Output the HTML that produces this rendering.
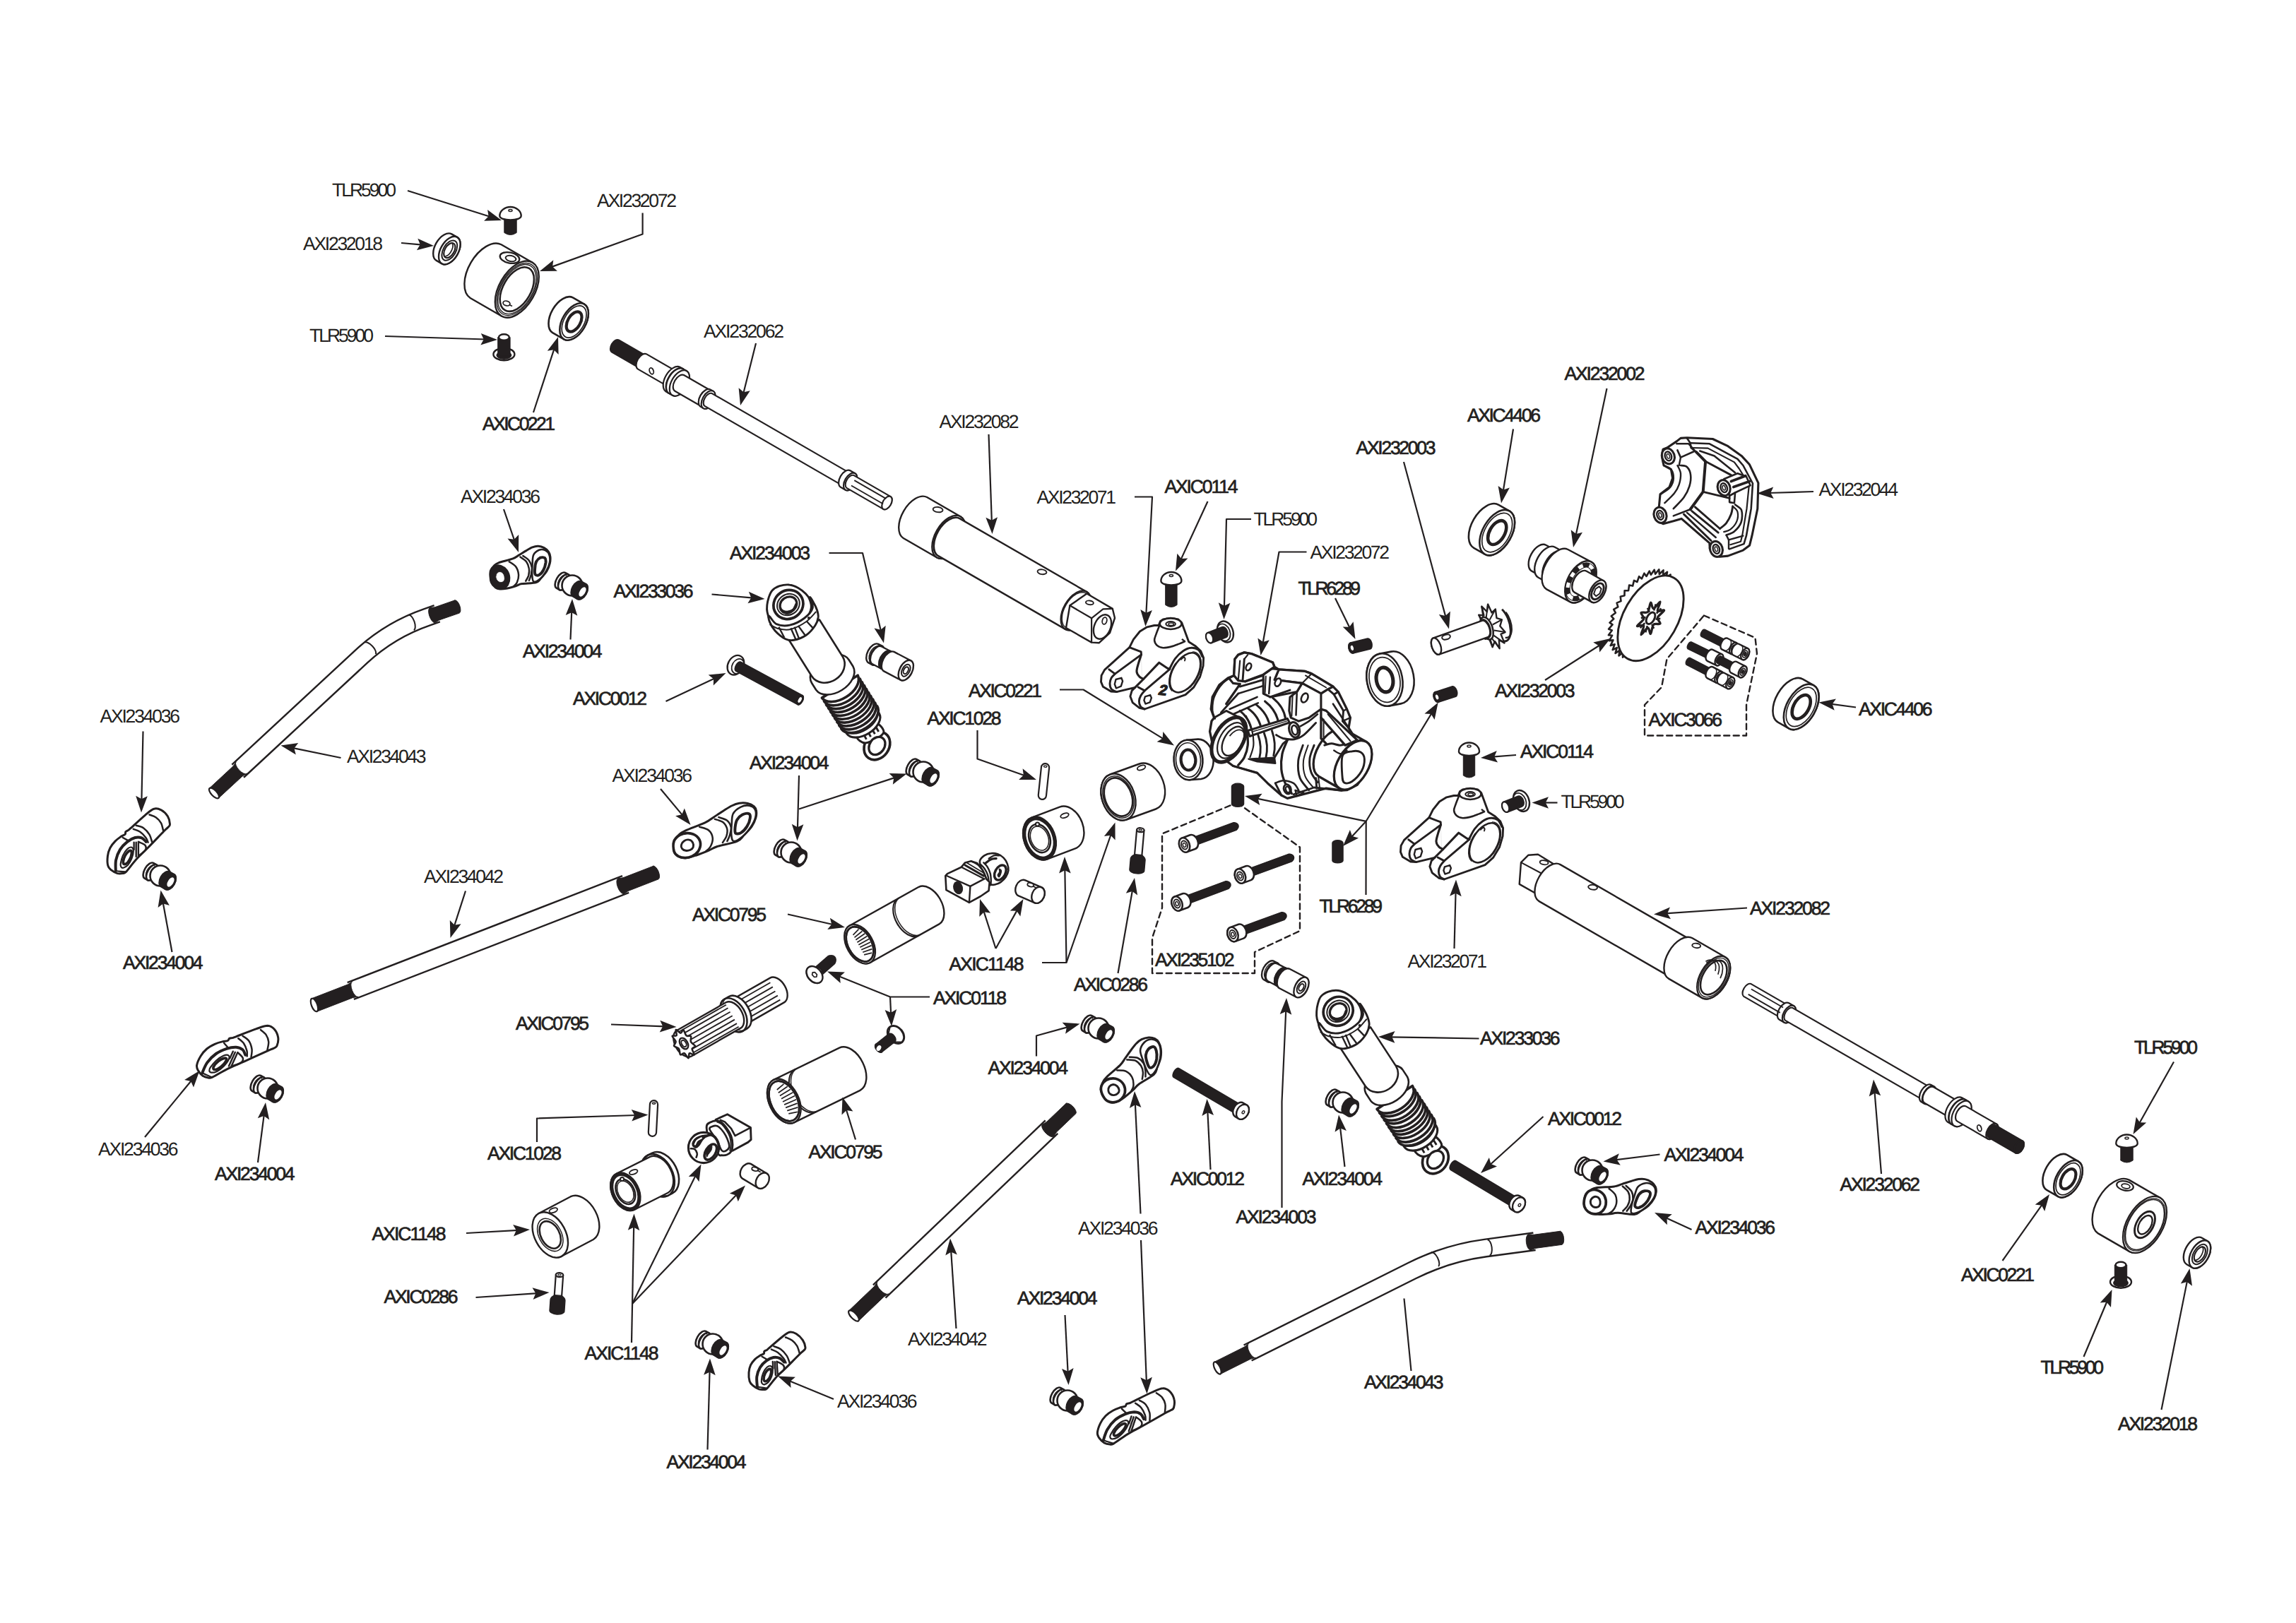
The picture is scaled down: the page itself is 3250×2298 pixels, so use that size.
<!DOCTYPE html><html><head><meta charset="utf-8"><title>Exploded view</title>
<style>html,body{margin:0;padding:0;background:#fff}svg{display:block}text{font-family:"Liberation Sans",sans-serif}</style></head><body>
<svg width="3250" height="2298" viewBox="0 0 3250 2298">
<rect width="3250" height="2298" fill="#fff"/>
<path d="M617.7 368.9L625.5 373.4A21.6 12.5 120 0 0 647.1 335.9L639.3 331.4A21.6 12.5 120 0 0 617.7 368.9Z" fill="#fff" stroke="#231f20" stroke-width="2.4" stroke-linejoin="round"/>
<ellipse cx="636.3" cy="354.6" rx="21.6" ry="12.5" transform="rotate(120 636.3 354.6)" fill="#fff" stroke="#231f20" stroke-width="2.4" />
<ellipse cx="636.3" cy="354.6" rx="15.5" ry="8.9" transform="rotate(120 636.3 354.6)" fill="none" stroke="#231f20" stroke-width="2" />
<ellipse cx="636.3" cy="354.6" rx="11.5" ry="6.6" transform="rotate(120 636.3 354.6)" fill="none" stroke="#231f20" stroke-width="2.2" />
<path d="M630.3 363A11.5 6.6 120 0 0 639.4 343.3" fill="none" stroke="#231f20" stroke-width="1.7"/>
<path d="M665.7 422L709.9 447.5A43.8 25.3 120 0 0 753.7 371.7L709.5 346.2A43.8 25.3 120 0 0 665.7 422Z" fill="#fff" stroke="#231f20" stroke-width="2.4" stroke-linejoin="round"/>
<ellipse cx="731.8" cy="409.6" rx="43.8" ry="25.3" transform="rotate(120 731.8 409.6)" fill="#fff" stroke="#231f20" stroke-width="2.4" />
<ellipse cx="731.8" cy="409.6" rx="40.6" ry="23.4" transform="rotate(120 731.8 409.6)" fill="none" stroke="#231f20" stroke-width="1.4" />
<ellipse cx="731.8" cy="409.6" rx="38.3" ry="22.1" transform="rotate(120 731.8 409.6)" fill="none" stroke="#231f20" stroke-width="1.4" />
<ellipse cx="731.8" cy="409.6" rx="34.2" ry="19.7" transform="rotate(120 731.8 409.6)" fill="none" stroke="#231f20" stroke-width="2.6" />
<ellipse cx="721.5" cy="365" rx="14" ry="7.5" transform="rotate(12 721.5 365)" fill="#fff" stroke="#231f20" stroke-width="2.4"/>
<ellipse cx="723" cy="366" rx="7.5" ry="4" transform="rotate(12 723 366)" fill="#fff" stroke="#231f20" stroke-width="2"/>
<ellipse cx="717" cy="429.5" rx="5" ry="3.3" transform="rotate(15 717 429.5)" fill="#fff" stroke="#231f20" stroke-width="1.8"/>
<path d="M721 431.5L725 433.5" stroke="#231f20" stroke-width="1.7" fill="none"/>
<path d="M782.2 471.1L798.3 480.4A28.7 16.6 120 0 0 827 430.7L810.9 421.4A28.7 16.6 120 0 0 782.2 471.1Z" fill="#fff" stroke="#231f20" stroke-width="2.6" stroke-linejoin="round"/>
<ellipse cx="812.6" cy="455.5" rx="28.7" ry="16.6" transform="rotate(120 812.6 455.5)" fill="#fff" stroke="#231f20" stroke-width="2.6" />
<ellipse cx="812.6" cy="455.5" rx="24.7" ry="14.2" transform="rotate(120 812.6 455.5)" fill="none" stroke="#231f20" stroke-width="1.7" />
<ellipse cx="812.6" cy="455.5" rx="15.5" ry="8.9" transform="rotate(120 812.6 455.5)" fill="#fff" stroke="#231f20" stroke-width="4.2" />
<path d="M713.8 307.5L713.8 329.5Q722.5 335.5 731.2 329.5L731.2 307.5Z" fill="#231f20" stroke="#231f20" stroke-width="1" stroke-linejoin="round" stroke-linecap="round" />
<path d="M707.3 305.5C707.3 298.5 714.5 293 722.5 293C730.5 293 737.7 298.5 737.7 305.5C737.7 313.5 707.3 313.5 707.3 305.5Z" fill="#fff" stroke="#231f20" stroke-width="2.4" stroke-linejoin="round" stroke-linecap="round" />
<ellipse cx="722.5" cy="298" rx="2.6" ry="1.5" fill="none" stroke="#231f20" stroke-width="1.4"/>
<ellipse cx="713.4" cy="501.5" rx="15" ry="8.7" fill="#fff" stroke="#231f20" stroke-width="2.4"/>
<ellipse cx="713.4" cy="503" rx="11" ry="6" fill="#231f20"/>
<path d="M704.7 503.5L704.7 477.5L722.1 477.5L722.1 503.5Z" fill="#231f20" stroke="#231f20" stroke-width="1" stroke-linejoin="round" stroke-linecap="round" />
<ellipse cx="713.4" cy="477.5" rx="7.4" ry="4.2" fill="#fff" stroke="#231f20" stroke-width="2.4"/>
<path d="M866.1 498.5L904.2 520.5A9.8 5.7 120 0 0 914 503.5L875.9 481.5A9.8 5.7 120 0 0 866.1 498.5Z" fill="#231f20" stroke="#231f20" stroke-width="2.2" stroke-linejoin="round"/>
<ellipse cx="909.1" cy="512" rx="9.8" ry="5.7" transform="rotate(120 909.1 512)" fill="#231f20" stroke="#231f20" stroke-width="2.2" />
<path d="M903 522.6L946.3 547.6A12.2 7 120 0 0 958.5 526.4L915.2 501.4A12.2 7 120 0 0 903 522.6Z" fill="#fff" stroke="#231f20" stroke-width="2.2" stroke-linejoin="round"/>
<ellipse cx="952.4" cy="537" rx="12.2" ry="7" transform="rotate(120 952.4 537)" fill="#fff" stroke="#231f20" stroke-width="2.2" />
<path d="M942.4 554.3L946.7 556.8A20 11.5 120 0 0 966.7 522.2L962.4 519.7A20 11.5 120 0 0 942.4 554.3Z" fill="#fff" stroke="#231f20" stroke-width="2.2" stroke-linejoin="round"/>
<ellipse cx="956.7" cy="539.5" rx="20" ry="11.5" transform="rotate(120 956.7 539.5)" fill="#fff" stroke="#231f20" stroke-width="2.2" />
<path d="M946.7 556.8L951.9 559.8A20 11.5 120 0 0 971.9 525.2L966.7 522.2A20 11.5 120 0 0 946.7 556.8Z" fill="#fff" stroke="#231f20" stroke-width="2.2" stroke-linejoin="round"/>
<ellipse cx="961.9" cy="542.5" rx="20" ry="11.5" transform="rotate(120 961.9 542.5)" fill="#fff" stroke="#231f20" stroke-width="2.2" />
<path d="M955.4 553.8L991.8 574.8A13 7.5 120 0 0 1004.8 552.2L968.4 531.2A13 7.5 120 0 0 955.4 553.8Z" fill="#fff" stroke="#231f20" stroke-width="2.2" stroke-linejoin="round"/>
<ellipse cx="998.3" cy="563.5" rx="13" ry="7.5" transform="rotate(120 998.3 563.5)" fill="#fff" stroke="#231f20" stroke-width="2.2" />
<path d="M991.3 575.6L995.6 578.1A14 8.1 120 0 0 1009.6 553.9L1005.3 551.4A14 8.1 120 0 0 991.3 575.6Z" fill="#fff" stroke="#231f20" stroke-width="2.2" stroke-linejoin="round"/>
<ellipse cx="1002.6" cy="566" rx="14" ry="8.1" transform="rotate(120 1002.6 566)" fill="#fff" stroke="#231f20" stroke-width="2.2" />
<path d="M997.5 574.9L1191.5 686.9A10.3 5.9 120 0 0 1201.8 669.1L1007.8 557.1A10.3 5.9 120 0 0 997.5 574.9Z" fill="#fff" stroke="#231f20" stroke-width="2.2" stroke-linejoin="round"/>
<ellipse cx="1196.6" cy="678" rx="10.3" ry="5.9" transform="rotate(120 1196.6 678)" fill="#fff" stroke="#231f20" stroke-width="2.2" />
<path d="M1189.9 689.7L1196.8 693.7A13.5 7.8 120 0 0 1210.3 670.3L1203.4 666.3A13.5 7.8 120 0 0 1189.9 689.7Z" fill="#fff" stroke="#231f20" stroke-width="2.2" stroke-linejoin="round"/>
<ellipse cx="1203.6" cy="682" rx="13.5" ry="7.8" transform="rotate(120 1203.6 682)" fill="#fff" stroke="#231f20" stroke-width="2.2" />
<path d="M1198.4 690.9L1250.4 720.9A10.3 5.9 120 0 0 1260.7 703.1L1208.7 673.1A10.3 5.9 120 0 0 1198.4 690.9Z" fill="#fff" stroke="#231f20" stroke-width="2.2" stroke-linejoin="round"/>
<ellipse cx="1255.5" cy="712" rx="10.3" ry="5.9" transform="rotate(120 1255.5 712)" fill="#fff" stroke="#231f20" stroke-width="2.2" />
<path d="M1209.3 680.1L1254.3 706.1" stroke="#231f20" stroke-width="1.9" fill="none"/>
<path d="M1205 687.5L1250.1 713.5" stroke="#231f20" stroke-width="1.9" fill="none"/>
<ellipse cx="922.2" cy="525.3" rx="2.8" ry="4.6" fill="#fff" stroke="#231f20" stroke-width="1.8" transform="rotate(-20 922.2 525.3)"/>
<path d="M1278.7 762L1326.3 789.5A33.5 19.3 120 0 0 1359.8 731.5L1312.2 704A33.5 19.3 120 0 0 1278.7 762Z" fill="#fff" stroke="#231f20" stroke-width="2.4" stroke-linejoin="round"/>
<ellipse cx="1343" cy="760.5" rx="33.5" ry="19.3" transform="rotate(120 1343 760.5)" fill="#fff" stroke="#231f20" stroke-width="2.4" />
<ellipse cx="1343" cy="760.5" rx="30.9" ry="17.8" transform="rotate(120 1343 760.5)" fill="none" stroke="#231f20" stroke-width="1.4" />
<path d="M1327.8 786.9L1507.9 890.9A30.5 17.6 120 0 0 1538.4 838.1L1358.3 734.1A30.5 17.6 120 0 0 1327.8 786.9Z" fill="#fff" stroke="#231f20" stroke-width="2.4" stroke-linejoin="round"/>
<ellipse cx="1523.2" cy="864.5" rx="30.5" ry="17.6" transform="rotate(120 1523.2 864.5)" fill="#fff" stroke="#231f20" stroke-width="2.4" />
<ellipse cx="1523.2" cy="864.5" rx="28.2" ry="16.3" transform="rotate(120 1523.2 864.5)" fill="none" stroke="#231f20" stroke-width="1.4" />
<path d="M1538.4 840.5L1574.8 861.9L1578 875L1571 896L1555.6 910.3L1545.1 909.6L1509 889L1514.4 857.3Z" fill="#fff" stroke="#231f20" stroke-width="2.4" stroke-linejoin="round" stroke-linecap="round" />
<path d="M1514.4 857.3L1545.1 875.3L1545.1 909.4" fill="none" stroke="#231f20" stroke-width="2.2" stroke-linejoin="round" stroke-linecap="round" />
<path d="M1545.1 875.3L1561.4 862.4L1574.8 861.9" fill="none" stroke="#231f20" stroke-width="2.2" stroke-linejoin="round" stroke-linecap="round" />
<ellipse cx="1560.5" cy="887.5" rx="11.5" ry="18" transform="rotate(22 1560.5 887.5)" fill="#fff" stroke="#231f20" stroke-width="2.4"/>
<ellipse cx="1563.5" cy="879" rx="3.2" ry="5" transform="rotate(15 1563.5 879)" fill="#fff" stroke="#231f20" stroke-width="1.8"/>
<ellipse cx="1327.6" cy="721.6" rx="7" ry="3.6" transform="rotate(8 1327.6 721.6)" fill="#fff" stroke="#231f20" stroke-width="1.9"/>
<ellipse cx="1475" cy="809.7" rx="6.5" ry="3.4" transform="rotate(8 1475 809.7)" fill="#fff" stroke="#231f20" stroke-width="1.9"/>
<ellipse cx="1542.4" cy="853.3" rx="5.5" ry="2.8" transform="rotate(8 1542.4 853.3)" fill="#fff" stroke="#231f20" stroke-width="1.9"/>
<path d="M2468.3 1410.9L2520.3 1440.9A10.3 5.9 120 0 0 2530.6 1423.1L2478.6 1393.1A10.3 5.9 120 0 0 2468.3 1410.9Z" fill="#fff" stroke="#231f20" stroke-width="2.2" stroke-linejoin="round"/>
<ellipse cx="2525.4" cy="1432" rx="10.3" ry="5.9" transform="rotate(120 2525.4 1432)" fill="#fff" stroke="#231f20" stroke-width="2.2" />
<path d="M2518.7 1443.7L2525.6 1447.7A13.5 7.8 120 0 0 2539.1 1424.3L2532.2 1420.3A13.5 7.8 120 0 0 2518.7 1443.7Z" fill="#fff" stroke="#231f20" stroke-width="2.2" stroke-linejoin="round"/>
<ellipse cx="2532.4" cy="1436" rx="13.5" ry="7.8" transform="rotate(120 2532.4 1436)" fill="#fff" stroke="#231f20" stroke-width="2.2" />
<path d="M2527.2 1444.9L2721.2 1556.9A10.3 5.9 120 0 0 2731.5 1539.1L2537.5 1427.1A10.3 5.9 120 0 0 2527.2 1444.9Z" fill="#fff" stroke="#231f20" stroke-width="2.2" stroke-linejoin="round"/>
<ellipse cx="2726.4" cy="1548" rx="10.3" ry="5.9" transform="rotate(120 2726.4 1548)" fill="#fff" stroke="#231f20" stroke-width="2.2" />
<path d="M2719.4 1560.1L2723.7 1562.6A14 8.1 120 0 0 2737.7 1538.4L2733.4 1535.9A14 8.1 120 0 0 2719.4 1560.1Z" fill="#fff" stroke="#231f20" stroke-width="2.2" stroke-linejoin="round"/>
<ellipse cx="2730.7" cy="1550.5" rx="14" ry="8.1" transform="rotate(120 2730.7 1550.5)" fill="#fff" stroke="#231f20" stroke-width="2.2" />
<path d="M2724.2 1561.8L2760.6 1582.8A13 7.5 120 0 0 2773.6 1560.2L2737.2 1539.2A13 7.5 120 0 0 2724.2 1561.8Z" fill="#fff" stroke="#231f20" stroke-width="2.2" stroke-linejoin="round"/>
<ellipse cx="2767.1" cy="1571.5" rx="13" ry="7.5" transform="rotate(120 2767.1 1571.5)" fill="#fff" stroke="#231f20" stroke-width="2.2" />
<path d="M2757.1 1588.8L2762.3 1591.8A20 11.5 120 0 0 2782.3 1557.2L2777.1 1554.2A20 11.5 120 0 0 2757.1 1588.8Z" fill="#fff" stroke="#231f20" stroke-width="2.2" stroke-linejoin="round"/>
<ellipse cx="2772.3" cy="1574.5" rx="20" ry="11.5" transform="rotate(120 2772.3 1574.5)" fill="#fff" stroke="#231f20" stroke-width="2.2" />
<path d="M2762.3 1591.8L2766.6 1594.3A20 11.5 120 0 0 2786.6 1559.7L2782.3 1557.2A20 11.5 120 0 0 2762.3 1591.8Z" fill="#fff" stroke="#231f20" stroke-width="2.2" stroke-linejoin="round"/>
<ellipse cx="2776.6" cy="1577" rx="20" ry="11.5" transform="rotate(120 2776.6 1577)" fill="#fff" stroke="#231f20" stroke-width="2.2" />
<path d="M2770.5 1587.6L2813.8 1612.6A12.2 7 120 0 0 2826 1591.4L2782.7 1566.4A12.2 7 120 0 0 2770.5 1587.6Z" fill="#fff" stroke="#231f20" stroke-width="2.2" stroke-linejoin="round"/>
<ellipse cx="2819.9" cy="1602" rx="12.2" ry="7" transform="rotate(120 2819.9 1602)" fill="#fff" stroke="#231f20" stroke-width="2.2" />
<path d="M2815 1610.5L2853.1 1632.5A9.8 5.7 120 0 0 2862.9 1615.5L2824.8 1593.5A9.8 5.7 120 0 0 2815 1610.5Z" fill="#231f20" stroke="#231f20" stroke-width="2.2" stroke-linejoin="round"/>
<ellipse cx="2858" cy="1624" rx="9.8" ry="5.7" transform="rotate(120 2858 1624)" fill="#231f20" stroke="#231f20" stroke-width="2.2" />
<path d="M2519.7 1433.9L2474.7 1407.9" stroke="#231f20" stroke-width="1.9" fill="none"/>
<path d="M2524 1426.5L2478.9 1400.5" stroke="#231f20" stroke-width="1.9" fill="none"/>
<ellipse cx="2801.8" cy="1597.3" rx="2.8" ry="4.6" fill="#fff" stroke="#231f20" stroke-width="1.8" transform="rotate(-20 2801.8 1597.3)"/>
<path d="M2153 1221.2L2163.5 1210.7L2177 1209.7L2201.9 1225L2185.6 1262.1L2177.9 1267.2L2150.7 1251.9Z" fill="#fff" stroke="#231f20" stroke-width="2.4" stroke-linejoin="round" stroke-linecap="round" />
<path d="M2153 1221.2L2185.6 1238.5" stroke="#231f20" stroke-width="2" fill="none"/>
<ellipse cx="2185.6" cy="1221.2" rx="6" ry="3" transform="rotate(8 2185.6 1221.2)" fill="#fff" stroke="#231f20" stroke-width="1.9"/>
<path d="M2178.6 1276.1L2363.9 1383.1A30 17.3 120 0 0 2393.9 1331.1L2208.6 1224.1A30 17.3 120 0 0 2178.6 1276.1Z" fill="#fff" stroke="#231f20" stroke-width="2.4" stroke-linejoin="round"/>
<path d="M2362.3 1385.9L2409.1 1412.9A33.2 19.2 120 0 0 2442.3 1355.3L2395.5 1328.3A33.2 19.2 120 0 0 2362.3 1385.9Z" fill="#fff" stroke="#231f20" stroke-width="2.4" stroke-linejoin="round"/>
<ellipse cx="2425.7" cy="1384.1" rx="33.2" ry="19.2" transform="rotate(120 2425.7 1384.1)" fill="#fff" stroke="#231f20" stroke-width="2.4" />
<ellipse cx="2425.7" cy="1384.1" rx="30.3" ry="17.5" transform="rotate(120 2425.7 1384.1)" fill="none" stroke="#231f20" stroke-width="1.4" />
<ellipse cx="2425.7" cy="1384.1" rx="26.5" ry="15.3" transform="rotate(120 2425.7 1384.1)" fill="none" stroke="#231f20" stroke-width="2.6" />
<path d="M2435.1 1385.2A24 13.8 120 0 0 2416.1 1366" fill="none" stroke="#231f20" stroke-width="1.7"/>
<path d="M2431.8 1379.7A22 12.7 120 0 0 2415.5 1363.3" fill="none" stroke="#231f20" stroke-width="1.7"/>
<path d="M2427.9 1374.9A20 11.5 120 0 0 2414.4 1361.3" fill="none" stroke="#231f20" stroke-width="1.7"/>
<ellipse cx="2254.6" cy="1256.3" rx="6.5" ry="3.4" transform="rotate(8 2254.6 1256.3)" fill="#fff" stroke="#231f20" stroke-width="1.9"/>
<ellipse cx="2401.2" cy="1338.9" rx="6" ry="3.2" transform="rotate(8 2401.2 1338.9)" fill="#fff" stroke="#231f20" stroke-width="1.9"/>
<path d="M2086.2 775.8L2101.6 784.6A35.2 20.3 120 0 0 2136.8 723.6L2121.4 714.8A35.2 20.3 120 0 0 2086.2 775.8Z" fill="#fff" stroke="#231f20" stroke-width="2.6" stroke-linejoin="round"/>
<ellipse cx="2119.2" cy="754.1" rx="35.2" ry="20.3" transform="rotate(120 2119.2 754.1)" fill="#fff" stroke="#231f20" stroke-width="2.6" />
<ellipse cx="2119.2" cy="754.1" rx="30.3" ry="17.5" transform="rotate(120 2119.2 754.1)" fill="none" stroke="#231f20" stroke-width="1.7" />
<ellipse cx="2119.2" cy="754.1" rx="18.5" ry="10.7" transform="rotate(120 2119.2 754.1)" fill="#fff" stroke="#231f20" stroke-width="4.6" />
<path d="M2516.7 1022.6L2532.1 1031.4A35.2 20.3 120 0 0 2567.3 970.4L2551.9 961.6A35.2 20.3 120 0 0 2516.7 1022.6Z" fill="#fff" stroke="#231f20" stroke-width="2.6" stroke-linejoin="round"/>
<ellipse cx="2549.7" cy="1000.9" rx="35.2" ry="20.3" transform="rotate(120 2549.7 1000.9)" fill="#fff" stroke="#231f20" stroke-width="2.6" />
<ellipse cx="2549.7" cy="1000.9" rx="30.3" ry="17.5" transform="rotate(120 2549.7 1000.9)" fill="none" stroke="#231f20" stroke-width="1.7" />
<ellipse cx="2549.7" cy="1000.9" rx="18.5" ry="10.7" transform="rotate(120 2549.7 1000.9)" fill="#fff" stroke="#231f20" stroke-width="4.6" />
<path d="M1695.8 1046.6L1679.9 1047.8A28.3 20.4 -94.3 0 0 1684.2 1104.2L1700.1 1103A28.3 20.4 -94.3 0 0 1695.8 1046.6Z" fill="#fff" stroke="#231f20" stroke-width="2.6" stroke-linejoin="round"/>
<ellipse cx="1682" cy="1076" rx="28.3" ry="20.4" transform="rotate(-94.3 1682 1076)" fill="#fff" stroke="#231f20" stroke-width="2.6" />
<ellipse cx="1682" cy="1076" rx="24.3" ry="17.5" transform="rotate(-94.3 1682 1076)" fill="none" stroke="#231f20" stroke-width="1.7" />
<ellipse cx="1682" cy="1076" rx="14.5" ry="10.4" transform="rotate(-94.3 1682 1076)" fill="#fff" stroke="#231f20" stroke-width="4.2" />
<path d="M1969.1 922.6L1953.1 925.6A37.5 25.1 -100.6 0 0 1966.9 999.4L1982.9 996.4A37.5 25.1 -100.6 0 0 1969.1 922.6Z" fill="#fff" stroke="#231f20" stroke-width="2.6" stroke-linejoin="round"/>
<ellipse cx="1960" cy="962.5" rx="37.5" ry="25.1" transform="rotate(-100.6 1960 962.5)" fill="#fff" stroke="#231f20" stroke-width="2.6" />
<ellipse cx="1960" cy="962.5" rx="32.2" ry="21.6" transform="rotate(-100.6 1960 962.5)" fill="none" stroke="#231f20" stroke-width="1.7" />
<ellipse cx="1960" cy="962.5" rx="17.5" ry="11.7" transform="rotate(-100.6 1960 962.5)" fill="#fff" stroke="#231f20" stroke-width="5.1" />
<path d="M2373.3 624.9L2379 620.4L2388 619.8L2424.3 621.5L2445.9 631.7L2465.1 645.4L2476.5 657.8L2488.9 683.9L2487.8 720.2L2479.9 758.7L2476.5 772.3L2467.4 779.1L2445.9 787.1L2434.5 788.2L2425.4 785.9L2420.3 776.9L2419.8 768.9L2380.1 734.4L2368.8 737.8L2354 741.7L2344.9 737.2L2342.1 727L2344.9 720.2L2348.3 717.9L2350 699.8L2363.1 689.6L2367.6 677.1L2365.4 664.6L2355.1 659L2354 654.4L2352.3 645.4L2354 636.3L2359.7 634Z" fill="#fff" stroke="#231f20" stroke-width="3.1" stroke-linejoin="round" stroke-linecap="round" />
<path d="M2392.6 627.2L2419.8 628.3L2459.5 649.9L2467.4 659L2481 684.5L2478.7 720.2L2471.9 758.7L2468.5 770.1L2448.1 777.4" fill="none" stroke="#231f20" stroke-width="2.6" stroke-linejoin="round" stroke-linecap="round" />
<path d="M2393.7 634L2417.5 634.6L2454.9 654.4L2461.7 663.5L2475.9 686.2L2472.5 720.2L2466.3 757.6L2464 766.7L2449.3 771.2" fill="none" stroke="#231f20" stroke-width="2.2" stroke-linejoin="round" stroke-linecap="round" />
<path d="M2388 620.4L2392.6 627.2L2393.7 634L2401.1 640.2" fill="none" stroke="#231f20" stroke-width="2.6" stroke-linejoin="round" stroke-linecap="round" />
<path d="M2401.1 640.2L2414.1 653.3L2410.7 696.4L2392.6 721.3" fill="none" stroke="#231f20" stroke-width="4" stroke-linejoin="round" stroke-linecap="round" />
<path d="M2414.1 653.3L2450.4 672.6" fill="none" stroke="#231f20" stroke-width="2.9" stroke-linejoin="round" stroke-linecap="round" />
<path d="M2406.2 638.5L2426.6 645.4L2456.1 669.2" fill="none" stroke="#231f20" stroke-width="2.6" stroke-linejoin="round" stroke-linecap="round" />
<path d="M2410.7 696.4L2448.1 705.4" fill="none" stroke="#231f20" stroke-width="2.9" stroke-linejoin="round" stroke-linecap="round" />
<path d="M2399.4 717.9L2434.5 748.5" fill="none" stroke="#231f20" stroke-width="2.9" stroke-linejoin="round" stroke-linecap="round" />
<path d="M2392.6 721.3L2368.8 730.4" fill="none" stroke="#231f20" stroke-width="2.6" stroke-linejoin="round" stroke-linecap="round" />
<path d="M2373.3 628.3L2390.3 628.3L2399.4 638.5L2379 647.6L2374.4 637.4" fill="none" stroke="#231f20" stroke-width="2.6" stroke-linejoin="round" stroke-linecap="round" />
<path d="M2379 647.6L2376.7 659" fill="none" stroke="#231f20" stroke-width="2.4" stroke-linejoin="round" stroke-linecap="round" />
<path d="M2355.1 659C2356.8 659.9 2363.1 661.6 2365.4 664.6C2367.6 667.6 2368.9 672.9 2368.8 677.1C2368.6 681.3 2367.2 685.8 2364.2 689.6C2361.2 693.3 2352.9 698.1 2350.6 699.8" fill="none" stroke="#231f20" stroke-width="2.6" stroke-linejoin="round" stroke-linecap="round" />
<path d="M2374.4 659C2375.2 660.8 2378.6 665.8 2379 670.3C2379.3 674.8 2378.2 681.4 2376.7 686.2C2375.2 690.9 2373.3 694.3 2369.9 698.6C2366.5 703 2358.5 710 2356.3 712.2" fill="none" stroke="#231f20" stroke-width="2.4" stroke-linejoin="round" stroke-linecap="round" />
<path d="M2379 659C2380.5 659.3 2385.7 659 2388 661.2C2390.4 663.5 2392.6 668 2393.1 672.6C2393.7 677.1 2393 683.1 2391.4 688.4C2389.8 693.7 2387.3 699 2383.5 704.3C2379.7 709.6 2371.2 717.5 2368.8 720.2" fill="none" stroke="#231f20" stroke-width="2.6" stroke-linejoin="round" stroke-linecap="round" />
<path d="M2440.2 678.2L2459.5 670.3L2471.9 674.8L2477.6 687.3L2456.1 697.5L2448.1 702Z" fill="#fff" stroke="#231f20" stroke-width="2.6" stroke-linejoin="round" stroke-linecap="round" />
<path d="M2450.4 681.6L2470.8 673.7" fill="none" stroke="#231f20" stroke-width="3.7" stroke-linejoin="round" stroke-linecap="round" />
<path d="M2453.8 689.6L2476.5 681.6" fill="none" stroke="#231f20" stroke-width="3.7" stroke-linejoin="round" stroke-linecap="round" />
<path d="M2456.1 697.5L2454.9 712.2L2448.1 711.1L2448.1 702" fill="none" stroke="#231f20" stroke-width="2.6" stroke-linejoin="round" stroke-linecap="round" />
<path d="M2456.1 714.5C2457.6 715.8 2463.7 718.3 2465.1 722.4C2466.5 726.6 2466.3 734.4 2464.6 739.5C2462.9 744.5 2458.4 749.5 2454.9 752.5C2451.4 755.5 2445.5 756.7 2443.6 757.6" fill="none" stroke="#231f20" stroke-width="2.6" stroke-linejoin="round" stroke-linecap="round" />
<path d="M2452.7 716.8C2453.8 718.1 2458.5 721.1 2459.5 724.7C2460.4 728.3 2460 734.2 2458.3 738.3C2456.6 742.5 2452.3 747.2 2449.3 749.7C2446.2 752.1 2441.7 752.5 2440.2 753.1" fill="none" stroke="#231f20" stroke-width="2.2" stroke-linejoin="round" stroke-linecap="round" />
<path d="M2434.5 748.5C2436 747.2 2440.9 744 2443.6 740.6C2446.2 737.2 2448.9 732.1 2450.4 728.1C2451.9 724.1 2452.3 718.7 2452.7 716.8" fill="none" stroke="#231f20" stroke-width="2.9" stroke-linejoin="round" stroke-linecap="round" />
<path d="M2443.6 757.6L2447 764.4L2467.4 758.7" fill="none" stroke="#231f20" stroke-width="2.4" stroke-linejoin="round" stroke-linecap="round" />
<path d="M2447 764.4L2447 776.9" fill="none" stroke="#231f20" stroke-width="2.4" stroke-linejoin="round" stroke-linecap="round" />
<path d="M2383.5 728.1L2422 765.5" fill="none" stroke="#231f20" stroke-width="2.9" stroke-linejoin="round" stroke-linecap="round" />
<path d="M2388 725.9L2428.8 761" fill="none" stroke="#231f20" stroke-width="2.4" stroke-linejoin="round" stroke-linecap="round" />
<path d="M2394.8 723.6L2432.2 754.2" fill="none" stroke="#231f20" stroke-width="2.9" stroke-linejoin="round" stroke-linecap="round" />
<ellipse cx="2361.4" cy="645.9" rx="8.8" ry="11.2" transform="rotate(-18 2361.4 645.9)" fill="#fff" stroke="#231f20" stroke-width="3.1"/>
<ellipse cx="2361.4" cy="645.9" rx="4.6" ry="6.6" transform="rotate(-18 2361.4 645.9)" fill="#fff" stroke="#231f20" stroke-width="2.4"/>
<ellipse cx="2361.4" cy="645.9" rx="2" ry="3.4" transform="rotate(-18 2361.4 645.9)" fill="#fff" stroke="#231f20" stroke-width="1.5"/>
<ellipse cx="2350" cy="729.3" rx="8.8" ry="11.2" transform="rotate(-18 2350 729.3)" fill="#fff" stroke="#231f20" stroke-width="3.1"/>
<ellipse cx="2350" cy="729.3" rx="4.6" ry="6.6" transform="rotate(-18 2350 729.3)" fill="#fff" stroke="#231f20" stroke-width="2.4"/>
<ellipse cx="2350" cy="729.3" rx="2" ry="3.4" transform="rotate(-18 2350 729.3)" fill="#fff" stroke="#231f20" stroke-width="1.5"/>
<ellipse cx="2440.2" cy="690.7" rx="8.8" ry="11.2" transform="rotate(-18 2440.2 690.7)" fill="#fff" stroke="#231f20" stroke-width="3.1"/>
<ellipse cx="2440.2" cy="690.7" rx="4.6" ry="6.6" transform="rotate(-18 2440.2 690.7)" fill="#fff" stroke="#231f20" stroke-width="2.4"/>
<ellipse cx="2440.2" cy="690.7" rx="2" ry="3.4" transform="rotate(-18 2440.2 690.7)" fill="#fff" stroke="#231f20" stroke-width="1.5"/>
<ellipse cx="2429.4" cy="777.4" rx="8.8" ry="11.2" transform="rotate(-18 2429.4 777.4)" fill="#fff" stroke="#231f20" stroke-width="3.1"/>
<ellipse cx="2429.4" cy="777.4" rx="4.6" ry="6.6" transform="rotate(-18 2429.4 777.4)" fill="#fff" stroke="#231f20" stroke-width="2.4"/>
<ellipse cx="2429.4" cy="777.4" rx="2" ry="3.4" transform="rotate(-18 2429.4 777.4)" fill="#fff" stroke="#231f20" stroke-width="1.5"/>
<path d="M2168.2 808.6L2179.2 814.6A21 12.1 118.6 0 0 2199.3 777.8L2188.3 771.7A21 12.1 118.6 0 0 2168.2 808.6Z" fill="#fff" stroke="#231f20" stroke-width="2.4" stroke-linejoin="round"/>
<ellipse cx="2189.3" cy="796.2" rx="21" ry="12.1" transform="rotate(118.6 2189.3 796.2)" fill="#fff" stroke="#231f20" stroke-width="2.4" />
<path d="M2177.5 817.7L2188.6 823.7A24.5 14.1 118.6 0 0 2212 780.7L2201 774.7A24.5 14.1 118.6 0 0 2177.5 817.7Z" fill="#fff" stroke="#231f20" stroke-width="2.4" stroke-linejoin="round"/>
<ellipse cx="2200.3" cy="802.2" rx="24.5" ry="14.1" transform="rotate(118.6 2200.3 802.2)" fill="#fff" stroke="#231f20" stroke-width="2.4" />
<path d="M2189.2 834.4L2222.3 852.1A32 18.5 118.1 0 0 2252.4 795.6L2219.4 778A32 18.5 118.1 0 0 2189.2 834.4Z" fill="#fff" stroke="#231f20" stroke-width="2.4" stroke-linejoin="round"/>
<ellipse cx="2237.4" cy="823.8" rx="32" ry="18.5" transform="rotate(118.1 2237.4 823.8)" fill="#fff" stroke="#231f20" stroke-width="2.4" />
<ellipse cx="2237.4" cy="823.8" rx="26" ry="15" transform="rotate(120 2237.4 823.8)" fill="#fff" stroke="#231f20" stroke-width="7.2" />
<g>
<ellipse cx="2237.4" cy="823.8" rx="26" ry="15" transform="rotate(120 2237.4 823.8)" fill="none" stroke="#fff" stroke-width="5.1" stroke-dasharray="7 9"/>
</g>
<path d="M2228.9 838.9L2253 852.4A17.3 10 119.2 0 0 2269.8 822.2L2245.8 808.7A17.3 10 119.2 0 0 2228.9 838.9Z" fill="#fff" stroke="#231f20" stroke-width="2.4" stroke-linejoin="round"/>
<ellipse cx="2261.4" cy="837.3" rx="17.3" ry="10" transform="rotate(119.2 2261.4 837.3)" fill="#fff" stroke="#231f20" stroke-width="2.4" />
<ellipse cx="2261.4" cy="837.3" rx="12.5" ry="7.2" transform="rotate(120 2261.4 837.3)" fill="none" stroke="#231f20" stroke-width="2.9" />
<path d="M2259.2 844.1L2264.4 840.5L2266.7 833.7L2263.6 830.4L2258.4 834L2256.1 840.8Z" fill="#fff" stroke="#231f20" stroke-width="2" stroke-linejoin="round" stroke-linecap="round" />
<path d="M2295 921.2L2306.3 927.7A60.5 34.9 120 0 0 2366.8 822.9L2355.5 816.4A60.5 34.9 120 0 0 2295 921.2Z" fill="#fff" stroke="#231f20" stroke-width="0.1" stroke-linejoin="round"/>
<path d="M2368.4 818.5L2362.4 821.3L2364.6 813.5L2358.6 817.3L2360 809.8L2354 814.6L2354.5 807.4L2348.8 813L2348.3 806.3L2343.1 812.7L2341.7 806.7L2336.9 813.7L2334.7 808.6L2330.5 816L2327.4 811.7L2323.9 819.4L2320.1 816.2L2317.4 824L2313 821.9L2311.1 829.6L2306.1 828.6L2305.1 836.1L2299.6 836.3L2299.5 843.3L2293.7 844.7L2294.5 851.1L2288.6 853.6L2290.3 859.3L2284.2 862.9L2286.8 867.7L2280.8 872.3L2284.2 876.2L2278.5 881.6L2282.5 884.4L2277.1 890.7L2281.8 892.4L2276.9 899.2L2282.1 899.7L2277.8 907.1L2283.4 906.4L2279.7 914.1L2285.6 912.3L2282.7 920.1L2288.7 917.1L2286.6 924.9L2292.7 920.9L2291.5 928.4L2297.3 923.4L2297 930.6L2302.7 924.8L2303.3 931.4" fill="#fff" stroke="#231f20" stroke-width="2.6" stroke-linejoin="round" stroke-linecap="round" />
<ellipse cx="2336.5" cy="875.3" rx="66" ry="38.1" transform="rotate(120 2336.5 875.3)" fill="#fff" stroke="#231f20" stroke-width="2.9" />
<path d="M2323 898.7C2324 899.3 2330.2 889.2 2332.5 889C2334.7 888.8 2335.2 898.2 2336.5 897.4C2337.9 896.6 2338.3 886.7 2340.6 884.3C2342.8 881.9 2349.1 884.8 2350 883.1C2351 881.5 2345.4 877.5 2346.3 874.4C2347.3 871.2 2355.6 865.9 2355.6 864.3C2355.6 862.7 2347.3 867 2346.3 865C2345.4 862.9 2351 852.5 2350 852C2349.1 851.4 2342.8 861.5 2340.6 861.7C2338.3 861.9 2337.9 852.5 2336.5 853.3C2335.2 854.1 2334.7 864 2332.5 866.4C2330.2 868.7 2324 865.9 2323 867.5C2322.1 869.2 2327.7 873.2 2326.7 876.3C2325.8 879.4 2317.4 884.8 2317.4 886.4C2317.4 887.9 2325.8 883.6 2326.7 885.7C2327.7 887.7 2322.1 898.2 2323 898.7Z" fill="#fff" stroke="#231f20" stroke-width="3.3" stroke-linejoin="round" stroke-linecap="round" />
<ellipse cx="2336.5" cy="875.3" rx="9" ry="5.2" transform="rotate(120 2336.5 875.3)" fill="#fff" stroke="#231f20" stroke-width="2.9" />
<path d="M2331.8 886.2L2329.3 895.4" stroke="#231f20" stroke-width="2.6" fill="none"/>
<path d="M2338.2 884L2341.1 889.8" stroke="#231f20" stroke-width="2.6" fill="none"/>
<path d="M2343.6 876.7L2350.3 875.8" stroke="#231f20" stroke-width="2.6" fill="none"/>
<path d="M2344.8 868.6L2351.4 861.4" stroke="#231f20" stroke-width="2.6" fill="none"/>
<path d="M2341.2 864.5L2343.8 855.3" stroke="#231f20" stroke-width="2.6" fill="none"/>
<path d="M2334.9 866.7L2331.9 860.8" stroke="#231f20" stroke-width="2.6" fill="none"/>
<path d="M2329.5 874L2322.8 874.9" stroke="#231f20" stroke-width="2.6" fill="none"/>
<path d="M2328.2 882.1L2321.7 889.2" stroke="#231f20" stroke-width="2.6" fill="none"/>
<path d="M2122.7 918.2L2121.8 906L2129.5 910.4L2124.5 897.9L2130.6 895.1L2123.3 886.4L2125.9 877.3L2118.5 875.1L2116.8 862.5L2111.6 867.6L2106.1 855.5L2104.9 866.2L2097.3 858.6L2100.4 871.4L2093.2 870.6L2099.6 881.6L2095 887.9L2102.7 893.5L2102.3 904.8L2108.8 903.3L2112.6 916.2L2115.9 908Z" fill="#fff" stroke="#231f20" stroke-width="2.4" stroke-linejoin="round" stroke-linecap="round" />
<path d="M2122.7 918.2L2111.2 903.1" stroke="#231f20" stroke-width="2" fill="none"/>
<path d="M2129.5 910.4L2114.3 899.6" stroke="#231f20" stroke-width="2" fill="none"/>
<path d="M2130.6 895.1L2114.8 892.6" stroke="#231f20" stroke-width="2" fill="none"/>
<path d="M2125.9 877.3L2112.7 884.5" stroke="#231f20" stroke-width="2" fill="none"/>
<path d="M2116.8 862.5L2108.5 877.8" stroke="#231f20" stroke-width="2" fill="none"/>
<path d="M2106.1 855.5L2103.7 874.6" stroke="#231f20" stroke-width="2" fill="none"/>
<path d="M2097.3 858.6L2099.7 876" stroke="#231f20" stroke-width="2" fill="none"/>
<path d="M2093.2 870.6L2097.8 881.5" stroke="#231f20" stroke-width="2" fill="none"/>
<path d="M2095 887.9L2098.6 889.3" stroke="#231f20" stroke-width="2" fill="none"/>
<path d="M2102.3 904.8L2101.9 897.1" stroke="#231f20" stroke-width="2" fill="none"/>
<path d="M2112.6 916.2L2106.6 902.2" stroke="#231f20" stroke-width="2" fill="none"/>
<path d="M2127.6 907.8A26 13 71.1 0 0 2126.1 862.7" fill="none" stroke="#231f20" stroke-width="2.9"/>
<path d="M2130.7 902.7A22 11 71.1 0 0 2131.4 866.7" fill="none" stroke="#231f20" stroke-width="2.4"/>
<ellipse cx="2104.4" cy="889.6" rx="16.5" ry="8.2" transform="rotate(71.1 2104.4 889.6)" fill="#fff" stroke="#231f20" stroke-width="2.6" />
<ellipse cx="2102.5" cy="890.2" rx="13.5" ry="6.8" transform="rotate(71.1 2102.5 890.2)" fill="#fff" stroke="#231f20" stroke-width="2.2" />
<path d="M2098.4 878.7L2028.9 903.4A12.3 6.2 -109.6 0 0 2037.1 926.6L2106.7 901.8A12.3 6.2 -109.6 0 0 2098.4 878.7Z" fill="#fff" stroke="#231f20" stroke-width="2.4" stroke-linejoin="round"/>
<ellipse cx="2033" cy="915" rx="12.3" ry="6.2" transform="rotate(-109.6 2033 915)" fill="#fff" stroke="#231f20" stroke-width="2.4" />
<ellipse cx="2047" cy="902" rx="6" ry="3.4" transform="rotate(-15 2047 902)" fill="#fff" stroke="#231f20" stroke-width="2"/>
<path d="M1747.9 933.2L1752.8 927.1L1761.3 923.9L1772.3 925.9L1801.6 938.1L1804 944.2L1810.1 947.8L1846.7 950.3L1856.5 953.9L1887 972.2L1894.3 979.6L1906.5 1004L1911.4 1016.2L1909 1030.8L1919.9 1047.9L1930.9 1052.8L1938.2 1062.5L1938.7 1074.7L1933.4 1094.3L1921.2 1111.3L1906.5 1118.7L1899.2 1119.2L1877.2 1116.2L1822.3 1130.4L1813.8 1126L1794.3 1108.9L1779.6 1094.3L1745.5 1084.5L1725.9 1069.9L1716.2 1052.8L1712.5 1035.7L1715 1021.1L1718.6 1016.2L1714.2 1004L1716.2 986.9L1725.9 969.8L1738.1 960L1746.7 956.4Z" fill="#fff" stroke="#231f20" stroke-width="3.3" stroke-linejoin="round" stroke-linecap="round" />
<path d="M1746.7 956.4C1744 958.2 1735.5 962.3 1730.8 967.4C1726.1 972.5 1721.1 980.4 1718.6 986.9C1716.2 993.4 1716 1001.3 1716.2 1006.4C1716.4 1011.5 1719.2 1015.6 1719.8 1017.4" fill="none" stroke="#231f20" stroke-width="2.6" stroke-linejoin="round" stroke-linecap="round" />
<path d="M1822.3 1047.9C1821.1 1051.2 1816.4 1060.5 1815 1067.4C1813.6 1074.3 1813.1 1082.5 1813.8 1089.4C1814.5 1096.3 1816.7 1103.2 1819.2 1108.9C1821.6 1114.6 1826.9 1121.1 1828.4 1123.5" fill="none" stroke="#231f20" stroke-width="3.3" stroke-linejoin="round" stroke-linecap="round" />
<path d="M1844.3 1055.2C1843.2 1058.9 1838.4 1069.5 1837.7 1077.2C1837 1084.9 1837.6 1094.7 1840.1 1101.6C1842.7 1108.5 1850.7 1115.8 1852.8 1118.7" fill="none" stroke="#231f20" stroke-width="2.9" stroke-linejoin="round" stroke-linecap="round" />
<path d="M1851.6 1055.2C1850.5 1058.9 1845.7 1069.9 1845 1077.2C1844.3 1084.5 1845.1 1092.8 1847.5 1099.1C1849.8 1105.4 1857 1112.4 1858.9 1115" fill="none" stroke="#231f20" stroke-width="2" stroke-linejoin="round" stroke-linecap="round" />
<path d="M1860.1 1055.2C1859.1 1058.3 1854.8 1067.2 1854 1073.5C1853.3 1079.8 1853.9 1087.3 1855.8 1093C1857.6 1098.7 1863.5 1105.2 1865 1107.7" fill="none" stroke="#231f20" stroke-width="2.9" stroke-linejoin="round" stroke-linecap="round" />
<path d="M1868 1054C1867.1 1056.6 1863.1 1064.4 1862.6 1069.9C1862.1 1075.3 1863 1081.9 1865 1086.9C1867.1 1092 1873.2 1098.1 1874.8 1100.4" fill="none" stroke="#231f20" stroke-width="2.4" stroke-linejoin="round" stroke-linecap="round" />
<path d="M1862.6 1101.6L1863.8 1116.2" fill="none" stroke="#231f20" stroke-width="2.9" stroke-linejoin="round" stroke-linecap="round" />
<path d="M1866.2 1100.4L1868 1115.7" fill="none" stroke="#231f20" stroke-width="2" stroke-linejoin="round" stroke-linecap="round" />
<path d="M1805.2 1108.9L1813.8 1126" fill="none" stroke="#231f20" stroke-width="2.9" stroke-linejoin="round" stroke-linecap="round" />
<path d="M1830.9 1124.8L1860.1 1115L1899.2 1119.2" fill="none" stroke="#231f20" stroke-width="2.9" stroke-linejoin="round" stroke-linecap="round" />
<path d="M1805.2 1108.9C1807.1 1108.3 1812 1105.2 1816.2 1105.2C1820.5 1105.2 1827.2 1106.7 1830.9 1108.9C1834.5 1111.1 1837 1117 1838.2 1118.7" fill="none" stroke="#231f20" stroke-width="2.6" stroke-linejoin="round" stroke-linecap="round" />
<ellipse cx="1822.3" cy="1117.4" rx="4.9" ry="6.8" transform="rotate(-20 1822.3 1117.4)" fill="#fff" stroke="#231f20" stroke-width="2.9"/>
<ellipse cx="1822.8" cy="1117.9" rx="2.7" ry="4.4" transform="rotate(-20 1822.8 1117.9)" fill="#fff" stroke="#231f20" stroke-width="2.4"/>
<path d="M1833.3 1118.7L1845.5 1122.3L1835.7 1127.2Z" fill="none" stroke="#231f20" stroke-width="2.2" stroke-linejoin="round" stroke-linecap="round" />
<path d="M1866.6 1099.2L1896.1 1116.2A38 21.9 120 0 0 1934.1 1050.4L1904.6 1033.4A38 21.9 120 0 0 1866.6 1099.2Z" fill="#fff" stroke="#231f20" stroke-width="3.3" stroke-linejoin="round"/>
<ellipse cx="1915.1" cy="1083.3" rx="38" ry="21.9" transform="rotate(120 1915.1 1083.3)" fill="#fff" stroke="#231f20" stroke-width="3.3" />
<path d="M1900.4 1069.9C1902.7 1064.2 1909.6 1064.6 1913.8 1063.8C1918.1 1062.9 1923.1 1063.1 1926 1065C1929 1066.8 1931.2 1070.3 1931.4 1074.7C1931.6 1079.2 1930.2 1086.5 1927.3 1091.8C1924.3 1097.1 1917.9 1103.7 1913.8 1106.5C1909.8 1109.2 1905.2 1109.6 1902.9 1108.2C1900.5 1106.7 1900.3 1104.3 1899.9 1097.9C1899.5 1091.5 1898.1 1075.6 1900.4 1069.9Z" fill="#fff" stroke="#231f20" stroke-width="2.9" stroke-linejoin="round" stroke-linecap="round" />
<path d="M1874.8 1055.2C1876.4 1054.8 1880.9 1052.8 1884.5 1052.8C1888.2 1052.8 1893.1 1055.2 1896.7 1055.2C1900.4 1055.2 1902.9 1053.9 1906.5 1052.8C1910.2 1051.6 1916.7 1049.1 1918.7 1048.4" fill="none" stroke="#231f20" stroke-width="2.9" stroke-linejoin="round" stroke-linecap="round" />
<path d="M1888.2 1062.5C1889.8 1063.4 1894.9 1067.4 1898 1067.4C1901 1067.4 1905.1 1063.4 1906.5 1062.5" fill="none" stroke="#231f20" stroke-width="2.4" stroke-linejoin="round" stroke-linecap="round" />
<path d="M1869.9 1004L1877.2 1006.4L1921.2 1047.9L1904.1 1055.2L1869.9 1016.2Z" fill="#fff" stroke="#231f20" stroke-width="3.3" stroke-linejoin="round" stroke-linecap="round" />
<path d="M1879.7 1011.3L1911.4 1049.1" fill="none" stroke="#231f20" stroke-width="2.2" stroke-linejoin="round" stroke-linecap="round" />
<path d="M1888.2 983.2L1901.6 1006.4L1900.4 1021.1L1909 1030.8" fill="none" stroke="#231f20" stroke-width="2.9" stroke-linejoin="round" stroke-linecap="round" />
<path d="M1901.6 1006.4L1906.5 1004" fill="none" stroke="#231f20" stroke-width="2.4" stroke-linejoin="round" stroke-linecap="round" />
<path d="M1900.4 1021.1L1911.4 1016.2" fill="none" stroke="#231f20" stroke-width="2.4" stroke-linejoin="round" stroke-linecap="round" />
<path d="M1887 996.7L1918.7 1045.5" fill="none" stroke="#231f20" stroke-width="2.6" stroke-linejoin="round" stroke-linecap="round" />
<path d="M1869.9 1016.2L1869.9 1045.5L1877.2 1052.8" fill="none" stroke="#231f20" stroke-width="3.3" stroke-linejoin="round" stroke-linecap="round" />
<path d="M1873.6 1018.6L1873.6 1045.5" fill="none" stroke="#231f20" stroke-width="2" stroke-linejoin="round" stroke-linecap="round" />
<path d="M1810.1 947.8L1846.7 950.3L1856.5 953.9L1887 972.2L1879.7 975.9L1869.9 982L1843.1 967.4L1804 962.5Z" fill="#fff" stroke="#231f20" stroke-width="3.3" stroke-linejoin="round" stroke-linecap="round" />
<path d="M1843.1 967.4L1856.5 953.9" fill="none" stroke="#231f20" stroke-width="2.2" stroke-linejoin="round" stroke-linecap="round" />
<path d="M1879.7 975.9L1888.2 983.2L1894.3 979.6" fill="none" stroke="#231f20" stroke-width="2.9" stroke-linejoin="round" stroke-linecap="round" />
<path d="M1847.9 956.4L1877.2 973.5" fill="none" stroke="#231f20" stroke-width="1.8" stroke-linejoin="round" stroke-linecap="round" />
<path d="M1826 986.9L1835.7 979.6L1843.1 967.4L1869.9 982L1869.9 1004L1852.8 1016.2L1838.2 1021.1L1827.2 1016.2L1824.8 1006.4Z" fill="#fff" stroke="#231f20" stroke-width="3.1" stroke-linejoin="round" stroke-linecap="round" />
<ellipse cx="1846.7" cy="988.1" rx="4.4" ry="6.8" transform="rotate(25 1846.7 988.1)" fill="#fff" stroke="#231f20" stroke-width="2.6"/>
<path d="M1835.7 982L1834.5 1012.5" fill="none" stroke="#231f20" stroke-width="2.6" stroke-linejoin="round" stroke-linecap="round" />
<path d="M1829.6 985.7L1828.4 1013.7" fill="none" stroke="#231f20" stroke-width="2" stroke-linejoin="round" stroke-linecap="round" />
<path d="M1788.2 955.2L1800.4 946.6L1810.1 947.8L1804 962.5L1843.1 967.4L1835.7 979.6L1797.9 986.9L1788.2 982Z" fill="#fff" stroke="#231f20" stroke-width="3.1" stroke-linejoin="round" stroke-linecap="round" />
<ellipse cx="1808.9" cy="966.1" rx="3.9" ry="5.9" transform="rotate(25 1808.9 966.1)" fill="#fff" stroke="#231f20" stroke-width="2.6"/>
<path d="M1797.9 958.8L1796.2 982" fill="none" stroke="#231f20" stroke-width="2.6" stroke-linejoin="round" stroke-linecap="round" />
<path d="M1791.8 957.6L1790.6 980.8" fill="none" stroke="#231f20" stroke-width="2" stroke-linejoin="round" stroke-linecap="round" />
<path d="M1797.9 986.9L1826 977.1" fill="none" stroke="#231f20" stroke-width="2.9" stroke-linejoin="round" stroke-linecap="round" />
<path d="M1747.9 933.2L1752.8 927.1L1761.3 923.9L1772.3 925.9L1801.6 938.1L1804 944.2L1800.4 946.6L1788.2 955.2L1762.5 964.9L1752.8 963.7L1746.7 956.4Z" fill="#fff" stroke="#231f20" stroke-width="3.3" stroke-linejoin="round" stroke-linecap="round" />
<ellipse cx="1767.4" cy="944.2" rx="3.4" ry="5.4" transform="rotate(25 1767.4 944.2)" fill="#fff" stroke="#231f20" stroke-width="2.6"/>
<path d="M1761.3 933.2L1758.9 964.9" fill="none" stroke="#231f20" stroke-width="2.9" stroke-linejoin="round" stroke-linecap="round" />
<path d="M1755.2 935.6L1752.8 962.5" fill="none" stroke="#231f20" stroke-width="2.2" stroke-linejoin="round" stroke-linecap="round" />
<path d="M1761.3 933.2L1766.2 927.1" fill="none" stroke="#231f20" stroke-width="2.2" stroke-linejoin="round" stroke-linecap="round" />
<path d="M1739.4 960L1745.5 967.4L1755.2 968.6" fill="none" stroke="#231f20" stroke-width="3.1" stroke-linejoin="round" stroke-linecap="round" />
<path d="M1762.5 964.9L1788.2 956.4" fill="none" stroke="#231f20" stroke-width="2.9" stroke-linejoin="round" stroke-linecap="round" />
<path d="M1755.2 972.2L1788.2 962.5" fill="none" stroke="#231f20" stroke-width="2.9" stroke-linejoin="round" stroke-linecap="round" />
<path d="M1752.8 982L1788.2 971" fill="none" stroke="#231f20" stroke-width="2.4" stroke-linejoin="round" stroke-linecap="round" />
<path d="M1735.7 996.7L1755.2 968.6" fill="none" stroke="#231f20" stroke-width="3.3" stroke-linejoin="round" stroke-linecap="round" />
<path d="M1728.4 1008.9L1752.8 982" fill="none" stroke="#231f20" stroke-width="2.9" stroke-linejoin="round" stroke-linecap="round" />
<path d="M1740.6 1004L1779.6 986.9" fill="none" stroke="#231f20" stroke-width="2.6" stroke-linejoin="round" stroke-linecap="round" />
<path d="M1745.5 1011.3L1780.8 995.4" fill="none" stroke="#231f20" stroke-width="2.6" stroke-linejoin="round" stroke-linecap="round" />
<path d="M1755.2 1006.4Q1770.3 1018.6 1772.3 1038.1" fill="none" stroke="#231f20" stroke-width="3.1" stroke-linejoin="round" stroke-linecap="round" />
<path d="M1766.2 1002.8Q1783.3 1015 1785.7 1034.5" fill="none" stroke="#231f20" stroke-width="3.1" stroke-linejoin="round" stroke-linecap="round" />
<path d="M1778.4 997.9Q1795.5 1011.3 1797.9 1030.8" fill="none" stroke="#231f20" stroke-width="3.1" stroke-linejoin="round" stroke-linecap="round" />
<path d="M1790.6 993Q1807.7 1006.4 1810.1 1025.9" fill="none" stroke="#231f20" stroke-width="3.1" stroke-linejoin="round" stroke-linecap="round" />
<path d="M1801.6 988.1Q1818.2 1001.5 1819.9 1019.8" fill="none" stroke="#231f20" stroke-width="3.1" stroke-linejoin="round" stroke-linecap="round" />
<path d="M1766.2 1034.5L1822.3 1017.4L1825.3 1023L1769.1 1042.5Z" fill="#fff" stroke="#231f20" stroke-width="3.1" stroke-linejoin="round" stroke-linecap="round" />
<path d="M1772.3 1036.2L1821.1 1021.1" fill="none" stroke="#231f20" stroke-width="1.5" stroke-linejoin="round" stroke-linecap="round" />
<path d="M1780.8 1040.6Q1786.9 1057.7 1782.5 1074.7" fill="none" stroke="#231f20" stroke-width="2.9" stroke-linejoin="round" stroke-linecap="round" />
<path d="M1789.4 1038.1Q1796.2 1055.2 1791.8 1073.5" fill="none" stroke="#231f20" stroke-width="2.9" stroke-linejoin="round" stroke-linecap="round" />
<path d="M1800.4 1034.5Q1806.9 1052.8 1802.8 1069.9" fill="none" stroke="#231f20" stroke-width="2.9" stroke-linejoin="round" stroke-linecap="round" />
<path d="M1767.4 1074.7L1804 1072.8L1805.2 1080.8L1779.6 1078.4Z" fill="#231f20" stroke="#231f20" stroke-width="2.4" stroke-linejoin="round" stroke-linecap="round" />
<path d="M1804 1072.8L1816.2 1052.8L1822.3 1047.9" fill="none" stroke="#231f20" stroke-width="2.9" stroke-linejoin="round" stroke-linecap="round" />
<path d="M1745.5 1084.5L1779.6 1094.3" fill="none" stroke="#231f20" stroke-width="2.6" stroke-linejoin="round" stroke-linecap="round" />
<ellipse cx="1832.1" cy="1033.3" rx="7.3" ry="11" transform="rotate(-15 1832.1 1033.3)" fill="#fff" stroke="#231f20" stroke-width="3.1"/>
<ellipse cx="1832.6" cy="1033.7" rx="4.1" ry="6.8" transform="rotate(-15 1832.6 1033.7)" fill="#fff" stroke="#231f20" stroke-width="2.6"/>
<path d="M1806.5 1040.6C1808.1 1041.4 1812 1044.4 1816.2 1045.5C1820.5 1046.5 1827.2 1047.5 1832.1 1046.7C1837 1045.9 1840.4 1044.4 1845.5 1040.6C1850.6 1036.7 1859.7 1026.3 1862.6 1023.5" fill="none" stroke="#231f20" stroke-width="2.9" stroke-linejoin="round" stroke-linecap="round" />
<path d="M1840.6 1028.4C1842.7 1027.2 1848.8 1023.9 1852.8 1021.1C1856.9 1018.2 1863 1012.9 1865 1011.3" fill="none" stroke="#231f20" stroke-width="2.6" stroke-linejoin="round" stroke-linecap="round" />
<ellipse cx="1739.4" cy="1047.4" rx="34.7" ry="20" transform="rotate(120 1739.4 1047.4)" fill="#fff" stroke="#231f20" stroke-width="5.1" />
<ellipse cx="1742.5" cy="1048.4" rx="27.5" ry="15.9" transform="rotate(120 1742.5 1048.4)" fill="none" stroke="#231f20" stroke-width="2.2" />
<ellipse cx="1745.5" cy="1049.4" rx="22.5" ry="13" transform="rotate(120 1745.5 1049.4)" fill="none" stroke="#231f20" stroke-width="2.4" />
<path d="M1759.2 1053.2A19 11 120 0 0 1740.5 1042.3" fill="none" stroke="#231f20" stroke-width="1.8"/>
<path d="M1755.2 1016.2C1756.8 1019.4 1762.7 1029.2 1764.5 1035.7C1766.3 1042.2 1766.7 1049.1 1766.2 1055.2C1765.7 1061.3 1763.6 1067.6 1761.3 1072.3C1759.1 1077 1754.2 1081.4 1752.8 1083.3" fill="none" stroke="#231f20" stroke-width="3.3" stroke-linejoin="round" stroke-linecap="round" />
<path d="M1763.8 1013.7C1765.2 1017.2 1770.5 1027.6 1772.3 1034.5C1774 1041.4 1774.7 1048.9 1774.3 1055.2C1773.8 1061.5 1770.2 1069.5 1769.4 1072.3" fill="none" stroke="#231f20" stroke-width="2.2" stroke-linejoin="round" stroke-linecap="round" />
<path d="M1718.6 1016.2L1735.7 1006.4L1755.2 1016.2" fill="none" stroke="#231f20" stroke-width="2.9" stroke-linejoin="round" stroke-linecap="round" />
<path d="M1598.8 916.7L1604.4 905.4L1613.5 894L1623.7 887.8L1633.9 885.5L1640.1 885.5L1642.4 879.8L1646.4 877L1657.1 875.3L1667.9 877L1672.7 881.5L1682.7 908.8L1691.7 914.4L1699.7 921.8L1703.6 931.4L1703.1 942.8L1698.5 958.6L1689.5 973.4L1678.1 983.6L1620.3 1004L1612.9 1002.3L1603.3 994.9L1599.9 985.9L1602.2 977.9L1606.7 973.4L1580.6 979.6L1572.7 979L1561.3 972.2L1558.5 965.4L1559.1 956.4L1563.6 948.4Z" fill="#fff" stroke="#231f20" stroke-width="2.9" stroke-linejoin="round" stroke-linecap="round" />
<ellipse cx="1657.1" cy="883.2" rx="15.3" ry="7.8" fill="#fff" stroke="#231f20" stroke-width="2.6"/>
<ellipse cx="1657.1" cy="883.5" rx="6.8" ry="3.4" fill="#fff" stroke="#231f20" stroke-width="2.1"/>
<ellipse cx="1657.7" cy="883.8" rx="3.8" ry="1.8" fill="#fff" stroke="#231f20" stroke-width="1.5"/>
<path d="M1641.8 884.4C1641 886.5 1638 893.7 1636.7 897.4C1635.4 901.1 1633.9 903.7 1634.1 906.5C1634.3 909.2 1635.8 912.1 1637.9 913.9C1639.9 915.7 1643.1 917 1646.4 917.3C1649.7 917.5 1653.9 916.5 1657.7 915.6C1661.5 914.6 1665.8 912.8 1669 911.6C1672.3 910.4 1675.7 908.8 1677 908.2" fill="none" stroke="#231f20" stroke-width="2.6" stroke-linejoin="round" stroke-linecap="round" />
<path d="M1677 908.2L1673 904.8" stroke="#231f20" stroke-width="2.4" fill="none"/>
<path d="M1598.8 916.7L1615.2 922.9L1615.5 926.9L1578.3 954.1L1569.8 947.9" fill="none" stroke="#231f20" stroke-width="2.9" stroke-linejoin="round" stroke-linecap="round" />
<path d="M1578.3 954.1C1577.5 955 1574.5 957.5 1573.2 959.8C1572 962 1571 965.1 1571 967.7C1571 970.4 1571.6 973.7 1573.2 975.6C1574.8 977.6 1579.4 979 1580.6 979.6" fill="none" stroke="#231f20" stroke-width="2.9" stroke-linejoin="round" stroke-linecap="round" />
<path d="M1615.2 926.9L1616.9 967.7" fill="none" stroke="#231f20" stroke-width="0.1" stroke-linejoin="round" stroke-linecap="round" />
<path d="M1579.5 962L1587.4 959.8L1589.1 964.3L1586.8 971.7L1580 974.5L1577.8 968.8Z" fill="#fff" stroke="#231f20" stroke-width="2.4" stroke-linejoin="round" stroke-linecap="round" />
<path d="M1615.5 926.9C1614.9 928.8 1612.9 934.3 1611.8 938.2C1610.7 942.2 1608.8 947.4 1609 950.7C1609.1 954 1611.3 956.3 1612.9 958.1C1614.5 959.9 1617.6 960.9 1618.6 961.5" fill="none" stroke="#231f20" stroke-width="3.1" stroke-linejoin="round" stroke-linecap="round" />
<path d="M1606.7 973.4L1618.6 961.5L1639.6 939.4L1640.7 938.2L1652.6 946.2L1656 947.3" fill="none" stroke="#231f20" stroke-width="3.1" stroke-linejoin="round" stroke-linecap="round" />
<path d="M1655.4 947.9L1620.3 977.9L1611.2 973" fill="none" stroke="#231f20" stroke-width="2.9" stroke-linejoin="round" stroke-linecap="round" />
<path d="M1620.3 977.9C1619.4 979 1616.2 982.3 1614.9 984.7C1613.5 987.2 1612.4 990 1612.4 992.7C1612.3 995.3 1613.3 998.7 1614.6 1000.6C1615.9 1002.5 1619.3 1003.4 1620.3 1004" fill="none" stroke="#231f20" stroke-width="2.9" stroke-linejoin="round" stroke-linecap="round" />
<path d="M1620.9 986.4L1628.2 984.1L1629.9 988.1L1627.7 994.4L1621.4 996.6L1619.4 991.5Z" fill="#fff" stroke="#231f20" stroke-width="2.4" stroke-linejoin="round" stroke-linecap="round" />
<path d="M1655.4 947.3C1656.8 944.8 1660.2 936.8 1663.4 932.6C1666.6 928.3 1670.9 924.3 1674.7 921.8C1678.5 919.2 1682.5 917.5 1686.1 917.3C1689.6 917 1693.6 918 1696.3 920.1C1698.9 922.2 1701 928.1 1701.9 929.7" fill="none" stroke="#231f20" stroke-width="2.9" stroke-linejoin="round" stroke-linecap="round" />
<ellipse cx="1677.6" cy="952.4" rx="30.7" ry="17.7" transform="rotate(120 1677.6 952.4)" fill="#fff" stroke="#231f20" stroke-width="2.6" />
<path d="M1684.6 973.4A32.3 18.6 120 0 0 1687.9 922.9" fill="none" stroke="#231f20" stroke-width="1.4"/>
<path d="M1664.1 938.8A32.3 18.6 120 0 0 1659.1 978.6" fill="none" stroke="#231f20" stroke-width="1.4"/>
<path d="M1671.9 933.7C1672.4 933.2 1674.3 931.1 1675.3 930.9C1676.2 930.7 1677.3 931.8 1677.6 932.6C1677.8 933.3 1677.1 934.9 1677 935.4" fill="none" stroke="#231f20" stroke-width="2" stroke-linejoin="round" stroke-linecap="round" />
<text transform="translate(1646.4 977.3) rotate(6) skewX(-10)" x="0" y="7" font-family="Liberation Sans, sans-serif" font-weight="bold" font-size="21" fill="#231f20" stroke="#231f20" stroke-width="1.2" text-anchor="middle">2</text>
<path d="M2022.8 1157.7L2028.4 1146.4L2037.5 1135L2047.7 1128.8L2057.9 1126.5L2064.1 1126.5L2066.4 1120.8L2070.4 1118L2081.1 1116.3L2091.9 1118L2096.7 1122.5L2106.7 1149.8L2115.7 1155.4L2123.7 1162.8L2127.6 1172.4L2127.1 1183.8L2122.5 1199.6L2113.5 1214.4L2102.1 1224.6L2044.3 1245L2036.9 1243.3L2027.3 1235.9L2023.9 1226.9L2026.2 1218.9L2030.7 1214.4L2004.6 1220.6L1996.7 1220L1985.3 1213.2L1982.5 1206.4L1983.1 1197.4L1987.6 1189.4Z" fill="#fff" stroke="#231f20" stroke-width="2.9" stroke-linejoin="round" stroke-linecap="round" />
<ellipse cx="2081.1" cy="1124.2" rx="15.3" ry="7.8" fill="#fff" stroke="#231f20" stroke-width="2.6"/>
<ellipse cx="2081.1" cy="1124.5" rx="6.8" ry="3.4" fill="#fff" stroke="#231f20" stroke-width="2.1"/>
<ellipse cx="2081.7" cy="1124.8" rx="3.8" ry="1.8" fill="#fff" stroke="#231f20" stroke-width="1.5"/>
<path d="M2065.8 1125.4C2065 1127.5 2062 1134.7 2060.7 1138.4C2059.4 1142.1 2057.9 1144.7 2058.1 1147.5C2058.3 1150.2 2059.8 1153.1 2061.9 1154.9C2063.9 1156.7 2067.1 1158 2070.4 1158.3C2073.7 1158.5 2077.9 1157.5 2081.7 1156.6C2085.5 1155.6 2089.8 1153.8 2093 1152.6C2096.3 1151.4 2099.7 1149.8 2101 1149.2" fill="none" stroke="#231f20" stroke-width="2.6" stroke-linejoin="round" stroke-linecap="round" />
<path d="M2101 1149.2L2097 1145.8" stroke="#231f20" stroke-width="2.4" fill="none"/>
<path d="M2022.8 1157.7L2039.2 1163.9L2039.5 1167.9L2002.3 1195.1L1993.8 1188.9" fill="none" stroke="#231f20" stroke-width="2.9" stroke-linejoin="round" stroke-linecap="round" />
<path d="M2002.3 1195.1C2001.5 1196 1998.5 1198.5 1997.2 1200.8C1996 1203 1995 1206.1 1995 1208.7C1995 1211.4 1995.6 1214.7 1997.2 1216.6C1998.8 1218.6 2003.4 1220 2004.6 1220.6" fill="none" stroke="#231f20" stroke-width="2.9" stroke-linejoin="round" stroke-linecap="round" />
<path d="M2039.2 1167.9L2040.9 1208.7" fill="none" stroke="#231f20" stroke-width="0.1" stroke-linejoin="round" stroke-linecap="round" />
<path d="M2003.5 1203L2011.4 1200.8L2013.1 1205.3L2010.8 1212.7L2004 1215.5L2001.8 1209.8Z" fill="#fff" stroke="#231f20" stroke-width="2.4" stroke-linejoin="round" stroke-linecap="round" />
<path d="M2039.5 1167.9C2038.9 1169.8 2036.9 1175.3 2035.8 1179.2C2034.7 1183.2 2032.8 1188.4 2033 1191.7C2033.1 1195 2035.3 1197.3 2036.9 1199.1C2038.5 1200.9 2041.6 1201.9 2042.6 1202.5" fill="none" stroke="#231f20" stroke-width="3.1" stroke-linejoin="round" stroke-linecap="round" />
<path d="M2030.7 1214.4L2042.6 1202.5L2063.6 1180.4L2064.7 1179.2L2076.6 1187.2L2080 1188.3" fill="none" stroke="#231f20" stroke-width="3.1" stroke-linejoin="round" stroke-linecap="round" />
<path d="M2079.4 1188.9L2044.3 1218.9L2035.2 1214" fill="none" stroke="#231f20" stroke-width="2.9" stroke-linejoin="round" stroke-linecap="round" />
<path d="M2044.3 1218.9C2043.4 1220 2040.2 1223.3 2038.9 1225.7C2037.5 1228.2 2036.4 1231 2036.4 1233.7C2036.3 1236.3 2037.3 1239.7 2038.6 1241.6C2039.9 1243.5 2043.3 1244.4 2044.3 1245" fill="none" stroke="#231f20" stroke-width="2.9" stroke-linejoin="round" stroke-linecap="round" />
<path d="M2044.9 1227.4L2052.2 1225.1L2053.9 1229.1L2051.7 1235.4L2045.4 1237.6L2043.4 1232.5Z" fill="#fff" stroke="#231f20" stroke-width="2.4" stroke-linejoin="round" stroke-linecap="round" />
<path d="M2079.4 1188.3C2080.8 1185.8 2084.2 1177.8 2087.4 1173.6C2090.6 1169.3 2094.9 1165.3 2098.7 1162.8C2102.5 1160.2 2106.5 1158.5 2110.1 1158.3C2113.6 1158 2117.6 1159 2120.3 1161.1C2122.9 1163.2 2125 1169.1 2125.9 1170.7" fill="none" stroke="#231f20" stroke-width="2.9" stroke-linejoin="round" stroke-linecap="round" />
<ellipse cx="2101.6" cy="1193.4" rx="30.7" ry="17.7" transform="rotate(120 2101.6 1193.4)" fill="#fff" stroke="#231f20" stroke-width="2.6" />
<path d="M2108.6 1214.4A32.3 18.6 120 0 0 2111.9 1163.9" fill="none" stroke="#231f20" stroke-width="1.4"/>
<path d="M2088.1 1179.8A32.3 18.6 120 0 0 2083.1 1219.6" fill="none" stroke="#231f20" stroke-width="1.4"/>
<path d="M2095.9 1174.7C2096.4 1174.2 2098.3 1172.1 2099.3 1171.9C2100.2 1171.7 2101.3 1172.8 2101.6 1173.6C2101.8 1174.3 2101.1 1175.9 2101 1176.4" fill="none" stroke="#231f20" stroke-width="2" stroke-linejoin="round" stroke-linecap="round" />
<path d="M1649.7 824.5L1649.7 856.5Q1657.9 862.5 1666.1 856.5L1666.1 824.5Z" fill="#231f20" stroke="#231f20" stroke-width="1" stroke-linejoin="round" stroke-linecap="round" />
<path d="M1643.4 822.5C1643.4 815.5 1649.9 810 1657.9 810C1665.9 810 1672.4 815.5 1672.4 822.5C1672.4 830.5 1643.4 830.5 1643.4 822.5Z" fill="#fff" stroke="#231f20" stroke-width="2.4" stroke-linejoin="round" stroke-linecap="round" />
<ellipse cx="1657.9" cy="815" rx="2.6" ry="1.5" fill="none" stroke="#231f20" stroke-width="1.4"/>
<path d="M2071.3 1066L2071.3 1098Q2079.5 1104 2087.7 1098L2087.7 1066Z" fill="#231f20" stroke="#231f20" stroke-width="1" stroke-linejoin="round" stroke-linecap="round" />
<path d="M2065 1064C2065 1057 2071.5 1051.5 2079.5 1051.5C2087.5 1051.5 2094 1057 2094 1064C2094 1072 2065 1072 2065 1064Z" fill="#fff" stroke="#231f20" stroke-width="2.4" stroke-linejoin="round" stroke-linecap="round" />
<ellipse cx="2079.5" cy="1056.5" rx="2.6" ry="1.5" fill="none" stroke="#231f20" stroke-width="1.4"/>
<ellipse cx="1734.5" cy="894.5" rx="15.5" ry="10.8" transform="rotate(-111 1734.5 894.5)" fill="#fff" stroke="#231f20" stroke-width="2.4" />
<ellipse cx="1732.2" cy="895.4" rx="12.5" ry="8.8" transform="rotate(-111 1732.2 895.4)" fill="#fff" stroke="#231f20" stroke-width="1.8" />
<path d="M1729.9 888.1L1709.4 896A7.6 4.7 -111 0 0 1714.8 910.2L1735.4 902.3A7.6 4.7 -111 0 0 1729.9 888.1Z" fill="#231f20" stroke="#231f20" stroke-width="2.2" stroke-linejoin="round"/>
<ellipse cx="1712.1" cy="903.1" rx="7.6" ry="4.7" transform="rotate(-111 1712.1 903.1)" fill="#fff" stroke="#231f20" stroke-width="2.2" />
<ellipse cx="2153.5" cy="1134" rx="15.5" ry="10.8" transform="rotate(-111 2153.5 1134)" fill="#fff" stroke="#231f20" stroke-width="2.4" />
<ellipse cx="2151.2" cy="1134.9" rx="12.5" ry="8.8" transform="rotate(-111 2151.2 1134.9)" fill="#fff" stroke="#231f20" stroke-width="1.8" />
<path d="M2148.9 1127.6L2128.4 1135.5A7.6 4.7 -111 0 0 2133.8 1149.7L2154.4 1141.8A7.6 4.7 -111 0 0 2148.9 1127.6Z" fill="#231f20" stroke="#231f20" stroke-width="2.2" stroke-linejoin="round"/>
<ellipse cx="2131.1" cy="1142.6" rx="7.6" ry="4.7" transform="rotate(-111 2131.1 1142.6)" fill="#fff" stroke="#231f20" stroke-width="2.2" />
<path d="M1935.8 904.1L1911.5 910.1A7.6 4.2 -104 0 0 1915.2 924.9L1939.5 918.9A7.6 4.2 -104 0 0 1935.8 904.1Z" fill="#231f20" stroke="#231f20" stroke-width="1.7" stroke-linejoin="round"/>
<ellipse cx="1913.4" cy="917.5" rx="7.6" ry="4.2" transform="rotate(-104 1913.4 917.5)" fill="#231f20" stroke="#231f20" stroke-width="1.7" />
<ellipse cx="1913.9" cy="917.4" rx="3.6" ry="2" transform="rotate(76 1913.9 917.4)" fill="#fff" stroke="none" stroke-width="1" />
<path d="M2056 971.8L2031.3 979.8A7.6 4.2 -108 0 0 2036 994.2L2060.7 986.2A7.6 4.2 -108 0 0 2056 971.8Z" fill="#231f20" stroke="#231f20" stroke-width="1.7" stroke-linejoin="round"/>
<ellipse cx="2033.6" cy="987" rx="7.6" ry="4.2" transform="rotate(-108 2033.6 987)" fill="#231f20" stroke="#231f20" stroke-width="1.7" />
<ellipse cx="2034.1" cy="986.9" rx="3.6" ry="2" transform="rotate(72 2034.1 986.9)" fill="#fff" stroke="none" stroke-width="1" />
<path d="M1743.4 1113.5L1743.4 1138.5A8.6 3.9 0 0 0 1760.6 1138.5L1760.6 1113.5A8.6 4.3 0 0 0 1743.4 1113.5Z" fill="#231f20" stroke="#231f20" stroke-width="1.3" stroke-linejoin="round" stroke-linecap="round" />
<path d="M1885.9 1193.5L1885.9 1218.5A7.6 3.4 0 0 0 1901.1 1218.5L1901.1 1193.5A7.6 3.8 0 0 0 1885.9 1193.5Z" fill="#231f20" stroke="#231f20" stroke-width="1.3" stroke-linejoin="round" stroke-linecap="round" />
<path d="M2408.4 901.4L2438.6 916.6A5.6 3.2 116.6 0 0 2443.6 906.5L2413.4 891.4A5.6 3.2 116.6 0 0 2408.4 901.4Z" fill="#231f20" stroke="#231f20" stroke-width="1.3" stroke-linejoin="round"/>
<ellipse cx="2441.1" cy="911.5" rx="5.6" ry="3.2" transform="rotate(116.6 2441.1 911.5)" fill="#231f20" stroke="#231f20" stroke-width="1.3" />
<path d="M2437.2 919.4L2450.2 925.9A8.8 5.1 116.6 0 0 2458 910.2L2445.1 903.7A8.8 5.1 116.6 0 0 2437.2 919.4Z" fill="#fff" stroke="#231f20" stroke-width="2.4" stroke-linejoin="round"/>
<ellipse cx="2454.1" cy="918" rx="8.8" ry="5.1" transform="rotate(116.6 2454.1 918)" fill="#fff" stroke="#231f20" stroke-width="2.4" />
<ellipse cx="2454.1" cy="918" rx="5.2" ry="3" transform="rotate(116.6 2454.1 918)" fill="none" stroke="#231f20" stroke-width="1.8" />
<ellipse cx="2454.1" cy="918" rx="2.6" ry="1.5" transform="rotate(116.6 2454.1 918)" fill="#231f20" stroke="#231f20" stroke-width="1.5" />
<path d="M2440.8 921.2A8.8 5.1 116.6 0 0 2448.7 905.5" fill="none" stroke="#231f20" stroke-width="1.5"/>
<path d="M2453.3 927.5L2466.3 934A8.8 5.1 116.6 0 0 2474.1 918.2L2461.2 911.7A8.8 5.1 116.6 0 0 2453.3 927.5Z" fill="#fff" stroke="#231f20" stroke-width="2.4" stroke-linejoin="round"/>
<ellipse cx="2470.2" cy="926.1" rx="8.8" ry="5.1" transform="rotate(116.6 2470.2 926.1)" fill="#fff" stroke="#231f20" stroke-width="2.4" />
<ellipse cx="2470.2" cy="926.1" rx="5.2" ry="3" transform="rotate(116.6 2470.2 926.1)" fill="none" stroke="#231f20" stroke-width="1.8" />
<ellipse cx="2470.2" cy="926.1" rx="2.6" ry="1.5" transform="rotate(116.6 2470.2 926.1)" fill="#231f20" stroke="#231f20" stroke-width="1.5" />
<path d="M2456.9 929.3A8.8 5.1 116.6 0 0 2464.8 913.5" fill="none" stroke="#231f20" stroke-width="1.5"/>
<path d="M2389.3 918.9L2418 932.9A5.6 3.2 115.9 0 0 2422.9 922.8L2394.1 908.9A5.6 3.2 115.9 0 0 2389.3 918.9Z" fill="#231f20" stroke="#231f20" stroke-width="1.3" stroke-linejoin="round"/>
<ellipse cx="2420.5" cy="927.9" rx="5.6" ry="3.2" transform="rotate(115.9 2420.5 927.9)" fill="#231f20" stroke="#231f20" stroke-width="1.3" />
<path d="M2416.6 935.8L2429.7 942.1A8.8 5.1 115.9 0 0 2437.3 926.3L2424.3 919.9A8.8 5.1 115.9 0 0 2416.6 935.8Z" fill="#fff" stroke="#231f20" stroke-width="2.4" stroke-linejoin="round"/>
<ellipse cx="2433.5" cy="934.2" rx="8.8" ry="5.1" transform="rotate(115.9 2433.5 934.2)" fill="#fff" stroke="#231f20" stroke-width="2.4" />
<ellipse cx="2433.5" cy="934.2" rx="5.2" ry="3" transform="rotate(115.9 2433.5 934.2)" fill="none" stroke="#231f20" stroke-width="1.8" />
<ellipse cx="2433.5" cy="934.2" rx="2.6" ry="1.5" transform="rotate(115.9 2433.5 934.2)" fill="#231f20" stroke="#231f20" stroke-width="1.5" />
<path d="M2430.9 939.2L2451.2 949.6A5.6 3.2 117.1 0 0 2456.3 939.6L2436.1 929.2A5.6 3.2 117.1 0 0 2430.9 939.2Z" fill="#231f20" stroke="#231f20" stroke-width="1.3" stroke-linejoin="round"/>
<ellipse cx="2453.8" cy="944.6" rx="5.6" ry="3.2" transform="rotate(117.1 2453.8 944.6)" fill="#231f20" stroke="#231f20" stroke-width="1.3" />
<path d="M2449.8 952.4L2462.7 959A8.8 5.1 117.1 0 0 2470.7 943.4L2457.8 936.8A8.8 5.1 117.1 0 0 2449.8 952.4Z" fill="#fff" stroke="#231f20" stroke-width="2.4" stroke-linejoin="round"/>
<ellipse cx="2466.7" cy="951.2" rx="8.8" ry="5.1" transform="rotate(117.1 2466.7 951.2)" fill="#fff" stroke="#231f20" stroke-width="2.4" />
<ellipse cx="2466.7" cy="951.2" rx="5.2" ry="3" transform="rotate(117.1 2466.7 951.2)" fill="none" stroke="#231f20" stroke-width="1.8" />
<ellipse cx="2466.7" cy="951.2" rx="2.6" ry="1.5" transform="rotate(117.1 2466.7 951.2)" fill="#231f20" stroke="#231f20" stroke-width="1.5" />
<path d="M2387.4 941.5L2417.9 957.2A5.6 3.2 117.4 0 0 2423 947.3L2392.6 931.5A5.6 3.2 117.4 0 0 2387.4 941.5Z" fill="#231f20" stroke="#231f20" stroke-width="1.3" stroke-linejoin="round"/>
<ellipse cx="2420.4" cy="952.3" rx="5.6" ry="3.2" transform="rotate(117.4 2420.4 952.3)" fill="#231f20" stroke="#231f20" stroke-width="1.3" />
<path d="M2416.4 960.1L2429.3 966.7A8.8 5.1 117.4 0 0 2437.4 951.1L2424.5 944.4A8.8 5.1 117.4 0 0 2416.4 960.1Z" fill="#fff" stroke="#231f20" stroke-width="2.4" stroke-linejoin="round"/>
<ellipse cx="2433.3" cy="958.9" rx="8.8" ry="5.1" transform="rotate(117.4 2433.3 958.9)" fill="#fff" stroke="#231f20" stroke-width="2.4" />
<ellipse cx="2433.3" cy="958.9" rx="5.2" ry="3" transform="rotate(117.4 2433.3 958.9)" fill="none" stroke="#231f20" stroke-width="1.8" />
<ellipse cx="2433.3" cy="958.9" rx="2.6" ry="1.5" transform="rotate(117.4 2433.3 958.9)" fill="#231f20" stroke="#231f20" stroke-width="1.5" />
<path d="M2419.9 961.9A8.8 5.1 117.4 0 0 2428 946.3" fill="none" stroke="#231f20" stroke-width="1.5"/>
<path d="M2432.4 968.3L2445.3 975A8.8 5.1 117.4 0 0 2453.3 959.4L2440.5 952.7A8.8 5.1 117.4 0 0 2432.4 968.3Z" fill="#fff" stroke="#231f20" stroke-width="2.4" stroke-linejoin="round"/>
<ellipse cx="2449.3" cy="967.2" rx="8.8" ry="5.1" transform="rotate(117.4 2449.3 967.2)" fill="#fff" stroke="#231f20" stroke-width="2.4" />
<ellipse cx="2449.3" cy="967.2" rx="5.2" ry="3" transform="rotate(117.4 2449.3 967.2)" fill="none" stroke="#231f20" stroke-width="1.8" />
<ellipse cx="2449.3" cy="967.2" rx="2.6" ry="1.5" transform="rotate(117.4 2449.3 967.2)" fill="#231f20" stroke="#231f20" stroke-width="1.5" />
<path d="M2435.9 970.2A8.8 5.1 117.4 0 0 2444 954.6" fill="none" stroke="#231f20" stroke-width="1.5"/>
<path d="M1746 1164.6L1686.2 1186.7A5.8 3.6 -110.3 0 0 1690.2 1197.6L1750 1175.4A5.8 3.6 -110.3 0 0 1746 1164.6Z" fill="#231f20" stroke="#231f20" stroke-width="1.3" stroke-linejoin="round"/>
<ellipse cx="1688.2" cy="1192.2" rx="5.8" ry="3.6" transform="rotate(-110.3 1688.2 1192.2)" fill="#231f20" stroke="#231f20" stroke-width="1.3" />
<circle cx="1748" cy="1170" r="5.8" fill="#231f20"/>
<path d="M1684.6 1182.3L1672.9 1186.7A10.5 7.3 -110.3 0 0 1680.1 1206.3L1691.9 1202A10.5 7.3 -110.3 0 0 1684.6 1182.3Z" fill="#fff" stroke="#231f20" stroke-width="2.6" stroke-linejoin="round"/>
<ellipse cx="1676.5" cy="1196.5" rx="10.5" ry="7.3" transform="rotate(-110.3 1676.5 1196.5)" fill="#fff" stroke="#231f20" stroke-width="2.6" />
<ellipse cx="1676.5" cy="1196.5" rx="6.2" ry="4.3" transform="rotate(-110.3 1676.5 1196.5)" fill="none" stroke="#231f20" stroke-width="1.8" />
<ellipse cx="1676.5" cy="1196.5" rx="3" ry="2.1" transform="rotate(-110.3 1676.5 1196.5)" fill="none" stroke="#231f20" stroke-width="1.5" />
<path d="M1824.5 1209.1L1765.2 1230.8A5.8 3.6 -110.1 0 0 1769.2 1241.6L1828.5 1219.9A5.8 3.6 -110.1 0 0 1824.5 1209.1Z" fill="#231f20" stroke="#231f20" stroke-width="1.3" stroke-linejoin="round"/>
<ellipse cx="1767.2" cy="1236.2" rx="5.8" ry="3.6" transform="rotate(-110.1 1767.2 1236.2)" fill="#231f20" stroke="#231f20" stroke-width="1.3" />
<circle cx="1826.5" cy="1214.5" r="5.8" fill="#231f20"/>
<path d="M1763.6 1226.3L1751.9 1230.6A10.5 7.3 -110.1 0 0 1759.1 1250.4L1770.8 1246.1A10.5 7.3 -110.1 0 0 1763.6 1226.3Z" fill="#fff" stroke="#231f20" stroke-width="2.6" stroke-linejoin="round"/>
<ellipse cx="1755.5" cy="1240.5" rx="10.5" ry="7.3" transform="rotate(-110.1 1755.5 1240.5)" fill="#fff" stroke="#231f20" stroke-width="2.6" />
<ellipse cx="1755.5" cy="1240.5" rx="6.2" ry="4.3" transform="rotate(-110.1 1755.5 1240.5)" fill="none" stroke="#231f20" stroke-width="1.8" />
<ellipse cx="1755.5" cy="1240.5" rx="3" ry="2.1" transform="rotate(-110.1 1755.5 1240.5)" fill="none" stroke="#231f20" stroke-width="1.5" />
<path d="M1735 1247.6L1675.7 1269.7A5.8 3.6 -110.5 0 0 1679.7 1280.6L1739 1258.4A5.8 3.6 -110.5 0 0 1735 1247.6Z" fill="#231f20" stroke="#231f20" stroke-width="1.3" stroke-linejoin="round"/>
<ellipse cx="1677.7" cy="1275.1" rx="5.8" ry="3.6" transform="rotate(-110.5 1677.7 1275.1)" fill="#231f20" stroke="#231f20" stroke-width="1.3" />
<circle cx="1737" cy="1253" r="5.8" fill="#231f20"/>
<path d="M1674 1265.3L1662.3 1269.7A10.5 7.3 -110.5 0 0 1669.7 1289.3L1681.4 1285A10.5 7.3 -110.5 0 0 1674 1265.3Z" fill="#fff" stroke="#231f20" stroke-width="2.6" stroke-linejoin="round"/>
<ellipse cx="1666" cy="1279.5" rx="10.5" ry="7.3" transform="rotate(-110.5 1666 1279.5)" fill="#fff" stroke="#231f20" stroke-width="2.6" />
<ellipse cx="1666" cy="1279.5" rx="6.2" ry="4.3" transform="rotate(-110.5 1666 1279.5)" fill="none" stroke="#231f20" stroke-width="1.8" />
<ellipse cx="1666" cy="1279.5" rx="3" ry="2.1" transform="rotate(-110.5 1666 1279.5)" fill="none" stroke="#231f20" stroke-width="1.5" />
<path d="M1814 1291.6L1754.7 1313.3A5.8 3.6 -110.1 0 0 1758.7 1324.1L1818 1302.4A5.8 3.6 -110.1 0 0 1814 1291.6Z" fill="#231f20" stroke="#231f20" stroke-width="1.3" stroke-linejoin="round"/>
<ellipse cx="1756.7" cy="1318.7" rx="5.8" ry="3.6" transform="rotate(-110.1 1756.7 1318.7)" fill="#231f20" stroke="#231f20" stroke-width="1.3" />
<circle cx="1816" cy="1297" r="5.8" fill="#231f20"/>
<path d="M1753.1 1308.8L1741.4 1313.1A10.5 7.3 -110.1 0 0 1748.6 1332.9L1760.3 1328.6A10.5 7.3 -110.1 0 0 1753.1 1308.8Z" fill="#fff" stroke="#231f20" stroke-width="2.6" stroke-linejoin="round"/>
<ellipse cx="1745" cy="1323" rx="10.5" ry="7.3" transform="rotate(-110.1 1745 1323)" fill="#fff" stroke="#231f20" stroke-width="2.6" />
<ellipse cx="1745" cy="1323" rx="6.2" ry="4.3" transform="rotate(-110.1 1745 1323)" fill="none" stroke="#231f20" stroke-width="1.8" />
<ellipse cx="1745" cy="1323" rx="3" ry="2.1" transform="rotate(-110.1 1745 1323)" fill="none" stroke="#231f20" stroke-width="1.5" />
<path d="M2897.1 1684.9L2913.2 1694.2A28.7 16.6 120 0 0 2941.9 1644.5L2925.8 1635.2A28.7 16.6 120 0 0 2897.1 1684.9Z" fill="#fff" stroke="#231f20" stroke-width="2.6" stroke-linejoin="round"/>
<ellipse cx="2927.5" cy="1669.3" rx="28.7" ry="16.6" transform="rotate(120 2927.5 1669.3)" fill="#fff" stroke="#231f20" stroke-width="2.6" />
<ellipse cx="2927.5" cy="1669.3" rx="24.7" ry="14.2" transform="rotate(120 2927.5 1669.3)" fill="none" stroke="#231f20" stroke-width="1.7" />
<ellipse cx="2927.5" cy="1669.3" rx="15.5" ry="8.9" transform="rotate(120 2927.5 1669.3)" fill="#fff" stroke="#231f20" stroke-width="4.2" />
<path d="M2969.9 1746.4L3014.1 1771.9A43.8 25.3 120 0 0 3057.9 1696.1L3013.7 1670.6A43.8 25.3 120 0 0 2969.9 1746.4Z" fill="#fff" stroke="#231f20" stroke-width="2.4" stroke-linejoin="round"/>
<ellipse cx="3036" cy="1734" rx="43.8" ry="25.3" transform="rotate(120 3036 1734)" fill="#fff" stroke="#231f20" stroke-width="2.4" />
<ellipse cx="3036" cy="1734" rx="40.6" ry="23.4" transform="rotate(120 3036 1734)" fill="none" stroke="#231f20" stroke-width="1.4" />
<ellipse cx="3036" cy="1734" rx="38.8" ry="22.4" transform="rotate(120 3036 1734)" fill="none" stroke="#231f20" stroke-width="1.4" />
<ellipse cx="3036" cy="1734" rx="20.5" ry="11.8" transform="rotate(120 3036 1734)" fill="none" stroke="#231f20" stroke-width="2.9" />
<ellipse cx="3036.4" cy="1734.2" rx="14.5" ry="8.4" transform="rotate(120 3036.4 1734.2)" fill="none" stroke="#231f20" stroke-width="2.4" />
<ellipse cx="3008" cy="1679" rx="12" ry="6.5" transform="rotate(12 3008 1679)" fill="#fff" stroke="#231f20" stroke-width="2.2"/>
<ellipse cx="3009" cy="1679.5" rx="6" ry="3.2" transform="rotate(12 3009 1679.5)" fill="#fff" stroke="#231f20" stroke-width="1.8"/>
<path d="M3095.3 1790.2L3103.1 1794.7A21.6 12.5 120 0 0 3124.7 1757.2L3116.9 1752.7A21.6 12.5 120 0 0 3095.3 1790.2Z" fill="#fff" stroke="#231f20" stroke-width="2.4" stroke-linejoin="round"/>
<ellipse cx="3113.9" cy="1776" rx="21.6" ry="12.5" transform="rotate(120 3113.9 1776)" fill="#fff" stroke="#231f20" stroke-width="2.4" />
<ellipse cx="3113.9" cy="1776" rx="15.5" ry="8.9" transform="rotate(120 3113.9 1776)" fill="none" stroke="#231f20" stroke-width="2" />
<ellipse cx="3113.9" cy="1776" rx="11.5" ry="6.6" transform="rotate(120 3113.9 1776)" fill="none" stroke="#231f20" stroke-width="2.2" />
<path d="M3107.9 1784.3A11.5 6.6 120 0 0 3117 1764.6" fill="none" stroke="#231f20" stroke-width="1.7"/>
<path d="M3001.8 1621L3001.8 1643Q3010.5 1649 3019.2 1643L3019.2 1621Z" fill="#231f20" stroke="#231f20" stroke-width="1" stroke-linejoin="round" stroke-linecap="round" />
<path d="M2995.3 1619C2995.3 1612 3002.5 1606.5 3010.5 1606.5C3018.5 1606.5 3025.7 1612 3025.7 1619C3025.7 1627 2995.3 1627 2995.3 1619Z" fill="#fff" stroke="#231f20" stroke-width="2.4" stroke-linejoin="round" stroke-linecap="round" />
<ellipse cx="3010.5" cy="1611.5" rx="2.6" ry="1.5" fill="none" stroke="#231f20" stroke-width="1.4"/>
<ellipse cx="3002" cy="1815" rx="15" ry="8.7" fill="#fff" stroke="#231f20" stroke-width="2.4"/>
<ellipse cx="3002" cy="1816.5" rx="11" ry="6" fill="#231f20"/>
<path d="M2993.3 1817L2993.3 1791L3010.7 1791L3010.7 1817Z" fill="#231f20" stroke="#231f20" stroke-width="1" stroke-linejoin="round" stroke-linecap="round" />
<ellipse cx="3002" cy="1791" rx="7.4" ry="4.2" fill="#fff" stroke="#231f20" stroke-width="2.4"/>
<path d="M618.7 868.8L604 874Q552 892 511.7 929.4L336.7 1091.7" fill="none" stroke="#231f20" stroke-width="27.1" stroke-linecap="butt" stroke-linejoin="round"/>
<path d="M618.7 868.8L604 874Q552 892 511.7 929.4L336.7 1091.7" fill="none" stroke="#fff" stroke-width="22.2" stroke-linecap="butt" stroke-linejoin="round"/>
<path d="M643.8 849.9L615.5 859.8L608.4 860.6A11.2 4.7 -109.2 0 0 615.7 881.7L621.8 877.9L650.2 868.1A9.6 4 -109.2 0 0 643.8 849.9Z" fill="#231f20" stroke="#231f20" stroke-width="1" stroke-linejoin="round" stroke-linecap="round" />
<path d="M309.5 1130L343.3 1098.8L349.5 1095.2A11.2 4.7 47.1 0 1 334.2 1078.7L330.2 1084.7L296.5 1116Z" fill="#231f20" stroke="#231f20" stroke-width="1" stroke-linejoin="round" stroke-linecap="round" />
<ellipse cx="303" cy="1123" rx="9.4" ry="3.9" transform="rotate(47.1 303 1123)" fill="#fff" stroke="#231f20" stroke-width="2.2" />
<path d="M578.3 870.9A11.2 4.7 -109.2 0 1 585.7 892.1" fill="none" stroke="#231f20" stroke-width="2"/>
<path d="M516.4 909.8A11.2 4.7 -132.9 0 1 531.6 926.2" fill="none" stroke="#231f20" stroke-width="2"/>
<path d="M2172 1757.8L2102.7 1767.1Q2048.2 1774.4 1999 1799L1766.1 1915.5" fill="none" stroke="#231f20" stroke-width="27.1" stroke-linecap="butt" stroke-linejoin="round"/>
<path d="M2172 1757.8L2102.7 1767.1Q2048.2 1774.4 1999 1799L1766.1 1915.5" fill="none" stroke="#fff" stroke-width="22.2" stroke-linecap="butt" stroke-linejoin="round"/>
<path d="M2208.4 1743.3L2170.8 1748.3L2163.6 1747.7A11.2 4.7 -97.6 0 0 2166.6 1769.9L2173.3 1767.4L2211 1762.3A9.6 4 -97.6 0 0 2208.4 1743.3Z" fill="#231f20" stroke="#231f20" stroke-width="1" stroke-linejoin="round" stroke-linecap="round" />
<path d="M1727.5 1945.6L1770.4 1924.1L1777.4 1922.4A11.2 4.7 63.4 0 1 1767.4 1902.4L1761.8 1906.9L1718.9 1928.4Z" fill="#231f20" stroke="#231f20" stroke-width="1" stroke-linejoin="round" stroke-linecap="round" />
<ellipse cx="1723.2" cy="1937" rx="9.4" ry="3.9" transform="rotate(63.4 1723.2 1937)" fill="#fff" stroke="#231f20" stroke-width="2.2" />
<path d="M2105.5 1755.4A11.2 4.7 -97.6 0 1 2108.5 1777.6" fill="none" stroke="#231f20" stroke-width="2"/>
<path d="M2026 1773A11.2 4.7 -116.6 0 1 2036 1793" fill="none" stroke="#231f20" stroke-width="2"/>
<path d="M885.6 1252.1L496.3 1403.1" fill="none" stroke="#231f20" stroke-width="27.9" stroke-linecap="butt" stroke-linejoin="round"/>
<path d="M885.6 1252.1L496.3 1403.1" fill="none" stroke="#fff" stroke-width="23.1" stroke-linecap="butt" stroke-linejoin="round"/>
<path d="M924.9 1226.2L882 1242.8L874.9 1243.8A11.6 4.9 -111.2 0 0 883.3 1265.5L889.2 1261.5L932.1 1244.8A10 4.2 -111.2 0 0 924.9 1226.2Z" fill="#231f20" stroke="#231f20" stroke-width="1" stroke-linejoin="round" stroke-linecap="round" />
<path d="M448.6 1432.3L499.9 1412.4L507 1411.4A11.6 4.9 68.8 0 1 498.6 1389.8L492.7 1393.8L441.4 1413.7Z" fill="#231f20" stroke="#231f20" stroke-width="1" stroke-linejoin="round" stroke-linecap="round" />
<ellipse cx="445" cy="1423" rx="9.8" ry="4.1" transform="rotate(68.8 445 1423)" fill="#fff" stroke="#231f20" stroke-width="2.2" />
<path d="M1488.5 1595.7L1244.7 1828.5" fill="none" stroke="#231f20" stroke-width="27.9" stroke-linecap="butt" stroke-linejoin="round"/>
<path d="M1488.5 1595.7L1244.7 1828.5" fill="none" stroke="#fff" stroke-width="23.1" stroke-linecap="butt" stroke-linejoin="round"/>
<path d="M1509.1 1562.3L1481.6 1588.5L1475.4 1592.2A11.6 4.9 -133.7 0 0 1491.5 1609L1495.4 1603L1522.9 1576.7A10 4.2 -133.7 0 0 1509.1 1562.3Z" fill="#231f20" stroke="#231f20" stroke-width="1" stroke-linejoin="round" stroke-linecap="round" />
<path d="M1215.4 1870.2L1251.6 1835.7L1257.7 1832A11.6 4.9 46.3 0 1 1241.7 1815.3L1237.8 1821.2L1201.6 1855.8Z" fill="#231f20" stroke="#231f20" stroke-width="1" stroke-linejoin="round" stroke-linecap="round" />
<ellipse cx="1208.5" cy="1863" rx="9.8" ry="4.1" transform="rotate(46.3 1208.5 1863)" fill="#fff" stroke="#231f20" stroke-width="2.2" />
<path d="M787.6 832.6L791.9 835.1A12.5 6.2 120 0 0 804.4 813.4L800.1 810.9A12.5 6.2 120 0 0 787.6 832.6Z" fill="#fff" stroke="#231f20" stroke-width="2.6" stroke-linejoin="round"/>
<ellipse cx="798.2" cy="824.2" rx="12.5" ry="6.2" transform="rotate(120 798.2 824.2)" fill="#fff" stroke="#231f20" stroke-width="2.6" />
<path d="M802.1 815.5A10 5 120 0 0 789.9 830.5" fill="none" stroke="#231f20" stroke-width="1.4"/>
<circle cx="810" cy="829" r="14.5" fill="#fff" stroke="#231f20" stroke-width="2.6"/>
<path d="M811.1 844.6L817.1 848.1A12.2 7.3 120 0 0 829.3 826.9L823.3 823.4A12.2 7.3 120 0 0 811.1 844.6Z" fill="#231f20" stroke="#231f20" stroke-width="2.2" stroke-linejoin="round"/>
<ellipse cx="823.2" cy="837.5" rx="12.2" ry="7.3" transform="rotate(120 823.2 837.5)" fill="#231f20" stroke="#231f20" stroke-width="2.2" />
<ellipse cx="824.5" cy="838" rx="3.9" ry="7.4" transform="rotate(32 824.5 838)" fill="#fff"/>
<path d="M204.6 1243.6L208.9 1246.1A12.5 6.2 120 0 0 221.4 1224.4L217.1 1221.9A12.5 6.2 120 0 0 204.6 1243.6Z" fill="#fff" stroke="#231f20" stroke-width="2.6" stroke-linejoin="round"/>
<ellipse cx="215.2" cy="1235.2" rx="12.5" ry="6.2" transform="rotate(120 215.2 1235.2)" fill="#fff" stroke="#231f20" stroke-width="2.6" />
<path d="M219.1 1226.5A10 5 120 0 0 206.9 1241.5" fill="none" stroke="#231f20" stroke-width="1.4"/>
<circle cx="227" cy="1240" r="14.5" fill="#fff" stroke="#231f20" stroke-width="2.6"/>
<path d="M228.1 1255.6L234.1 1259.1A12.2 7.3 120 0 0 246.3 1237.9L240.3 1234.4A12.2 7.3 120 0 0 228.1 1255.6Z" fill="#231f20" stroke="#231f20" stroke-width="2.2" stroke-linejoin="round"/>
<ellipse cx="240.2" cy="1248.5" rx="12.2" ry="7.3" transform="rotate(120 240.2 1248.5)" fill="#231f20" stroke="#231f20" stroke-width="2.2" />
<ellipse cx="241.5" cy="1249" rx="3.9" ry="7.4" transform="rotate(32 241.5 1249)" fill="#fff"/>
<path d="M1284.6 1096.6L1288.9 1099.1A12.5 6.2 120 0 0 1301.4 1077.4L1297.1 1074.9A12.5 6.2 120 0 0 1284.6 1096.6Z" fill="#fff" stroke="#231f20" stroke-width="2.6" stroke-linejoin="round"/>
<ellipse cx="1295.2" cy="1088.2" rx="12.5" ry="6.2" transform="rotate(120 1295.2 1088.2)" fill="#fff" stroke="#231f20" stroke-width="2.6" />
<path d="M1299.1 1079.5A10 5 120 0 0 1286.9 1094.5" fill="none" stroke="#231f20" stroke-width="1.4"/>
<circle cx="1307" cy="1093" r="14.5" fill="#fff" stroke="#231f20" stroke-width="2.6"/>
<path d="M1308.1 1108.6L1314.1 1112.1A12.2 7.3 120 0 0 1326.3 1090.9L1320.3 1087.4A12.2 7.3 120 0 0 1308.1 1108.6Z" fill="#231f20" stroke="#231f20" stroke-width="2.2" stroke-linejoin="round"/>
<ellipse cx="1320.2" cy="1101.5" rx="12.2" ry="7.3" transform="rotate(120 1320.2 1101.5)" fill="#231f20" stroke="#231f20" stroke-width="2.2" />
<ellipse cx="1321.5" cy="1102" rx="3.9" ry="7.4" transform="rotate(32 1321.5 1102)" fill="#fff"/>
<path d="M1097.6 1210.6L1101.9 1213.1A12.5 6.2 120 0 0 1114.4 1191.4L1110.1 1188.9A12.5 6.2 120 0 0 1097.6 1210.6Z" fill="#fff" stroke="#231f20" stroke-width="2.6" stroke-linejoin="round"/>
<ellipse cx="1108.2" cy="1202.2" rx="12.5" ry="6.2" transform="rotate(120 1108.2 1202.2)" fill="#fff" stroke="#231f20" stroke-width="2.6" />
<path d="M1112.1 1193.5A10 5 120 0 0 1099.9 1208.5" fill="none" stroke="#231f20" stroke-width="1.4"/>
<circle cx="1120" cy="1207" r="14.5" fill="#fff" stroke="#231f20" stroke-width="2.6"/>
<path d="M1121.1 1222.6L1127.1 1226.1A12.2 7.3 120 0 0 1139.3 1204.9L1133.3 1201.4A12.2 7.3 120 0 0 1121.1 1222.6Z" fill="#231f20" stroke="#231f20" stroke-width="2.2" stroke-linejoin="round"/>
<ellipse cx="1133.2" cy="1215.5" rx="12.2" ry="7.3" transform="rotate(120 1133.2 1215.5)" fill="#231f20" stroke="#231f20" stroke-width="2.2" />
<ellipse cx="1134.5" cy="1216" rx="3.9" ry="7.4" transform="rotate(32 1134.5 1216)" fill="#fff"/>
<path d="M356.6 1544.6L360.9 1547.1A12.5 6.2 120 0 0 373.4 1525.4L369.1 1522.9A12.5 6.2 120 0 0 356.6 1544.6Z" fill="#fff" stroke="#231f20" stroke-width="2.6" stroke-linejoin="round"/>
<ellipse cx="367.2" cy="1536.2" rx="12.5" ry="6.2" transform="rotate(120 367.2 1536.2)" fill="#fff" stroke="#231f20" stroke-width="2.6" />
<path d="M371.1 1527.5A10 5 120 0 0 358.9 1542.5" fill="none" stroke="#231f20" stroke-width="1.4"/>
<circle cx="379" cy="1541" r="14.5" fill="#fff" stroke="#231f20" stroke-width="2.6"/>
<path d="M380.1 1556.6L386.1 1560.1A12.2 7.3 120 0 0 398.3 1538.9L392.3 1535.4A12.2 7.3 120 0 0 380.1 1556.6Z" fill="#231f20" stroke="#231f20" stroke-width="2.2" stroke-linejoin="round"/>
<ellipse cx="392.2" cy="1549.5" rx="12.2" ry="7.3" transform="rotate(120 392.2 1549.5)" fill="#231f20" stroke="#231f20" stroke-width="2.2" />
<ellipse cx="393.5" cy="1550" rx="3.9" ry="7.4" transform="rotate(32 393.5 1550)" fill="#fff"/>
<path d="M1532.6 1459.6L1536.9 1462.1A12.5 6.2 120 0 0 1549.4 1440.4L1545.1 1437.9A12.5 6.2 120 0 0 1532.6 1459.6Z" fill="#fff" stroke="#231f20" stroke-width="2.6" stroke-linejoin="round"/>
<ellipse cx="1543.2" cy="1451.2" rx="12.5" ry="6.2" transform="rotate(120 1543.2 1451.2)" fill="#fff" stroke="#231f20" stroke-width="2.6" />
<path d="M1547.1 1442.5A10 5 120 0 0 1534.9 1457.5" fill="none" stroke="#231f20" stroke-width="1.4"/>
<circle cx="1555" cy="1456" r="14.5" fill="#fff" stroke="#231f20" stroke-width="2.6"/>
<path d="M1556.1 1471.6L1562.1 1475.1A12.2 7.3 120 0 0 1574.3 1453.9L1568.3 1450.4A12.2 7.3 120 0 0 1556.1 1471.6Z" fill="#231f20" stroke="#231f20" stroke-width="2.2" stroke-linejoin="round"/>
<ellipse cx="1568.2" cy="1464.5" rx="12.2" ry="7.3" transform="rotate(120 1568.2 1464.5)" fill="#231f20" stroke="#231f20" stroke-width="2.2" />
<ellipse cx="1569.5" cy="1465" rx="3.9" ry="7.4" transform="rotate(32 1569.5 1465)" fill="#fff"/>
<path d="M986.6 1906.6L990.9 1909.1A12.5 6.2 120 0 0 1003.4 1887.4L999.1 1884.9A12.5 6.2 120 0 0 986.6 1906.6Z" fill="#fff" stroke="#231f20" stroke-width="2.6" stroke-linejoin="round"/>
<ellipse cx="997.2" cy="1898.2" rx="12.5" ry="6.2" transform="rotate(120 997.2 1898.2)" fill="#fff" stroke="#231f20" stroke-width="2.6" />
<path d="M1001.1 1889.5A10 5 120 0 0 988.9 1904.5" fill="none" stroke="#231f20" stroke-width="1.4"/>
<circle cx="1009" cy="1903" r="14.5" fill="#fff" stroke="#231f20" stroke-width="2.6"/>
<path d="M1010.1 1918.6L1016.1 1922.1A12.2 7.3 120 0 0 1028.3 1900.9L1022.3 1897.4A12.2 7.3 120 0 0 1010.1 1918.6Z" fill="#231f20" stroke="#231f20" stroke-width="2.2" stroke-linejoin="round"/>
<ellipse cx="1022.2" cy="1911.5" rx="12.2" ry="7.3" transform="rotate(120 1022.2 1911.5)" fill="#231f20" stroke="#231f20" stroke-width="2.2" />
<ellipse cx="1023.5" cy="1912" rx="3.9" ry="7.4" transform="rotate(32 1023.5 1912)" fill="#fff"/>
<path d="M1878.6 1564.6L1882.9 1567.1A12.5 6.2 120 0 0 1895.4 1545.4L1891.1 1542.9A12.5 6.2 120 0 0 1878.6 1564.6Z" fill="#fff" stroke="#231f20" stroke-width="2.6" stroke-linejoin="round"/>
<ellipse cx="1889.2" cy="1556.2" rx="12.5" ry="6.2" transform="rotate(120 1889.2 1556.2)" fill="#fff" stroke="#231f20" stroke-width="2.6" />
<path d="M1893.1 1547.5A10 5 120 0 0 1880.9 1562.5" fill="none" stroke="#231f20" stroke-width="1.4"/>
<circle cx="1901" cy="1561" r="14.5" fill="#fff" stroke="#231f20" stroke-width="2.6"/>
<path d="M1902.1 1576.6L1908.1 1580.1A12.2 7.3 120 0 0 1920.3 1558.9L1914.3 1555.4A12.2 7.3 120 0 0 1902.1 1576.6Z" fill="#231f20" stroke="#231f20" stroke-width="2.2" stroke-linejoin="round"/>
<ellipse cx="1914.2" cy="1569.5" rx="12.2" ry="7.3" transform="rotate(120 1914.2 1569.5)" fill="#231f20" stroke="#231f20" stroke-width="2.2" />
<ellipse cx="1915.5" cy="1570" rx="3.9" ry="7.4" transform="rotate(32 1915.5 1570)" fill="#fff"/>
<path d="M1488.6 1986.6L1492.9 1989.1A12.5 6.2 120 0 0 1505.4 1967.4L1501.1 1964.9A12.5 6.2 120 0 0 1488.6 1986.6Z" fill="#fff" stroke="#231f20" stroke-width="2.6" stroke-linejoin="round"/>
<ellipse cx="1499.2" cy="1978.2" rx="12.5" ry="6.2" transform="rotate(120 1499.2 1978.2)" fill="#fff" stroke="#231f20" stroke-width="2.6" />
<path d="M1503.1 1969.5A10 5 120 0 0 1490.9 1984.5" fill="none" stroke="#231f20" stroke-width="1.4"/>
<circle cx="1511" cy="1983" r="14.5" fill="#fff" stroke="#231f20" stroke-width="2.6"/>
<path d="M1512.1 1998.6L1518.1 2002.1A12.2 7.3 120 0 0 1530.3 1980.9L1524.3 1977.4A12.2 7.3 120 0 0 1512.1 1998.6Z" fill="#231f20" stroke="#231f20" stroke-width="2.2" stroke-linejoin="round"/>
<ellipse cx="1524.2" cy="1991.5" rx="12.2" ry="7.3" transform="rotate(120 1524.2 1991.5)" fill="#231f20" stroke="#231f20" stroke-width="2.2" />
<ellipse cx="1525.5" cy="1992" rx="3.9" ry="7.4" transform="rotate(32 1525.5 1992)" fill="#fff"/>
<path d="M2231.6 1660.6L2235.9 1663.1A12.5 6.2 120 0 0 2248.4 1641.4L2244.1 1638.9A12.5 6.2 120 0 0 2231.6 1660.6Z" fill="#fff" stroke="#231f20" stroke-width="2.6" stroke-linejoin="round"/>
<ellipse cx="2242.2" cy="1652.2" rx="12.5" ry="6.2" transform="rotate(120 2242.2 1652.2)" fill="#fff" stroke="#231f20" stroke-width="2.6" />
<path d="M2246.1 1643.5A10 5 120 0 0 2233.9 1658.5" fill="none" stroke="#231f20" stroke-width="1.4"/>
<circle cx="2254" cy="1657" r="14.5" fill="#fff" stroke="#231f20" stroke-width="2.6"/>
<path d="M2255.1 1672.6L2261.1 1676.1A12.2 7.3 120 0 0 2273.3 1654.9L2267.3 1651.4A12.2 7.3 120 0 0 2255.1 1672.6Z" fill="#231f20" stroke="#231f20" stroke-width="2.2" stroke-linejoin="round"/>
<ellipse cx="2267.2" cy="1665.5" rx="12.2" ry="7.3" transform="rotate(120 2267.2 1665.5)" fill="#231f20" stroke="#231f20" stroke-width="2.2" />
<ellipse cx="2268.5" cy="1666" rx="3.9" ry="7.4" transform="rotate(32 2268.5 1666)" fill="#fff"/>
<path d="M694.5 807.8C695.4 805.5 697.7 802.6 699.6 800.7C701.5 798.9 701.4 798.5 705.8 796.8C710.3 795.2 721.4 792.8 726.2 790.9C731 789.1 731.7 787.7 734.8 785.8C738 783.9 741.9 781.4 745 779.6C748.1 777.7 750.9 775.9 753.6 774.9C756.4 773.8 758.7 773.2 761.5 773.3C764.2 773.4 767.6 774.3 770.1 775.6C772.6 776.9 774.9 779 776.4 781.1C777.8 783.2 778.5 785.4 778.9 788.2C779.2 790.9 779.1 794.2 778.3 797.6C777.5 801 776 805.2 774 808.5C772 811.9 768.7 815.3 766.2 818C763.7 820.6 763.7 823.2 759.1 824.6C754.6 826.1 743.6 825.7 738.8 826.6C733.9 827.4 733.8 828.6 730.1 829.7C726.5 830.8 720.6 832.5 716.8 833.3C713 834 710 834.3 707.4 834C704.8 833.8 703.2 833.3 701.1 831.7C699.1 830.1 696.5 827.1 695.3 824.3C694.1 821.5 694.1 817.6 693.9 814.9C693.8 812.1 693.5 810.2 694.5 807.8Z" fill="#fff" stroke="#231f20" stroke-width="3" stroke-linejoin="round" stroke-linecap="round" />
<path d="M720.7 795.3C722.3 796.4 727.9 799.2 730.1 802.3C732.4 805.4 733.8 810.3 734.1 814.1C734.3 817.8 732.9 822.3 731.7 825C730.5 827.7 727.8 829.3 727 830.1" fill="none" stroke="#231f20" stroke-width="2.5" stroke-linejoin="round" stroke-linecap="round" />
<path d="M736.4 788.6C737.8 789.7 742.9 792.4 745 795.2C747.1 798 748.4 802.2 748.9 805.4C749.5 808.7 748.9 812 748.2 814.8C747.4 817.7 744.9 821.4 744.2 822.7" fill="none" stroke="#231f20" stroke-width="2.5" stroke-linejoin="round" stroke-linecap="round" />
<path d="M740.3 787C741.8 788.1 746.8 790.9 748.9 793.7C751 796.5 752.4 800.5 752.9 803.9C753.3 807.3 752.3 811 751.7 814C751 817 749.4 820.6 748.9 821.9" fill="none" stroke="#231f20" stroke-width="2.5" stroke-linejoin="round" stroke-linecap="round" />
<path d="M755.2 785.8C756.8 782.4 760.3 779.9 763 778.8C765.8 777.7 769.2 778 771.7 779.2C774.1 780.3 776.5 782.9 777.5 785.8C778.6 788.8 778.7 793 777.9 796.8C777.2 800.6 775.5 804.8 773.2 808.5C771 812.3 767.6 817 764.6 819.5C761.7 822 757.5 824.4 755.6 823.6C753.7 822.8 753.6 818.9 753.3 814.8C752.9 810.8 753.3 804 753.6 799.2C754 794.3 753.6 789.2 755.2 785.8Z" fill="#fff" stroke="#231f20" stroke-width="2.6" stroke-linejoin="round" stroke-linecap="round" />
<path d="M759.1 795.2C760.4 792.8 762.6 790.6 764.6 789.7C766.6 788.9 770 789 771.3 790.1C772.6 791.3 772.8 794 772.5 796.8C772.1 799.6 770.9 804.1 769.3 807C767.8 809.9 765 813 763.1 814C761.1 815.1 758.5 814.8 757.6 813.3C756.6 811.7 756.9 807.6 757.2 804.6C757.4 801.6 757.9 797.7 759.1 795.2Z" fill="#fff" stroke="#231f20" stroke-width="4" stroke-linejoin="round" stroke-linecap="round" />
<path d="M694.5 808.2C695.5 804.7 697.9 802.4 700.3 801.1C702.8 799.9 706.1 799.8 709 800.7C711.8 801.7 715.5 804.1 717.6 807C719.7 809.9 721.3 814.5 721.5 818C721.8 821.5 720.6 825.6 719.2 828.2C717.7 830.7 715.1 832.3 712.9 833.3C710.7 834.2 708.2 834.2 705.8 833.7C703.5 833.1 700.7 831.7 698.8 829.7C696.9 827.8 695.2 825.5 694.5 821.9C693.8 818.3 693.5 811.7 694.5 808.2Z" fill="#231f20" stroke="#231f20" stroke-width="1.7" stroke-linejoin="round" stroke-linecap="round" />
<path d="M701.9 814.9C702.3 813.2 703.7 810.9 705.1 810.1C706.4 809.4 708.7 809.4 710.1 810.1C711.6 810.9 713 813 713.7 814.8C714.3 816.7 714.5 819.5 714.1 821.1C713.6 822.7 712.2 823.8 710.9 824.3C709.6 824.7 707.6 824.5 706.2 823.9C704.9 823.2 703.4 821.8 702.7 820.3C702 818.8 701.5 816.5 701.9 814.9Z" fill="#fff" stroke="#231f20" stroke-width="1" stroke-linejoin="round" stroke-linecap="round" />
<path d="M954 1190.8C955.3 1188.1 958.4 1184.5 961 1182.1C963.6 1179.7 963.5 1179.3 969.7 1176.4C975.8 1173.5 991.1 1168.1 997.8 1164.9C1004.5 1161.8 1005.4 1160.2 1009.7 1157.4C1014 1154.6 1019.4 1150.9 1023.7 1148.2C1028 1145.5 1031.8 1142.8 1035.6 1141C1039.4 1139.2 1042.6 1137.9 1046.4 1137.3C1050.2 1136.7 1054.9 1136.8 1058.3 1137.5C1061.8 1138.2 1065 1139.7 1067 1141.5C1069.1 1143.3 1070.1 1145.4 1070.5 1148.1C1071 1150.9 1070.9 1154.3 1069.8 1158C1068.7 1161.7 1066.7 1166.5 1064 1170.5C1061.2 1174.6 1056.6 1178.9 1053.2 1182.3C1049.8 1185.8 1049.8 1188.4 1043.5 1191.1C1037.2 1193.8 1022 1196.4 1015.3 1198.5C1008.7 1200.7 1008.5 1201.9 1003.4 1204.1C998.4 1206.2 990.3 1209.5 985 1211.2C979.8 1213 975.7 1214.1 972.1 1214.6C968.4 1215 966.2 1214.9 963.4 1213.8C960.6 1212.6 956.9 1210.2 955.2 1207.6C953.5 1205 953.5 1201 953.3 1198.2C953.1 1195.4 952.8 1193.5 954 1190.8Z" fill="#fff" stroke="#231f20" stroke-width="3" stroke-linejoin="round" stroke-linecap="round" />
<path d="M990.2 1170.8C992.4 1171.6 1000.2 1173 1003.3 1175.7C1006.4 1178.3 1008.4 1182.9 1008.8 1186.8C1009.1 1190.6 1007.2 1195.7 1005.6 1198.8C1004 1201.9 1000.2 1204.2 999.1 1205.3" fill="none" stroke="#231f20" stroke-width="2.5" stroke-linejoin="round" stroke-linecap="round" />
<path d="M1011.9 1159.8C1013.9 1160.6 1020.9 1162.1 1023.8 1164.4C1026.7 1166.8 1028.5 1170.7 1029.3 1173.9C1030 1177.2 1029.3 1180.7 1028.3 1183.9C1027.2 1187.1 1023.8 1191.5 1022.9 1193" fill="none" stroke="#231f20" stroke-width="2.5" stroke-linejoin="round" stroke-linecap="round" />
<path d="M1017.3 1157.1C1019.3 1157.9 1026.3 1159.4 1029.2 1161.7C1032.1 1164.1 1034 1167.9 1034.7 1171.3C1035.3 1174.7 1034 1178.8 1033.1 1182.1C1032.2 1185.4 1030 1189.5 1029.4 1191" fill="none" stroke="#231f20" stroke-width="2.5" stroke-linejoin="round" stroke-linecap="round" />
<path d="M1037.8 1152C1040 1148 1044.8 1144.5 1048.6 1142.6C1052.4 1140.7 1057.2 1140.1 1060.5 1140.7C1063.9 1141.3 1067.2 1143.3 1068.7 1146C1070.2 1148.8 1070.3 1153.2 1069.3 1157.3C1068.3 1161.4 1065.9 1166.2 1062.9 1170.7C1059.8 1175.2 1055.1 1181 1051 1184.4C1047 1187.8 1041.2 1191.3 1038.6 1191C1036 1190.7 1035.8 1186.7 1035.3 1182.5C1034.8 1178.4 1035.3 1171.3 1035.7 1166.2C1036.2 1161.1 1035.7 1155.9 1037.8 1152Z" fill="#fff" stroke="#231f20" stroke-width="2.6" stroke-linejoin="round" stroke-linecap="round" />
<path d="M1043.3 1160.7C1045 1157.8 1048.1 1154.9 1050.8 1153.5C1053.6 1152.1 1058.2 1151.3 1060.1 1152.2C1061.9 1153 1062.2 1155.8 1061.7 1158.8C1061.3 1161.8 1059.6 1166.8 1057.4 1170.1C1055.3 1173.5 1051.5 1177.5 1048.8 1179.1C1046.1 1180.7 1042.6 1181.1 1041.2 1179.8C1039.9 1178.4 1040.3 1174.1 1040.6 1170.9C1041 1167.7 1041.6 1163.6 1043.3 1160.7Z" fill="#fff" stroke="#231f20" stroke-width="4" stroke-linejoin="round" stroke-linecap="round" />
<path d="M954 1191.2C955.4 1187.4 958.8 1184.3 962.1 1182.3C965.5 1180.4 970.1 1179.4 974 1179.6C978 1179.9 983.1 1181.4 986 1183.9C988.9 1186.3 991.1 1190.6 991.5 1194.2C991.8 1197.8 990.2 1202.3 988.3 1205.4C986.3 1208.4 982.7 1210.8 979.6 1212.3C976.6 1213.8 973.1 1214.5 969.9 1214.6C966.6 1214.6 962.7 1213.9 960.1 1212.4C957.5 1210.8 955.1 1208.9 954.1 1205.4C953.1 1201.9 952.7 1195 954 1191.2Z" fill="#fff" stroke="#231f20" stroke-width="3.7" stroke-linejoin="round" stroke-linecap="round" />
<path d="M964.4 1196.1C964.9 1194.3 966.8 1191.6 968.7 1190.4C970.6 1189.2 973.7 1188.6 975.7 1189.1C977.7 1189.5 979.7 1191.3 980.6 1193C981.5 1194.7 981.8 1197.7 981.2 1199.4C980.6 1201.1 978.7 1202.7 976.9 1203.5C975.1 1204.3 972.3 1204.6 970.4 1204.3C968.5 1204 966.5 1203 965.5 1201.6C964.5 1200.2 963.8 1198 964.4 1196.1Z" fill="#fff" stroke="#231f20" stroke-width="2.9" stroke-linejoin="round" stroke-linecap="round" />
<path d="M1558.2 1542.2C1558.3 1539.5 1559.6 1535.5 1560.9 1532.7C1562.2 1529.9 1561.9 1529.5 1566 1525.5C1570.1 1521.4 1580.9 1512.8 1585.3 1508.4C1589.7 1503.9 1589.9 1502.2 1592.5 1498.7C1595.1 1495.1 1598.2 1490.5 1600.9 1487C1603.5 1483.5 1605.7 1480.2 1608.2 1477.7C1610.7 1475.1 1612.9 1473.2 1615.9 1471.7C1618.8 1470.3 1622.8 1469.2 1625.9 1469C1629.1 1468.8 1632.4 1469.5 1634.7 1470.6C1637.1 1471.7 1638.7 1473.4 1640.1 1475.8C1641.5 1478.2 1642.7 1481.3 1643.2 1485C1643.7 1488.6 1643.7 1493.4 1642.9 1497.7C1642.1 1502.1 1639.8 1507.1 1638.2 1511C1636.6 1514.9 1637.6 1517.3 1633.3 1521.3C1629 1525.2 1617.3 1531.2 1612.5 1534.7C1607.7 1538.3 1608 1539.4 1604.6 1542.6C1601.1 1545.7 1595.5 1550.6 1591.8 1553.5C1588.1 1556.3 1585 1558.3 1582.1 1559.5C1579.3 1560.8 1577.4 1561.3 1574.6 1560.9C1571.8 1560.5 1567.8 1559.2 1565.4 1557.3C1563.1 1555.3 1561.6 1551.7 1560.4 1549.2C1559.2 1546.7 1558.1 1545 1558.2 1542.2Z" fill="#fff" stroke="#231f20" stroke-width="3" stroke-linejoin="round" stroke-linecap="round" />
<path d="M1581.2 1515.5C1583.3 1515.7 1590.3 1515.1 1593.9 1516.8C1597.5 1518.5 1600.9 1522.2 1602.6 1525.6C1604.4 1529 1604.6 1534.1 1604.4 1537.3C1604.2 1540.4 1601.9 1543.5 1601.4 1544.7" fill="none" stroke="#231f20" stroke-width="2.5" stroke-linejoin="round" stroke-linecap="round" />
<path d="M1595.2 1500.4C1597.2 1500.6 1603.6 1500.3 1607 1501.7C1610.3 1503.2 1613.2 1506.3 1615.1 1509C1616.9 1511.8 1617.6 1515.2 1617.9 1518.3C1618.2 1521.5 1617 1526.3 1616.8 1527.9" fill="none" stroke="#231f20" stroke-width="2.5" stroke-linejoin="round" stroke-linecap="round" />
<path d="M1598.8 1496.7C1600.7 1496.9 1607.2 1496.6 1610.5 1498C1613.8 1499.5 1616.8 1502.4 1618.6 1505.3C1620.4 1508.3 1620.9 1512.4 1621.3 1515.6C1621.8 1518.8 1621.4 1523 1621.5 1524.5" fill="none" stroke="#231f20" stroke-width="2.5" stroke-linejoin="round" stroke-linecap="round" />
<path d="M1614.1 1487.1C1614.4 1483 1617.2 1478.6 1619.7 1476C1622.1 1473.4 1625.9 1471.7 1629 1471.5C1632 1471.2 1635.5 1472.2 1637.8 1474.4C1640 1476.5 1641.8 1480.5 1642.5 1484.4C1643.2 1488.4 1642.9 1493.3 1642.1 1498.2C1641.2 1503 1639.3 1509.3 1637.2 1513.4C1635 1517.4 1631.5 1522 1629.2 1522.3C1626.9 1522.7 1625.2 1519.1 1623.3 1515.4C1621.4 1511.8 1619.2 1505.2 1617.6 1500.5C1616.1 1495.8 1613.8 1491.2 1614.1 1487.1Z" fill="#fff" stroke="#231f20" stroke-width="2.6" stroke-linejoin="round" stroke-linecap="round" />
<path d="M1621.9 1493.7C1622.3 1490.6 1623.8 1487.4 1625.6 1485.4C1627.4 1483.5 1631 1481.6 1632.8 1482C1634.7 1482.3 1635.9 1484.7 1636.7 1487.6C1637.4 1490.4 1637.8 1495.3 1637.3 1498.9C1636.7 1502.5 1635.1 1507 1633.4 1509.1C1631.7 1511.2 1628.9 1512.4 1627.3 1511.5C1625.6 1510.6 1624.4 1506.6 1623.5 1503.6C1622.6 1500.7 1621.6 1496.7 1621.9 1493.7Z" fill="#fff" stroke="#231f20" stroke-width="4" stroke-linejoin="round" stroke-linecap="round" />
<path d="M1558.4 1542.6C1558.1 1538.8 1559.8 1535.2 1561.9 1532.6C1563.9 1530.1 1567.4 1528.1 1570.8 1527.4C1574.3 1526.7 1579.1 1526.8 1582.4 1528.4C1585.8 1529.9 1589.2 1533.3 1590.9 1536.4C1592.5 1539.6 1592.9 1544.1 1592.3 1547.3C1591.8 1550.5 1589.6 1553.6 1587.6 1555.7C1585.6 1557.8 1583 1559.3 1580.3 1560.1C1577.6 1560.9 1574.1 1561.2 1571.3 1560.4C1568.5 1559.6 1565.9 1558.5 1563.7 1555.5C1561.5 1552.5 1558.7 1546.4 1558.4 1542.6Z" fill="#fff" stroke="#231f20" stroke-width="3.7" stroke-linejoin="round" stroke-linecap="round" />
<path d="M1568.9 1544.6C1568.6 1542.8 1569.2 1540 1570.3 1538.4C1571.5 1536.9 1573.9 1535.6 1575.8 1535.5C1577.6 1535.5 1579.9 1536.6 1581.3 1537.9C1582.7 1539.3 1584 1541.9 1584.2 1543.6C1584.3 1545.3 1583.3 1547.2 1582.1 1548.3C1580.9 1549.5 1578.6 1550.5 1576.9 1550.6C1575.2 1550.8 1573.2 1550.3 1571.8 1549.3C1570.5 1548.3 1569.1 1546.5 1568.9 1544.6Z" fill="#fff" stroke="#231f20" stroke-width="2.9" stroke-linejoin="round" stroke-linecap="round" />
<path d="M2245.4 1690.1C2247 1688 2250.3 1685.7 2252.8 1684.2C2255.4 1682.8 2255.4 1682.4 2260.8 1681.6C2266.1 1680.9 2279.1 1680.7 2284.9 1679.9C2290.7 1679 2291.8 1677.8 2295.7 1676.6C2299.7 1675.4 2304.7 1673.6 2308.6 1672.5C2312.5 1671.3 2316 1670 2319.4 1669.5C2322.7 1669.1 2325.4 1668.9 2328.5 1669.6C2331.5 1670.2 2335.1 1671.8 2337.5 1673.6C2340 1675.3 2342 1677.8 2343.2 1680.2C2344.3 1682.5 2344.6 1684.8 2344.3 1687.6C2344 1690.3 2343.1 1693.5 2341.4 1696.7C2339.6 1699.9 2337 1703.7 2333.9 1706.6C2330.8 1709.6 2326.3 1712.2 2322.9 1714.3C2319.5 1716.4 2318.9 1718.9 2313.4 1719.4C2308 1719.9 2295.8 1717.5 2290.2 1717.3C2284.6 1717.2 2284.2 1718.3 2279.9 1718.7C2275.5 1719.1 2268.5 1719.6 2264.2 1719.5C2259.8 1719.5 2256.3 1719.2 2253.5 1718.4C2250.6 1717.7 2248.9 1716.9 2247.1 1714.9C2245.2 1712.9 2243 1709.4 2242.3 1706.4C2241.7 1703.5 2242.6 1699.7 2243.1 1697C2243.6 1694.2 2243.8 1692.3 2245.4 1690.1Z" fill="#fff" stroke="#231f20" stroke-width="3" stroke-linejoin="round" stroke-linecap="round" />
<path d="M2277.7 1683C2279.2 1684.5 2284.8 1688.3 2286.5 1691.8C2288.2 1695.3 2288.6 1700.3 2288 1704.1C2287.4 1707.9 2284.7 1712 2282.7 1714.4C2280.8 1716.8 2277.3 1717.8 2276.3 1718.5" fill="none" stroke="#231f20" stroke-width="2.5" stroke-linejoin="round" stroke-linecap="round" />
<path d="M2296.8 1679.6C2298.1 1681 2303.2 1684.7 2304.8 1687.8C2306.5 1691 2306.9 1695.3 2306.7 1698.6C2306.5 1701.9 2305.1 1705 2303.6 1707.7C2302 1710.3 2298.3 1713.4 2297.3 1714.6" fill="none" stroke="#231f20" stroke-width="2.5" stroke-linejoin="round" stroke-linecap="round" />
<path d="M2301.6 1678.8C2302.9 1680.2 2307.9 1683.9 2309.6 1687.1C2311.2 1690.2 2311.8 1694.4 2311.5 1697.8C2311.1 1701.3 2309.1 1704.8 2307.7 1707.6C2306.2 1710.4 2303.5 1713.5 2302.7 1714.7" fill="none" stroke="#231f20" stroke-width="2.5" stroke-linejoin="round" stroke-linecap="round" />
<path d="M2318.4 1680.6C2321 1677.6 2325.6 1675.8 2328.9 1675.2C2332.2 1674.7 2336 1675.7 2338.4 1677.3C2340.8 1679 2342.9 1681.9 2343.3 1685C2343.8 1688.1 2342.8 1692.3 2341.1 1695.9C2339.4 1699.4 2336.4 1703.2 2333 1706.5C2329.6 1709.7 2324.6 1713.6 2320.8 1715.5C2316.9 1717.4 2311.6 1718.9 2309.7 1717.7C2307.8 1716.6 2308.6 1712.7 2309.2 1708.7C2309.9 1704.6 2311.9 1698 2313.5 1693.4C2315 1688.7 2315.9 1683.6 2318.4 1680.6Z" fill="#fff" stroke="#231f20" stroke-width="2.6" stroke-linejoin="round" stroke-linecap="round" />
<path d="M2320.5 1690.6C2322.5 1688.4 2325.5 1686.7 2328 1686.3C2330.4 1685.9 2334.1 1686.6 2335.3 1688C2336.5 1689.4 2336 1692.1 2335 1694.8C2334 1697.5 2331.5 1701.6 2329 1704.2C2326.6 1706.7 2322.8 1709.2 2320.3 1709.8C2317.9 1710.5 2315.1 1709.7 2314.4 1708C2313.7 1706.3 2315 1702.3 2316.1 1699.4C2317.1 1696.6 2318.5 1692.8 2320.5 1690.6Z" fill="#fff" stroke="#231f20" stroke-width="4" stroke-linejoin="round" stroke-linecap="round" />
<path d="M2245.3 1690.5C2247.3 1687.3 2250.6 1685.5 2253.6 1684.8C2256.6 1684 2260.3 1684.6 2263.3 1686.1C2266.3 1687.6 2269.8 1690.7 2271.4 1693.9C2273 1697.2 2273.7 1702 2273.1 1705.5C2272.5 1709 2270.2 1712.8 2268 1715C2265.8 1717.2 2262.5 1718.3 2259.8 1718.8C2257.1 1719.2 2254.3 1718.8 2251.8 1717.8C2249.3 1716.7 2246.6 1714.8 2244.9 1712.5C2243.3 1710.2 2241.9 1707.6 2242 1704C2242.1 1700.3 2243.4 1693.7 2245.3 1690.5Z" fill="#fff" stroke="#231f20" stroke-width="3.7" stroke-linejoin="round" stroke-linecap="round" />
<path d="M2252 1698.5C2252.9 1696.9 2254.9 1695 2256.7 1694.5C2258.4 1694 2260.9 1694.5 2262.3 1695.5C2263.7 1696.6 2264.8 1698.9 2265.1 1700.9C2265.4 1702.8 2264.9 1705.6 2264 1707.1C2263.1 1708.5 2261.4 1709.3 2259.8 1709.5C2258.2 1709.7 2256 1709.1 2254.6 1708.2C2253.3 1707.3 2252 1705.7 2251.6 1704.1C2251.1 1702.5 2251.2 1700.1 2252 1698.5Z" fill="#fff" stroke="#231f20" stroke-width="2.9" stroke-linejoin="round" stroke-linecap="round" />
<path d="M217.8 1145.3C221.6 1144 224.7 1145.1 228 1146.8C231.2 1148.6 235.3 1152.5 237.4 1155.8C239.5 1159.2 240.4 1164.3 240.5 1166.8C240.7 1169.4 239.6 1169.4 238.2 1171.1C236.7 1172.8 236.7 1172.1 231.9 1177C227.1 1181.9 215.7 1193.9 209.2 1200.5C202.7 1207.2 197.8 1211.4 192.7 1217C187.6 1222.6 181.8 1230.9 178.6 1234.2C175.5 1237.5 176 1236.2 173.9 1236.6C171.8 1236.9 168.8 1237.3 166.1 1236.6C163.4 1235.8 159.7 1233.7 157.5 1231.9C155.3 1230 153.6 1228.9 152.8 1225.6C151.9 1222.3 151.9 1216.4 152.4 1212.3C152.9 1208.1 154.1 1204 155.9 1200.5C157.7 1197 160.5 1193.7 163 1191.1C165.4 1188.5 168.4 1186.5 170.8 1184.8C173.1 1183.2 175.9 1182.5 177.1 1181.3C178.2 1180.1 177.1 1178.8 177.8 1177.8C178.6 1176.8 180.6 1176.3 181.8 1175.4C182.9 1174.6 181 1176.2 184.9 1172.7C188.8 1169.2 199.8 1158.9 205.3 1154.3C210.7 1149.7 214 1146.5 217.8 1145.3Z" fill="#fff" stroke="#231f20" stroke-width="3" stroke-linejoin="round" stroke-linecap="round" />
<path d="M211.5 1153.5C213.1 1154.2 218.2 1155.5 220.9 1157.4C223.7 1159.4 226.3 1162.1 228 1165.3C229.7 1168.4 230.6 1174.4 231.1 1176.2" fill="none" stroke="#231f20" stroke-width="2.5" stroke-linejoin="round" stroke-linecap="round" />
<path d="M192.7 1168.8C194.4 1169.4 199.8 1170.1 202.9 1172.3C206 1174.5 209.5 1178.4 211.5 1181.7C213.6 1185 214.5 1190.2 215.1 1191.9" fill="none" stroke="#231f20" stroke-width="2.5" stroke-linejoin="round" stroke-linecap="round" />
<path d="M188.8 1173.9C190.4 1174.5 195.3 1175.8 198.2 1177.8C201.2 1179.8 204.5 1183.5 206.4 1186C208.3 1188.5 209.1 1191.6 209.6 1192.7" fill="none" stroke="#231f20" stroke-width="2.5" stroke-linejoin="round" stroke-linecap="round" />
<path d="M163.8 1233C163.8 1230.5 163.1 1222.8 164.1 1217.8C165.2 1212.7 167.3 1207.2 170 1202.9C172.7 1198.6 176.7 1194.7 180.2 1191.9C183.7 1189.1 187.8 1186.9 191.2 1186C194.6 1185.1 198 1185.4 200.6 1186.4C203.2 1187.4 205.8 1191 206.8 1191.9" fill="none" stroke="#231f20" stroke-width="4" stroke-linejoin="round" stroke-linecap="round" />
<path d="M173.9 1186L181.8 1190.3" fill="none" stroke="#231f20" stroke-width="2.5" stroke-linejoin="round" stroke-linecap="round" />
<path d="M163.8 1233C164.9 1233.2 168.3 1233.6 170.8 1233.8C173.3 1234 177.3 1234.3 178.6 1234.4" fill="none" stroke="#231f20" stroke-width="2.2" stroke-linejoin="round" stroke-linecap="round" />
<path d="M195.9 1191.9C197.4 1192.7 203.6 1194.6 205.3 1196.6C206.9 1198.6 207.1 1201.2 205.7 1203.6C204.2 1206.1 198.2 1210.2 196.7 1211.5" fill="none" stroke="#231f20" stroke-width="2.5" stroke-linejoin="round" stroke-linecap="round" />
<path d="M189.6 1192.7L189.6 1202.9" fill="none" stroke="#231f20" stroke-width="2.4" stroke-linejoin="round" stroke-linecap="round" />
<path d="M192.7 1192.7L192.7 1213.1" fill="none" stroke="#231f20" stroke-width="2.4" stroke-linejoin="round" stroke-linecap="round" />
<path d="M195.9 1192.7L195.9 1213.1" fill="none" stroke="#231f20" stroke-width="2.4" stroke-linejoin="round" stroke-linecap="round" />
<path d="M170.8 1222.5C171.3 1219.8 172.4 1214.9 173.9 1211.5C175.5 1208.1 178.1 1204 180.2 1202.1C182.3 1200.1 185 1199.2 186.5 1199.7C187.9 1200.3 188.8 1202.6 188.8 1205.2C188.8 1207.8 187.8 1212.1 186.5 1215.4C185.2 1218.7 182.9 1222.6 181 1224.8C179 1227 176.4 1228.3 174.7 1228.7C173.1 1229.1 171.8 1228.2 171.2 1227.2C170.5 1226.1 170.3 1225.1 170.8 1222.5Z" fill="#fff" stroke="#231f20" stroke-width="2.2" stroke-linejoin="round" stroke-linecap="round" />
<path d="M174.3 1220.1C174.5 1218.1 175.8 1214 177.1 1211.5C178.4 1209 180.7 1206.3 182.2 1205.2C183.7 1204.2 185.6 1203.9 186.1 1205.2C186.6 1206.5 186.1 1210.4 185.3 1213.1C184.4 1215.7 182.5 1219.1 181 1220.9C179.5 1222.6 177.4 1223.8 176.3 1223.6C175.2 1223.5 174.2 1222.1 174.3 1220.1Z" fill="#fff" stroke="#231f20" stroke-width="3.7" stroke-linejoin="round" stroke-linecap="round" />
<path d="M378.8 1452.3C383.2 1452.4 385.8 1454.5 388.3 1457.3C390.8 1460.1 393.1 1465.2 393.7 1469.1C394.3 1473.1 393 1478.3 392 1480.8C391 1483.3 389.9 1483 387.7 1484.2C385.5 1485.3 385.9 1484.6 378.9 1487.8C371.9 1490.9 355.3 1498.6 345.9 1502.9C336.4 1507.1 329.8 1509.5 322.2 1513.3C314.7 1517 305.1 1523.1 300.6 1525.2C296 1527.3 297.1 1526.2 294.8 1525.9C292.6 1525.6 289.4 1524.9 287 1523.3C284.7 1521.6 281.9 1518.4 280.5 1515.8C279.1 1513.3 278 1511.6 278.6 1508.2C279.2 1504.8 281.7 1499.1 284.1 1495.2C286.5 1491.3 289.5 1487.8 292.8 1485C296.1 1482.2 300.4 1480 304 1478.3C307.6 1476.6 311.5 1475.6 314.6 1474.9C317.6 1474.1 320.7 1474.3 322.4 1473.5C324 1472.8 323.5 1471.1 324.7 1470.4C325.9 1469.7 328.1 1469.9 329.6 1469.4C331.2 1469 328.5 1469.9 334 1467.8C339.4 1465.7 354.9 1459.4 362.4 1456.9C369.9 1454.3 374.5 1452.3 378.8 1452.3Z" fill="#fff" stroke="#231f20" stroke-width="3" stroke-linejoin="round" stroke-linecap="round" />
<path d="M369 1458.2C370.2 1459.4 374.7 1462.3 376.6 1465.1C378.5 1468 379.9 1471.5 380.2 1475.1C380.5 1478.7 378.7 1484.8 378.4 1486.7" fill="none" stroke="#231f20" stroke-width="2.5" stroke-linejoin="round" stroke-linecap="round" />
<path d="M343.5 1466.7C344.9 1467.8 349.9 1470.4 352.1 1473.5C354.3 1476.6 355.9 1481.6 356.5 1485.5C357.1 1489.3 355.7 1494.7 355.5 1496.5" fill="none" stroke="#231f20" stroke-width="2.5" stroke-linejoin="round" stroke-linecap="round" />
<path d="M337.3 1470.3C338.6 1471.4 342.9 1474.3 345 1477.2C347 1480.2 348.7 1484.9 349.5 1487.9C350.3 1491 349.7 1494.2 349.7 1495.4" fill="none" stroke="#231f20" stroke-width="2.5" stroke-linejoin="round" stroke-linecap="round" />
<path d="M286.3 1519.1C287.4 1516.6 290.1 1508.9 293.4 1504.4C296.7 1499.9 301.2 1495.3 305.8 1492C310.4 1488.7 316.1 1486.4 320.8 1484.8C325.6 1483.3 330.5 1482.6 334.3 1482.8C338.1 1483.1 341.3 1484.5 343.5 1486.3C345.7 1488.2 346.7 1492.5 347.3 1493.7" fill="none" stroke="#231f20" stroke-width="4" stroke-linejoin="round" stroke-linecap="round" />
<path d="M317.2 1477L323.1 1483.8" fill="none" stroke="#231f20" stroke-width="2.5" stroke-linejoin="round" stroke-linecap="round" />
<path d="M286.3 1519.1C287.4 1519.6 290.6 1521.2 292.9 1522.2C295.3 1523.2 299.2 1524.8 300.5 1525.4" fill="none" stroke="#231f20" stroke-width="2.2" stroke-linejoin="round" stroke-linecap="round" />
<path d="M336.4 1490.1C337.6 1491.4 342.9 1495.3 343.7 1497.8C344.5 1500.2 343.5 1502.8 341 1504.7C338.4 1506.6 330.6 1508.5 328.5 1509.3" fill="none" stroke="#231f20" stroke-width="2.5" stroke-linejoin="round" stroke-linecap="round" />
<path d="M329.8 1488.7L325.3 1498.6" fill="none" stroke="#231f20" stroke-width="2.4" stroke-linejoin="round" stroke-linecap="round" />
<path d="M332.9 1489.8L323.9 1509.5" fill="none" stroke="#231f20" stroke-width="2.4" stroke-linejoin="round" stroke-linecap="round" />
<path d="M336.1 1490.8L327.1 1510.5" fill="none" stroke="#231f20" stroke-width="2.4" stroke-linejoin="round" stroke-linecap="round" />
<path d="M297.9 1511.2C299.6 1508.8 302.9 1504.4 305.9 1501.7C309 1498.9 313.4 1495.9 316.3 1494.7C319.3 1493.5 322.4 1493.5 323.6 1494.5C324.8 1495.5 324.7 1498.1 323.5 1500.6C322.4 1503.1 319.4 1506.9 316.7 1509.6C313.9 1512.4 310 1515.4 307.1 1516.9C304.1 1518.4 300.9 1518.8 299.1 1518.6C297.3 1518.4 296.4 1517.1 296.3 1515.9C296.1 1514.7 296.3 1513.6 297.9 1511.2Z" fill="#fff" stroke="#231f20" stroke-width="2.2" stroke-linejoin="round" stroke-linecap="round" />
<path d="M302.5 1510.1C303.5 1508.2 306.6 1504.7 309 1502.7C311.4 1500.7 314.9 1498.9 316.9 1498.4C318.8 1497.8 320.8 1498.2 320.8 1499.7C320.7 1501.1 318.5 1504.7 316.5 1507C314.5 1509.2 311.1 1511.9 308.8 1513.1C306.5 1514.3 303.9 1514.7 302.9 1514.2C301.8 1513.7 301.5 1512 302.5 1510.1Z" fill="#fff" stroke="#231f20" stroke-width="3.7" stroke-linejoin="round" stroke-linecap="round" />
<path d="M1117.4 1886.3C1120.9 1885.5 1123.9 1886.7 1127.1 1888.5C1130.2 1890.4 1134.3 1894.4 1136.4 1897.6C1138.6 1900.8 1139.7 1905.6 1140 1908C1140.3 1910.3 1139.3 1910.3 1138.1 1911.8C1136.8 1913.3 1136.8 1912.6 1132.5 1916.8C1128.3 1920.9 1118.3 1931.1 1112.6 1936.8C1106.9 1942.4 1102.6 1945.9 1098.1 1950.7C1093.7 1955.6 1088.7 1962.8 1085.9 1965.6C1083.2 1968.4 1083.6 1967.2 1081.7 1967.4C1079.7 1967.6 1076.9 1967.8 1074.3 1966.9C1071.7 1965.9 1068.1 1963.7 1065.9 1961.8C1063.7 1960 1062.1 1958.8 1061.1 1955.7C1060.1 1952.6 1059.7 1947.2 1060 1943.3C1060.2 1939.5 1061.1 1935.9 1062.6 1932.7C1064 1929.6 1066.5 1926.8 1068.6 1924.6C1070.8 1922.3 1073.5 1920.7 1075.6 1919.4C1077.7 1918 1080.3 1917.6 1081.3 1916.6C1082.3 1915.6 1081.1 1914.2 1081.8 1913.4C1082.5 1912.5 1084.3 1912.2 1085.4 1911.5C1086.4 1910.8 1084.7 1912.2 1088.1 1909.2C1091.6 1906.2 1101.3 1897.5 1106.2 1893.7C1111 1889.9 1113.9 1887.2 1117.4 1886.3Z" fill="#fff" stroke="#231f20" stroke-width="3" stroke-linejoin="round" stroke-linecap="round" />
<path d="M1112 1893.5C1113.5 1894.2 1118.4 1895.8 1121.1 1897.8C1123.8 1899.8 1126.4 1902.6 1128.2 1905.6C1129.9 1908.6 1131.2 1914.2 1131.8 1916" fill="none" stroke="#231f20" stroke-width="2.5" stroke-linejoin="round" stroke-linecap="round" />
<path d="M1095.3 1906.2C1096.9 1906.8 1102 1908 1105 1910.2C1108.1 1912.4 1111.6 1916.4 1113.7 1919.6C1115.8 1922.7 1117 1927.6 1117.6 1929.2" fill="none" stroke="#231f20" stroke-width="2.5" stroke-linejoin="round" stroke-linecap="round" />
<path d="M1091.9 1910.6C1093.4 1911.3 1098.1 1912.8 1101 1914.9C1103.8 1917 1107.2 1920.7 1109.2 1923.2C1111.1 1925.6 1112 1928.5 1112.5 1929.6" fill="none" stroke="#231f20" stroke-width="2.5" stroke-linejoin="round" stroke-linecap="round" />
<path d="M1071.9 1963.4C1071.8 1961.1 1070.7 1953.9 1071.3 1949.3C1072 1944.7 1073.7 1939.8 1076 1936C1078.2 1932.2 1081.7 1928.9 1084.9 1926.6C1088 1924.3 1091.7 1922.6 1094.8 1922C1098 1921.4 1101.2 1922 1103.7 1923.1C1106.2 1924.2 1108.9 1927.7 1109.9 1928.6" fill="none" stroke="#231f20" stroke-width="4" stroke-linejoin="round" stroke-linecap="round" />
<path d="M1078.6 1920.7L1086.3 1925.3" fill="none" stroke="#231f20" stroke-width="2.5" stroke-linejoin="round" stroke-linecap="round" />
<path d="M1071.9 1963.4C1073 1963.6 1076.2 1964.3 1078.6 1964.7C1080.9 1965.1 1084.7 1965.6 1085.9 1965.8" fill="none" stroke="#231f20" stroke-width="2.2" stroke-linejoin="round" stroke-linecap="round" />
<path d="M1099.6 1927.8C1101.1 1928.6 1107 1930.9 1108.7 1932.9C1110.3 1934.8 1110.7 1937.2 1109.5 1939.4C1108.3 1941.6 1102.8 1944.9 1101.5 1946" fill="none" stroke="#231f20" stroke-width="2.5" stroke-linejoin="round" stroke-linecap="round" />
<path d="M1093.8 1928L1094.4 1937.5" fill="none" stroke="#231f20" stroke-width="2.4" stroke-linejoin="round" stroke-linecap="round" />
<path d="M1096.7 1928.3L1097.9 1947.1" fill="none" stroke="#231f20" stroke-width="2.4" stroke-linejoin="round" stroke-linecap="round" />
<path d="M1099.6 1928.5L1100.9 1947.4" fill="none" stroke="#231f20" stroke-width="2.4" stroke-linejoin="round" stroke-linecap="round" />
<path d="M1077.9 1954.2C1078.1 1951.8 1078.9 1947.3 1080.2 1944.2C1081.4 1941.2 1083.6 1937.7 1085.5 1936C1087.3 1934.4 1089.8 1933.7 1091.2 1934.3C1092.6 1934.9 1093.6 1937.2 1093.8 1939.6C1093.9 1942 1093.2 1945.9 1092.2 1948.8C1091.1 1951.7 1089.3 1955.2 1087.6 1957.1C1085.9 1959 1083.4 1960 1081.9 1960.3C1080.4 1960.5 1079.2 1959.6 1078.5 1958.5C1077.8 1957.5 1077.6 1956.5 1077.9 1954.2Z" fill="#fff" stroke="#231f20" stroke-width="2.2" stroke-linejoin="round" stroke-linecap="round" />
<path d="M1081 1952.3C1081 1950.4 1082 1946.7 1083.1 1944.5C1084.2 1942.3 1086.2 1939.9 1087.5 1939.1C1088.9 1938.2 1090.6 1938.1 1091.2 1939.4C1091.8 1940.6 1091.6 1944.2 1090.9 1946.6C1090.3 1948.9 1088.6 1952 1087.3 1953.5C1086 1955 1084.1 1955.9 1083.1 1955.7C1082 1955.5 1081 1954.1 1081 1952.3Z" fill="#fff" stroke="#231f20" stroke-width="3.7" stroke-linejoin="round" stroke-linecap="round" />
<path d="M1645.9 1965.8C1650.1 1965.5 1652.9 1967.4 1655.6 1969.9C1658.3 1972.5 1661.1 1977.4 1662 1981.3C1663 1985.1 1662.2 1990.4 1661.5 1993C1660.8 1995.5 1659.7 1995.3 1657.7 1996.6C1655.7 1997.9 1655.9 1997.2 1649.4 2000.8C1642.9 2004.5 1627.4 2013.4 1618.6 2018.3C1609.8 2023.3 1603.5 2026.2 1596.5 2030.4C1589.5 2034.7 1580.7 2041.5 1576.5 2043.9C1572.2 2046.3 1573.2 2045.2 1571 2045C1568.7 2044.9 1565.6 2044.5 1563.1 2043C1560.6 2041.5 1557.6 2038.5 1556 2036.2C1554.4 2033.8 1553.1 2032.2 1553.4 2028.7C1553.6 2025.3 1555.6 2019.4 1557.5 2015.4C1559.4 2011.4 1562 2007.7 1565 2004.7C1568 2001.6 1571.9 1999.1 1575.3 1997.2C1578.6 1995.2 1582.4 1994 1585.3 1993C1588.2 1992 1591.2 1991.9 1592.8 1991.1C1594.3 1990.2 1593.6 1988.6 1594.7 1987.8C1595.9 1987 1598 1987 1599.5 1986.5C1600.9 1985.9 1598.4 1987 1603.6 1984.5C1608.7 1982 1623.2 1974.6 1630.3 1971.5C1637.3 1968.4 1641.7 1966 1645.9 1965.8Z" fill="#fff" stroke="#231f20" stroke-width="3" stroke-linejoin="round" stroke-linecap="round" />
<path d="M1636.8 1972.3C1638.2 1973.4 1642.9 1976 1645 1978.6C1647.1 1981.3 1648.8 1984.6 1649.4 1988.2C1650.1 1991.7 1649 1997.9 1648.9 1999.9" fill="none" stroke="#231f20" stroke-width="2.5" stroke-linejoin="round" stroke-linecap="round" />
<path d="M1612.8 1982.7C1614.3 1983.7 1619.4 1985.8 1621.8 1988.8C1624.2 1991.7 1626.4 1996.5 1627.3 2000.3C1628.2 2004 1627.4 2009.5 1627.4 2011.3" fill="none" stroke="#231f20" stroke-width="2.5" stroke-linejoin="round" stroke-linecap="round" />
<path d="M1607.1 1986.7C1608.5 1987.8 1613 1990.2 1615.2 1993C1617.5 1995.8 1619.7 2000.3 1620.7 2003.3C1621.8 2006.2 1621.5 2009.4 1621.6 2010.7" fill="none" stroke="#231f20" stroke-width="2.5" stroke-linejoin="round" stroke-linecap="round" />
<path d="M1561.9 2038.9C1562.8 2036.4 1564.7 2028.6 1567.5 2023.9C1570.2 2019.2 1574.3 2014.2 1578.4 2010.6C1582.5 2007 1587.9 2004.2 1592.3 2002.4C1596.8 2000.5 1601.6 1999.4 1605.4 1999.3C1609.1 1999.3 1612.4 2000.5 1614.7 2002.1C1617 2003.8 1618.4 2008 1619.1 2009.2" fill="none" stroke="#231f20" stroke-width="4" stroke-linejoin="round" stroke-linecap="round" />
<path d="M1588 1994.9L1594.5 2001.2" fill="none" stroke="#231f20" stroke-width="2.5" stroke-linejoin="round" stroke-linecap="round" />
<path d="M1561.9 2038.9C1563.1 2039.4 1566.3 2040.6 1568.7 2041.5C1571.2 2042.4 1575.2 2043.6 1576.4 2044.1" fill="none" stroke="#231f20" stroke-width="2.2" stroke-linejoin="round" stroke-linecap="round" />
<path d="M1608.1 2006.4C1609.4 2007.5 1615 2011.1 1616 2013.4C1617 2015.8 1616.3 2018.4 1614 2020.5C1611.7 2022.6 1604.2 2025.1 1602.3 2026" fill="none" stroke="#231f20" stroke-width="2.5" stroke-linejoin="round" stroke-linecap="round" />
<path d="M1601.5 2005.5L1598.1 2015.6" fill="none" stroke="#231f20" stroke-width="2.4" stroke-linejoin="round" stroke-linecap="round" />
<path d="M1604.7 2006.3L1597.8 2026.5" fill="none" stroke="#231f20" stroke-width="2.4" stroke-linejoin="round" stroke-linecap="round" />
<path d="M1607.8 2007.1L1601 2027.3" fill="none" stroke="#231f20" stroke-width="2.4" stroke-linejoin="round" stroke-linecap="round" />
<path d="M1572.6 2030.2C1573.9 2027.8 1576.7 2023.1 1579.4 2020.2C1582.2 2017.2 1586.1 2013.9 1588.9 2012.5C1591.7 2011.1 1594.7 2010.8 1596 2011.7C1597.3 2012.6 1597.4 2015.2 1596.5 2017.8C1595.6 2020.4 1593.1 2024.4 1590.7 2027.3C1588.3 2030.2 1584.7 2033.5 1582 2035.2C1579.3 2036.9 1576.2 2037.5 1574.4 2037.5C1572.6 2037.4 1571.7 2036.2 1571.4 2035C1571.1 2033.8 1571.2 2032.7 1572.6 2030.2Z" fill="#fff" stroke="#231f20" stroke-width="2.2" stroke-linejoin="round" stroke-linecap="round" />
<path d="M1576.9 2028.8C1577.7 2026.8 1580.4 2023.1 1582.6 2021C1584.7 2018.8 1588 2016.7 1589.8 2016.1C1591.7 2015.4 1593.7 2015.6 1593.8 2017.1C1593.8 2018.5 1592.1 2022.3 1590.3 2024.6C1588.6 2027 1585.5 2029.9 1583.4 2031.3C1581.2 2032.7 1578.8 2033.2 1577.7 2032.8C1576.6 2032.4 1576.1 2030.8 1576.9 2028.8Z" fill="#fff" stroke="#231f20" stroke-width="3.7" stroke-linejoin="round" stroke-linecap="round" />
<path d="M1229.3 938.4L1234.6 941.2A15 8.7 117.6 0 0 1248.5 914.6L1243.1 911.8A15 8.7 117.6 0 0 1229.3 938.4Z" fill="#fff" stroke="#231f20" stroke-width="2.4" stroke-linejoin="round"/>
<ellipse cx="1241.5" cy="927.9" rx="15" ry="8.7" transform="rotate(117.6 1241.5 927.9)" fill="#fff" stroke="#231f20" stroke-width="2.4" />
<path d="M1244.9 916.3A12 6.9 117.6 0 0 1231.2 935.4" fill="none" stroke="#231f20" stroke-width="1.4"/>
<path d="M1235 940.3L1247.4 946.8A14 8.1 117.6 0 0 1260.4 922L1248 915.5A14 8.1 117.6 0 0 1235 940.3Z" fill="#fff" stroke="#231f20" stroke-width="2.4" stroke-linejoin="round"/>
<ellipse cx="1253.9" cy="934.4" rx="14" ry="8.1" transform="rotate(117.6 1253.9 934.4)" fill="#fff" stroke="#231f20" stroke-width="2.4" />
<path d="M1247.4 946.8L1252.8 949.6A14 8.1 117.6 0 0 1265.7 924.7L1260.4 922A14 8.1 117.6 0 0 1247.4 946.8Z" fill="#231f20" stroke="#231f20" stroke-width="2.4" stroke-linejoin="round"/>
<ellipse cx="1259.2" cy="937.1" rx="14" ry="8.1" transform="rotate(117.6 1259.2 937.1)" fill="#fff" stroke="#231f20" stroke-width="2.4" />
<path d="M1251.2 950.4L1275.1 962.9A15.5 8.9 117.6 0 0 1289.5 935.5L1265.5 922.9A15.5 8.9 117.6 0 0 1251.2 950.4Z" fill="#fff" stroke="#231f20" stroke-width="2.4" stroke-linejoin="round"/>
<ellipse cx="1282.3" cy="949.2" rx="15.5" ry="8.9" transform="rotate(117.6 1282.3 949.2)" fill="#fff" stroke="#231f20" stroke-width="2.4" />
<ellipse cx="1282.3" cy="949.2" rx="9.2" ry="5.3" transform="rotate(117.6 1282.3 949.2)" fill="none" stroke="#231f20" stroke-width="2" />
<ellipse cx="1282.3" cy="949.2" rx="5.3" ry="3.1" transform="rotate(117.6 1282.3 949.2)" fill="none" stroke="#231f20" stroke-width="2" />
<path d="M1789.1 1387.3L1794.4 1390.1A15 8.7 117.6 0 0 1808.3 1363.5L1802.9 1360.7A15 8.7 117.6 0 0 1789.1 1387.3Z" fill="#fff" stroke="#231f20" stroke-width="2.4" stroke-linejoin="round"/>
<ellipse cx="1801.3" cy="1376.8" rx="15" ry="8.7" transform="rotate(117.6 1801.3 1376.8)" fill="#fff" stroke="#231f20" stroke-width="2.4" />
<path d="M1804.7 1365.1A12 6.9 117.6 0 0 1791 1384.3" fill="none" stroke="#231f20" stroke-width="1.4"/>
<path d="M1794.8 1389.2L1807.3 1395.7A14 8.1 117.6 0 0 1820.2 1370.8L1807.8 1364.4A14 8.1 117.6 0 0 1794.8 1389.2Z" fill="#fff" stroke="#231f20" stroke-width="2.4" stroke-linejoin="round"/>
<ellipse cx="1813.7" cy="1383.3" rx="14" ry="8.1" transform="rotate(117.6 1813.7 1383.3)" fill="#fff" stroke="#231f20" stroke-width="2.4" />
<path d="M1807.3 1395.7L1812.6 1398.4A14 8.1 117.6 0 0 1825.5 1373.6L1820.2 1370.8A14 8.1 117.6 0 0 1807.3 1395.7Z" fill="#231f20" stroke="#231f20" stroke-width="2.4" stroke-linejoin="round"/>
<ellipse cx="1819.1" cy="1386" rx="14" ry="8.1" transform="rotate(117.6 1819.1 1386)" fill="#fff" stroke="#231f20" stroke-width="2.4" />
<path d="M1811 1399.3L1834.8 1411.7A15.5 8.9 117.6 0 0 1849.2 1384.3L1825.3 1371.8A15.5 8.9 117.6 0 0 1811 1399.3Z" fill="#fff" stroke="#231f20" stroke-width="2.4" stroke-linejoin="round"/>
<ellipse cx="1842" cy="1398" rx="15.5" ry="8.9" transform="rotate(117.6 1842 1398)" fill="#fff" stroke="#231f20" stroke-width="2.4" />
<ellipse cx="1842" cy="1398" rx="9.2" ry="5.3" transform="rotate(117.6 1842 1398)" fill="none" stroke="#231f20" stroke-width="2" />
<ellipse cx="1842" cy="1398" rx="5.3" ry="3.1" transform="rotate(117.6 1842 1398)" fill="none" stroke="#231f20" stroke-width="2" />
<ellipse cx="1041.4" cy="941.7" rx="14.5" ry="10.9" transform="rotate(118.5 1041.4 941.7)" fill="#fff" stroke="#231f20" stroke-width="2.4" />
<ellipse cx="1044.5" cy="943.4" rx="11" ry="8.2" transform="rotate(118.5 1044.5 943.4)" fill="#fff" stroke="#231f20" stroke-width="1.8" />
<path d="M1041.4 950L1129.1 997.6A7.3 3.6 118.5 0 0 1136.1 984.8L1048.4 937.2A7.3 3.6 118.5 0 0 1041.4 950Z" fill="#231f20" stroke="#231f20" stroke-width="1.7" stroke-linejoin="round"/>
<ellipse cx="1132.6" cy="991.2" rx="7.3" ry="3.6" transform="rotate(118.5 1132.6 991.2)" fill="#231f20" stroke="#231f20" stroke-width="1.7" />
<ellipse cx="1132.2" cy="991" rx="4.2" ry="2.1" transform="rotate(118.5 1132.2 991)" fill="#fff" stroke="none" stroke-width="1" />
<path d="M1661.3 1525.3L1752.3 1578.8A7.3 3.6 120.5 0 0 1759.7 1566.2L1668.7 1512.7A7.3 3.6 120.5 0 0 1661.3 1525.3Z" fill="#231f20" stroke="#231f20" stroke-width="1.7" stroke-linejoin="round"/>
<ellipse cx="1756" cy="1572.5" rx="7.3" ry="3.6" transform="rotate(120.5 1756 1572.5)" fill="#231f20" stroke="#231f20" stroke-width="1.7" />
<path d="M1748.5 1581.2L1753.3 1584A11.3 8.1 120.5 0 0 1764.7 1564.5L1760 1561.7A11.3 8.1 120.5 0 0 1748.5 1581.2Z" fill="#fff" stroke="#231f20" stroke-width="2.4" stroke-linejoin="round"/>
<ellipse cx="1759" cy="1574.3" rx="11.3" ry="8.1" transform="rotate(120.5 1759 1574.3)" fill="#fff" stroke="#231f20" stroke-width="2.4" />
<ellipse cx="1759.9" cy="1574.8" rx="2.2" ry="1.6" transform="rotate(120.5 1759.9 1574.8)" fill="none" stroke="#231f20" stroke-width="1.4" />
<path d="M2053.2 1656.3L2143.2 1710.3A7.3 3.6 121 0 0 2150.8 1697.7L2060.8 1643.7A7.3 3.6 121 0 0 2053.2 1656.3Z" fill="#231f20" stroke="#231f20" stroke-width="1.7" stroke-linejoin="round"/>
<ellipse cx="2147" cy="1704" rx="7.3" ry="3.6" transform="rotate(121 2147 1704)" fill="#231f20" stroke="#231f20" stroke-width="1.7" />
<path d="M2139.5 1712.7L2144.2 1715.5A11.3 8.1 121 0 0 2155.8 1696.1L2151.1 1693.3A11.3 8.1 121 0 0 2139.5 1712.7Z" fill="#fff" stroke="#231f20" stroke-width="2.4" stroke-linejoin="round"/>
<ellipse cx="2150" cy="1705.8" rx="11.3" ry="8.1" transform="rotate(121 2150 1705.8)" fill="#fff" stroke="#231f20" stroke-width="2.4" />
<ellipse cx="2150.9" cy="1706.3" rx="2.2" ry="1.6" transform="rotate(121 2150.9 1706.3)" fill="none" stroke="#231f20" stroke-width="1.4" />
<ellipse cx="1241.4" cy="1056" rx="17" ry="21" transform="rotate(35 1241.4 1056)" fill="#fff" stroke="#231f20" stroke-width="3.7"/>
<path d="M1212.9 1043.7C1212.2 1040.4 1216.4 1035.4 1220.3 1032C1224.2 1028.6 1232 1024.4 1236.1 1023.5C1240.3 1022.6 1242.9 1024.6 1245.4 1026.8C1247.9 1029 1251.5 1033.7 1250.9 1036.7C1250.3 1039.8 1246.3 1042.6 1241.9 1045.2C1237.5 1047.7 1229.3 1052.2 1224.5 1052C1219.6 1051.7 1213.6 1047.1 1212.9 1043.7Z" fill="#fff" stroke="#231f20" stroke-width="3.1" stroke-linejoin="round" stroke-linecap="round" />
<path d="M1220.2 1035.3L1226.4 1046.9" stroke="#231f20" stroke-width="2.9" fill="none"/>
<path d="M1225.8 1031.1L1232.6 1043.2" stroke="#231f20" stroke-width="2.9" fill="none"/>
<path d="M1231.8 1027.7L1238.4 1039.3" stroke="#231f20" stroke-width="2.9" fill="none"/>
<path d="M1237.8 1025.5L1243.7 1036" stroke="#231f20" stroke-width="2.9" fill="none"/>
<ellipse cx="1241.4" cy="1056" rx="10.5" ry="13.5" transform="rotate(35 1241.4 1056)" fill="#fff" stroke="#231f20" stroke-width="3.3"/>
<path d="M1244.6 1010.4L1240.6 1004A27 16.2 -32.1 0 0 1194.9 1032.7L1198.9 1039.1A27 16.2 -32.1 0 0 1244.6 1010.4Z" fill="#fff" stroke="#231f20" stroke-width="3.1" stroke-linejoin="round"/>
<ellipse cx="1217.8" cy="1018.4" rx="27" ry="16.2" transform="rotate(-32.1 1217.8 1018.4)" fill="#fff" stroke="#231f20" stroke-width="3.1" />
<path d="M1190.9 1031.9A30 18 147.9 0 0 1241.7 1000Z" fill="#fff" stroke="#231f20" stroke-width="3.7" stroke-linejoin="round" stroke-linecap="round" />
<path d="M1187.8 1027.1A30 18 147.9 0 0 1238.6 995.2Z" fill="#fff" stroke="#231f20" stroke-width="3.7" stroke-linejoin="round" stroke-linecap="round" />
<path d="M1184.8 1022.2A30 18 147.9 0 0 1235.6 990.3Z" fill="#fff" stroke="#231f20" stroke-width="3.7" stroke-linejoin="round" stroke-linecap="round" />
<path d="M1181.7 1017.3A30 18 147.9 0 0 1232.5 985.4Z" fill="#fff" stroke="#231f20" stroke-width="3.7" stroke-linejoin="round" stroke-linecap="round" />
<path d="M1178.7 1012.5A30 18 147.9 0 0 1229.5 980.6Z" fill="#fff" stroke="#231f20" stroke-width="3.7" stroke-linejoin="round" stroke-linecap="round" />
<path d="M1175.6 1007.6A30 18 147.9 0 0 1226.4 975.7Z" fill="#fff" stroke="#231f20" stroke-width="3.7" stroke-linejoin="round" stroke-linecap="round" />
<path d="M1172.6 1002.7A30 18 147.9 0 0 1223.4 970.8Z" fill="#fff" stroke="#231f20" stroke-width="3.7" stroke-linejoin="round" stroke-linecap="round" />
<path d="M1169.5 997.9A30 18 147.9 0 0 1220.3 966Z" fill="#fff" stroke="#231f20" stroke-width="3.7" stroke-linejoin="round" stroke-linecap="round" />
<path d="M1166.5 993A30 18 147.9 0 0 1217.3 961.1Z" fill="#fff" stroke="#231f20" stroke-width="3.7" stroke-linejoin="round" stroke-linecap="round" />
<path d="M1163.4 988.1A30 18 147.9 0 0 1214.2 956.3Z" fill="#fff" stroke="#231f20" stroke-width="3.7" stroke-linejoin="round" stroke-linecap="round" />
<path d="M1149.1 967.2L1155.1 976.7A31 20.5 147.9 0 0 1207.6 943.8L1201.6 934.2A31 20.5 147.9 0 0 1149.1 967.2Z" fill="#fff" stroke="#231f20" stroke-width="2.6" stroke-linejoin="round"/>
<path d="M1115.9 904.8L1148.9 957.3A25.9 22 147.9 0 0 1192.8 929.8L1159.8 877.3Z" fill="#fff" stroke="#231f20" stroke-width="2.6" stroke-linejoin="round" stroke-linecap="round" />
<path d="M1088.1 846.2C1089.3 842.9 1090.3 838.9 1092.9 836.2C1095.5 833.4 1099.4 831.1 1103.5 829.7C1107.5 828.4 1112.9 827.5 1117.3 828C1121.7 828.4 1126 830.4 1129.9 832.5C1133.8 834.7 1137.9 838 1140.6 840.8C1143.3 843.5 1144.9 845.8 1146.2 849.1C1147.5 852.4 1148.8 856.6 1148.2 860.7C1147.6 864.9 1145.2 870.2 1142.4 874.1C1139.6 878 1135.8 881.7 1131.6 884.2C1127.5 886.8 1122.6 888.8 1117.7 889.4C1112.8 889.9 1106.9 889.4 1102.4 887.8C1097.9 886.2 1093.5 883.2 1090.8 879.6C1088 876 1086.8 870.1 1086 866.3C1085.1 862.4 1085.6 859.6 1085.9 856.2C1086.3 852.9 1087 849.6 1088.1 846.2Z" fill="#fff" stroke="#231f20" stroke-width="2.9" stroke-linejoin="round" stroke-linecap="round" />
<path d="M1088.6 872.1C1087 871.5 1088 876.9 1089.4 880.4C1090.8 883.9 1093.2 888.8 1097 892.9C1100.7 896.9 1107.4 902.5 1111.8 904.7C1116.3 907 1118.8 907.2 1123.7 906.3C1128.6 905.4 1136.2 902.6 1141.2 899.2C1146.2 895.7 1151 889.9 1153.8 885.7C1156.7 881.5 1157.7 877.6 1158.2 874C1158.6 870.4 1157.7 867.5 1156.6 864C1155.5 860.5 1153.4 856.2 1151.6 853.2C1149.9 850.2 1146.6 844.5 1146.4 845.7C1146.1 847 1151.5 855.8 1150.3 860.7C1149 865.6 1144.3 870.9 1138.9 875C1133.6 879.1 1124.5 883.7 1117.9 885.2C1111.3 886.6 1104 885.8 1099.1 883.7C1094.3 881.5 1090.2 872.6 1088.6 872.1Z" fill="#fff" stroke="#231f20" stroke-width="2.9" stroke-linejoin="round" stroke-linecap="round" />
<path d="M1119.4 889.3L1126.3 905.1" stroke="#231f20" stroke-width="2.4" fill="none"/>
<path d="M1129.8 885.9L1139.5 899.2" stroke="#231f20" stroke-width="2.4" fill="none"/>
<path d="M1142.1 880L1150.6 889.1" stroke="#231f20" stroke-width="2.4" fill="none"/>
<path d="M1102.4 887.8L1110.2 902.8" stroke="#231f20" stroke-width="2.4" fill="none"/>
<path d="M1124.6 887.6L1130.7 903.4" stroke="#231f20" stroke-width="2.4" fill="none"/>
<path d="M1090.2 884.6C1092.2 885.5 1097.4 889.2 1102.2 890.3C1107.1 891.4 1113 892.6 1119.3 891C1125.7 889.4 1134.5 884.9 1140.4 880.8C1146.3 876.7 1152.4 868.9 1154.8 866.5" fill="none" stroke="#231f20" stroke-width="2" stroke-linejoin="round" stroke-linecap="round" />
<circle cx="1144.9" cy="874.9" r="2" fill="#231f20"/>
<ellipse cx="1115.9" cy="856" rx="21.5" ry="20" transform="rotate(-35 1115.9 856)" fill="#fff" stroke="#231f20" stroke-width="3.7"/>
<ellipse cx="1115.9" cy="856" rx="16.5" ry="14.5" transform="rotate(-35 1115.9 856)" fill="#fff" stroke="#231f20" stroke-width="2"/>
<ellipse cx="1115.9" cy="856" rx="12.5" ry="10.5" transform="rotate(-35 1115.9 856)" fill="#fff" stroke="#231f20" stroke-width="3.3"/>
<path d="M1103.7 861.1C1104.5 860.8 1109 865 1112 865.2C1115 865.5 1119.2 864.5 1121.6 862.6C1123.9 860.8 1125.8 854 1126.3 854.2C1126.7 854.5 1125.9 861.8 1124.1 864.3C1122.2 866.8 1118.1 868.9 1115.2 869.4C1112.4 869.8 1108.7 868.3 1106.8 866.9C1104.9 865.5 1102.8 861.4 1103.7 861.1Z" fill="#231f20" stroke="#231f20" stroke-width="1" stroke-linejoin="round" stroke-linecap="round" />
<ellipse cx="2031.9" cy="1642" rx="17" ry="21" transform="rotate(35 2031.9 1642)" fill="#fff" stroke="#231f20" stroke-width="3.7"/>
<path d="M2002.3 1628.9C2001.4 1625.4 2005.5 1620.2 2009.2 1616.7C2013 1613.2 2020.7 1608.9 2024.9 1608C2029.1 1607.1 2031.9 1609.2 2034.5 1611.5C2037.1 1613.8 2041.1 1618.8 2040.6 1621.9C2040.2 1625.1 2036.3 1628.1 2031.9 1630.7C2027.5 1633.3 2019.4 1637.9 2014.5 1637.6C2009.5 1637.3 2003.1 1632.4 2002.3 1628.9Z" fill="#fff" stroke="#231f20" stroke-width="3.1" stroke-linejoin="round" stroke-linecap="round" />
<path d="M2009.2 1620.2L2016.2 1632.4" stroke="#231f20" stroke-width="2.9" fill="none"/>
<path d="M2014.8 1615.8L2022.3 1628.6" stroke="#231f20" stroke-width="2.9" fill="none"/>
<path d="M2020.7 1612.3L2028.1 1624.6" stroke="#231f20" stroke-width="2.9" fill="none"/>
<path d="M2026.7 1610.1L2033.3 1621.1" stroke="#231f20" stroke-width="2.9" fill="none"/>
<ellipse cx="2031.9" cy="1642" rx="10.5" ry="13.5" transform="rotate(35 2031.9 1642)" fill="#fff" stroke="#231f20" stroke-width="3.3"/>
<path d="M2033 1594.3L2028.6 1587.6A27 16.2 -33.2 0 0 1983.4 1617.2L1987.8 1623.9A27 16.2 -33.2 0 0 2033 1594.3Z" fill="#fff" stroke="#231f20" stroke-width="3.1" stroke-linejoin="round"/>
<ellipse cx="2006" cy="1602.4" rx="27" ry="16.2" transform="rotate(-33.2 2006 1602.4)" fill="#fff" stroke="#231f20" stroke-width="3.1" />
<path d="M1979.2 1616.4A30 18 146.8 0 0 2029.4 1583.5Z" fill="#fff" stroke="#231f20" stroke-width="3.7" stroke-linejoin="round" stroke-linecap="round" />
<path d="M1975.9 1611.3A30 18 146.8 0 0 2026.1 1578.4Z" fill="#fff" stroke="#231f20" stroke-width="3.7" stroke-linejoin="round" stroke-linecap="round" />
<path d="M1972.5 1606.1A30 18 146.8 0 0 2022.7 1573.3Z" fill="#fff" stroke="#231f20" stroke-width="3.7" stroke-linejoin="round" stroke-linecap="round" />
<path d="M1969.2 1601A30 18 146.8 0 0 2019.4 1568.2Z" fill="#fff" stroke="#231f20" stroke-width="3.7" stroke-linejoin="round" stroke-linecap="round" />
<path d="M1965.8 1595.9A30 18 146.8 0 0 2016 1563Z" fill="#fff" stroke="#231f20" stroke-width="3.7" stroke-linejoin="round" stroke-linecap="round" />
<path d="M1962.5 1590.8A30 18 146.8 0 0 2012.7 1557.9Z" fill="#fff" stroke="#231f20" stroke-width="3.7" stroke-linejoin="round" stroke-linecap="round" />
<path d="M1959.2 1585.7A30 18 146.8 0 0 2009.3 1552.8Z" fill="#fff" stroke="#231f20" stroke-width="3.7" stroke-linejoin="round" stroke-linecap="round" />
<path d="M1955.8 1580.6A30 18 146.8 0 0 2006 1547.7Z" fill="#fff" stroke="#231f20" stroke-width="3.7" stroke-linejoin="round" stroke-linecap="round" />
<path d="M1952.5 1575.5A30 18 146.8 0 0 2002.6 1542.6Z" fill="#fff" stroke="#231f20" stroke-width="3.7" stroke-linejoin="round" stroke-linecap="round" />
<path d="M1949.1 1570.4A30 18 146.8 0 0 1999.3 1537.5Z" fill="#fff" stroke="#231f20" stroke-width="3.7" stroke-linejoin="round" stroke-linecap="round" />
<path d="M1933.5 1548.3L1940.1 1558.4A31 20.5 146.8 0 0 1991.9 1524.4L1985.3 1514.4A31 20.5 146.8 0 0 1933.5 1548.3Z" fill="#fff" stroke="#231f20" stroke-width="2.6" stroke-linejoin="round"/>
<path d="M1896.6 1482.8L1932.8 1538A25.9 22 146.8 0 0 1976.1 1509.6L1940 1454.4Z" fill="#fff" stroke="#231f20" stroke-width="2.6" stroke-linejoin="round" stroke-linecap="round" />
<path d="M1865.4 1421.3C1866.4 1417.8 1867.3 1413.7 1869.8 1410.9C1872.3 1408 1876.2 1405.6 1880.3 1404.2C1884.3 1402.8 1889.7 1402 1894.2 1402.5C1898.7 1403 1903.2 1405.1 1907.3 1407.4C1911.4 1409.7 1915.7 1413.2 1918.6 1416.1C1921.5 1419 1923.3 1421.3 1924.7 1424.8C1926.2 1428.3 1927.8 1432.7 1927.3 1437C1926.9 1441.4 1924.7 1446.9 1922.1 1451C1919.5 1455.1 1915.7 1458.8 1911.6 1461.5C1907.6 1464.1 1902.6 1466.1 1897.7 1466.7C1892.7 1467.3 1886.6 1466.7 1882 1464.9C1877.3 1463.2 1872.7 1460 1869.8 1456.2C1866.8 1452.4 1865.2 1446.3 1864.2 1442.3C1863.2 1438.2 1863.5 1435.3 1863.7 1431.8C1863.9 1428.3 1864.4 1424.8 1865.4 1421.3Z" fill="#fff" stroke="#231f20" stroke-width="2.9" stroke-linejoin="round" stroke-linecap="round" />
<path d="M1867.2 1448.4C1865.5 1447.8 1866.8 1453.4 1868.4 1457.1C1870 1460.7 1872.7 1465.9 1876.8 1470.2C1880.8 1474.4 1887.8 1480.3 1892.4 1482.7C1897.1 1485.1 1899.7 1485.4 1904.6 1484.5C1909.6 1483.5 1917.1 1480.7 1922.1 1477.2C1927 1473.6 1931.6 1467.6 1934.3 1463.2C1937 1458.8 1937.8 1454.8 1938.1 1451C1938.4 1447.2 1937.3 1444.2 1936 1440.5C1934.8 1436.9 1932.4 1432.4 1930.5 1429.2C1928.6 1426 1924.9 1420 1924.7 1421.4C1924.5 1422.7 1930.4 1432 1929.4 1437C1928.4 1442.1 1923.9 1447.7 1918.6 1451.9C1913.3 1456.1 1904.4 1460.9 1897.7 1462.3C1891 1463.8 1883.6 1462.9 1878.5 1460.6C1873.4 1458.2 1868.9 1448.9 1867.2 1448.4Z" fill="#fff" stroke="#231f20" stroke-width="2.9" stroke-linejoin="round" stroke-linecap="round" />
<path d="M1899.4 1466.7L1907.3 1483.3" stroke="#231f20" stroke-width="2.4" fill="none"/>
<path d="M1909.9 1463.2L1920.3 1477.2" stroke="#231f20" stroke-width="2.4" fill="none"/>
<path d="M1922.1 1457.1L1931.2 1466.7" stroke="#231f20" stroke-width="2.4" fill="none"/>
<path d="M1882 1464.9L1890.7 1480.6" stroke="#231f20" stroke-width="2.4" fill="none"/>
<path d="M1904.7 1464.9L1911.6 1481.5" stroke="#231f20" stroke-width="2.4" fill="none"/>
<path d="M1869.4 1461.4C1871.5 1462.5 1877 1466.4 1882 1467.5C1887 1468.7 1893 1470 1899.4 1468.4C1905.8 1466.8 1914.5 1462.2 1920.3 1458C1926.2 1453.8 1932 1445.6 1934.3 1443.2" fill="none" stroke="#231f20" stroke-width="2" stroke-linejoin="round" stroke-linecap="round" />
<circle cx="1924.7" cy="1451.9" r="2" fill="#231f20"/>
<ellipse cx="1894.2" cy="1431.8" rx="21.5" ry="20" transform="rotate(-35 1894.2 1431.8)" fill="#fff" stroke="#231f20" stroke-width="3.7"/>
<ellipse cx="1894.2" cy="1431.8" rx="16.5" ry="14.5" transform="rotate(-35 1894.2 1431.8)" fill="#fff" stroke="#231f20" stroke-width="2"/>
<ellipse cx="1894.2" cy="1431.8" rx="12.5" ry="10.5" transform="rotate(-35 1894.2 1431.8)" fill="#fff" stroke="#231f20" stroke-width="3.3"/>
<path d="M1882 1437C1882.9 1436.7 1887.7 1441.1 1890.7 1441.4C1893.8 1441.7 1898 1440.7 1900.3 1438.8C1902.6 1436.9 1904.2 1429.8 1904.7 1430.1C1905.1 1430.4 1904.7 1437.9 1902.9 1440.5C1901.2 1443.1 1897.1 1445.3 1894.2 1445.8C1891.3 1446.2 1887.5 1444.6 1885.5 1443.1C1883.4 1441.7 1881.1 1437.3 1882 1437Z" fill="#231f20" stroke="#231f20" stroke-width="1" stroke-linejoin="round" stroke-linecap="round" />
<path d="M1612.9 1081.5L1571.4 1096.5A34 23.1 -109.9 0 0 1594.6 1160.5L1636.1 1145.5A34 23.1 -109.9 0 0 1612.9 1081.5Z" fill="#fff" stroke="#231f20" stroke-width="2.4" stroke-linejoin="round"/>
<ellipse cx="1583" cy="1128.5" rx="34" ry="23.1" transform="rotate(-109.9 1583 1128.5)" fill="#fff" stroke="#231f20" stroke-width="2.4" />
<ellipse cx="1583" cy="1128.5" rx="30.6" ry="20.8" transform="rotate(-109.9 1583 1128.5)" fill="none" stroke="#231f20" stroke-width="1.5" />
<ellipse cx="1583" cy="1128.5" rx="27.9" ry="19" transform="rotate(-109.9 1583 1128.5)" fill="none" stroke="#231f20" stroke-width="2.6" />
<ellipse cx="1615.6" cy="1087" rx="6" ry="3" transform="rotate(-20 1615.6 1087)" fill="#fff" stroke="#231f20" stroke-width="1.9"/>
<path d="M1499.9 1142.6L1460.4 1157.6A31.4 22 -110.8 0 0 1482.6 1216.4L1522.1 1201.4A31.4 22 -110.8 0 0 1499.9 1142.6Z" fill="#fff" stroke="#231f20" stroke-width="2.4" stroke-linejoin="round"/>
<ellipse cx="1471.5" cy="1187" rx="31.4" ry="22" transform="rotate(-110.8 1471.5 1187)" fill="#fff" stroke="#231f20" stroke-width="2.4" />
<ellipse cx="1471.5" cy="1187" rx="28.9" ry="20.2" transform="rotate(-110.8 1471.5 1187)" fill="#fff" stroke="#231f20" stroke-width="4.6" />
<ellipse cx="1471.5" cy="1187" rx="20.7" ry="14.5" transform="rotate(-110.8 1471.5 1187)" fill="#fff" stroke="#231f20" stroke-width="2.6" />
<ellipse cx="1471.5" cy="1187" rx="17.6" ry="12.3" transform="rotate(-110.8 1471.5 1187)" fill="none" stroke="#231f20" stroke-width="1.5" />
<circle cx="1468.5" cy="1167" r="2.6" fill="#fff" stroke="#231f20" stroke-width="2"/>
<ellipse cx="1507" cy="1154.7" rx="6" ry="3" transform="rotate(-20 1507 1154.7)" fill="#fff" stroke="#231f20" stroke-width="1.9"/>
<path d="M1441.7 1268.3L1464.7 1278.3A12 8.6 113.5 0 0 1474.3 1256.3L1451.3 1246.3A12 8.6 113.5 0 0 1441.7 1268.3Z" fill="#fff" stroke="#231f20" stroke-width="2.4" stroke-linejoin="round"/>
<ellipse cx="1469.5" cy="1267.3" rx="12" ry="8.6" transform="rotate(113.5 1469.5 1267.3)" fill="#fff" stroke="#231f20" stroke-width="2.4" />
<ellipse cx="1458.8" cy="1252.8" rx="4.6" ry="2.6" transform="rotate(15 1458.8 1252.8)" fill="#fff" stroke="#231f20" stroke-width="1.8"/>
<path d="M1461.8 1254.3L1466.8 1257.3" stroke="#231f20" stroke-width="1.7" fill="none"/>
<path d="M1387 1218.8C1387.7 1215.6 1390.7 1213.2 1393.3 1211.4C1395.9 1209.7 1399.6 1208.6 1402.8 1208.3C1405.9 1207.9 1409.2 1208.3 1412.2 1209.3C1415.2 1210.4 1418.3 1212.3 1420.6 1214.6C1422.8 1216.8 1424.7 1220 1425.8 1222.9C1426.9 1225.9 1427.7 1229.2 1427.4 1232.4C1427 1235.5 1425.5 1239 1423.7 1241.8C1421.9 1244.6 1418.8 1247.4 1416.4 1249.1C1413.9 1250.9 1411.3 1251.8 1409 1252.3C1406.8 1252.8 1405 1253.5 1402.8 1252.3C1400.5 1251.1 1397.7 1248.6 1395.4 1244.9C1393.2 1241.3 1390.5 1234.6 1389.1 1230.3C1387.7 1225.9 1386.3 1221.9 1387 1218.8Z" fill="#fff" stroke="#231f20" stroke-width="2.6" stroke-linejoin="round" stroke-linecap="round" />
<path d="M1399.6 1215.6C1400.8 1214.9 1404.5 1212.1 1406.9 1211.4C1409.4 1210.7 1413.1 1211.4 1414.3 1211.4" fill="none" stroke="#231f20" stroke-width="2.2" stroke-linejoin="round" stroke-linecap="round" />
<path d="M1395.4 1221.9C1396.6 1221 1400.3 1217.7 1402.8 1216.7C1405.2 1215.6 1408.9 1215.8 1410.1 1215.6" fill="none" stroke="#231f20" stroke-width="3.3" stroke-linejoin="round" stroke-linecap="round" />
<ellipse cx="1415.9" cy="1235.5" rx="7.3" ry="11.3" transform="rotate(28 1415.9 1235.5)" fill="#fff" stroke="#231f20" stroke-width="3.5"/>
<path d="M1412.2 1238.7C1412.3 1237.4 1414.5 1235.9 1414.8 1234.5C1415.2 1233.1 1413.8 1230.6 1414.3 1230.3C1414.7 1229.9 1417 1231.3 1417.4 1232.4C1417.9 1233.4 1417.4 1235 1416.9 1236.6C1416.4 1238.1 1415.1 1241.5 1414.3 1241.8C1413.5 1242.2 1412.1 1239.9 1412.2 1238.7Z" fill="#231f20" stroke="#231f20" stroke-width="1.3" stroke-linejoin="round" stroke-linecap="round" />
<path d="M1392.3 1221.4C1393.2 1222.3 1395.9 1224.6 1397.5 1227.1C1399.1 1229.7 1400.8 1233.3 1401.7 1236.6C1402.6 1239.9 1402.7 1244.3 1402.8 1247C1402.8 1249.8 1402.3 1252.3 1402.2 1253.3" fill="none" stroke="#231f20" stroke-width="2.4" stroke-linejoin="round" stroke-linecap="round" />
<path d="M1388.1 1224C1389.1 1225 1392.2 1227.8 1393.9 1230.3C1395.5 1232.7 1397.1 1235.7 1398 1238.7C1399 1241.6 1399.4 1245.3 1399.6 1248.1C1399.8 1250.9 1399.2 1254.2 1399.1 1255.4" fill="none" stroke="#231f20" stroke-width="2.4" stroke-linejoin="round" stroke-linecap="round" />
<path d="M1338.3 1240.2L1341 1237.1L1360.9 1227.7L1366.1 1221.4L1374.5 1219.3L1382.9 1221.9L1391.2 1232.4L1396.5 1244.9L1400.7 1249.1L1399.6 1261.2L1388.1 1269L1371.9 1277.9L1339.4 1260.1Z" fill="#fff" stroke="#231f20" stroke-width="2.6" stroke-linejoin="round" stroke-linecap="round" />
<path d="M1338.9 1239.5L1373.4 1254.9L1393.3 1244.4" fill="none" stroke="#231f20" stroke-width="2.4" stroke-linejoin="round" stroke-linecap="round" />
<path d="M1373.4 1254.9L1371.9 1277.9" fill="none" stroke="#231f20" stroke-width="2.4" stroke-linejoin="round" stroke-linecap="round" />
<path d="M1360.9 1227.7L1393.3 1244.4" fill="none" stroke="#231f20" stroke-width="2.2" stroke-linejoin="round" stroke-linecap="round" />
<path d="M1366.1 1225L1392.3 1240.2" fill="none" stroke="#231f20" stroke-width="3.1" stroke-linejoin="round" stroke-linecap="round" />
<path d="M1369.2 1221.9L1393.3 1236.6" fill="none" stroke="#231f20" stroke-width="1.8" stroke-linejoin="round" stroke-linecap="round" />
<path d="M1374.5 1219.3C1376.2 1220.2 1382 1222.5 1384.9 1225C1387.9 1227.6 1390.4 1231.2 1392.3 1234.5C1394.2 1237.8 1395.8 1243.2 1396.5 1244.9" fill="none" stroke="#231f20" stroke-width="2.2" stroke-linejoin="round" stroke-linecap="round" />
<ellipse cx="1356.1" cy="1257" rx="6.3" ry="8.9" transform="rotate(-15 1356.1 1257)" fill="#231f20" stroke="#231f20" stroke-width="1"/>
<path d="M1300.6 1255.8L1202.4 1310.7A30 18.6 -119.2 0 0 1231.7 1363L1329.9 1308.1A30 18.6 -119.2 0 0 1300.6 1255.8Z" fill="#fff" stroke="#231f20" stroke-width="2.4" stroke-linejoin="round"/>
<ellipse cx="1217.1" cy="1336.8" rx="30" ry="18.6" transform="rotate(-119.2 1217.1 1336.8)" fill="#fff" stroke="#231f20" stroke-width="2.4" />
<path d="M1271.4 1272.1A30 18.6 -119.2 0 0 1300.7 1324.5" fill="none" stroke="#231f20" stroke-width="2.2"/>
<path d="M1274 1270.6A30 18.6 -119.2 0 0 1303.3 1323" fill="none" stroke="#231f20" stroke-width="1.5"/>
<ellipse cx="1217.1" cy="1336.8" rx="26.6" ry="16.5" transform="rotate(-119.2 1217.1 1336.8)" fill="#fff" stroke="#231f20" stroke-width="2.6" />
<g>
<path d="M1234.2 1349.2L1223.1 1351.8" stroke="#231f20" stroke-width="1.7" fill="none"/>
<path d="M1234.5 1343.6L1221.2 1348.3" stroke="#231f20" stroke-width="1.7" fill="none"/>
<path d="M1233.7 1338.6L1219.2 1344.8" stroke="#231f20" stroke-width="1.7" fill="none"/>
<path d="M1232.1 1333.9L1217.3 1341.3" stroke="#231f20" stroke-width="1.7" fill="none"/>
<path d="M1230.1 1329.6L1215.3 1337.8" stroke="#231f20" stroke-width="1.7" fill="none"/>
<path d="M1227.4 1325.5L1213.4 1334.3" stroke="#231f20" stroke-width="1.7" fill="none"/>
<path d="M1224.3 1321.8L1211.4 1330.8" stroke="#231f20" stroke-width="1.7" fill="none"/>
<path d="M1220.4 1318.5L1209.5 1327.3" stroke="#231f20" stroke-width="1.7" fill="none"/>
<path d="M1215.5 1315.7L1207.5 1323.9" stroke="#231f20" stroke-width="1.7" fill="none"/>
</g>
<ellipse cx="1217.1" cy="1336.8" rx="26.6" ry="16.5" transform="rotate(-119.2 1217.1 1336.8)" fill="none" stroke="#231f20" stroke-width="2.6" />
<g transform="rotate(6 1477.5 1106)">
<path d="M1471.9 1086.6A5.6 5.6 0 0 1 1483.1 1086.6L1483.1 1126.4A5.6 5.6 0 0 1 1471.9 1126.4Z" fill="#fff" stroke="#231f20" stroke-width="2.2" stroke-linejoin="round" stroke-linecap="round" />
<ellipse cx="1477.5" cy="1085" rx="2.2" ry="1.2" fill="none" stroke="#231f20" stroke-width="1.3"/>
</g>
<g transform="rotate(5 1609.5 1230)">
<path d="M1604.3 1175L1604.3 1213L1614.7 1213L1614.7 1175Z" fill="#fff" stroke="#231f20" stroke-width="2.2" stroke-linejoin="round" stroke-linecap="round" />
<ellipse cx="1609.5" cy="1175" rx="5.2" ry="3" fill="#fff" stroke="#231f20" stroke-width="2.2"/>
<ellipse cx="1609.5" cy="1175" rx="2.2" ry="1.1" fill="none" stroke="#231f20" stroke-width="1.1"/>
<path d="M1604.3 1210C1602.3 1212 1599 1213 1599 1217L1599 1232A10.5 5 0 0 0 1620 1232L1620 1217C1620 1213 1616.7 1212 1614.7 1210Z" fill="#231f20" stroke="#231f20" stroke-width="1.3" stroke-linejoin="round" stroke-linecap="round" />
</g>
<path d="M1172.3 1353.6L1152.8 1370.6A7.2 4.3 -131.2 0 0 1162.3 1381.5L1181.7 1364.4A7.2 4.3 -131.2 0 0 1172.3 1353.6Z" fill="#231f20" stroke="#231f20" stroke-width="1.3" stroke-linejoin="round"/>
<ellipse cx="1157.5" cy="1376" rx="7.2" ry="4.3" transform="rotate(-131.2 1157.5 1376)" fill="#231f20" stroke="#231f20" stroke-width="1.3" />
<circle cx="1177" cy="1359" r="7" fill="#231f20"/>
<path d="M1153.5 1370L1144.1 1369.8A13.5 9.7 -131.2 0 0 1161.9 1390.2L1163 1380.8A7.2 5.2 -131.2 0 0 1153.5 1370Z" fill="#fff" stroke="#231f20" stroke-width="2.2" stroke-linejoin="round"/>
<ellipse cx="1153" cy="1380" rx="13.5" ry="9.7" transform="rotate(-131.2 1153 1380)" fill="#fff" stroke="#231f20" stroke-width="2.4" />
<path d="M1155.8 1383.2L1156.4 1379.9L1153.6 1376.7L1150.2 1376.8L1149.6 1380.1L1152.4 1383.3Z" fill="#fff" stroke="#231f20" stroke-width="1.7" stroke-linejoin="round" stroke-linecap="round" />
<ellipse cx="1268" cy="1465" rx="14" ry="10.5" transform="rotate(-128.4 1268 1465)" fill="#fff" stroke="#231f20" stroke-width="2.4" />
<path d="M1259.6 1454.4L1257.3 1464.3A7.2 5.2 -128.4 0 0 1266.2 1475.6L1276.4 1475.6A13.5 9.7 -128.4 0 0 1259.6 1454.4Z" fill="#fff" stroke="#231f20" stroke-width="2.2" stroke-linejoin="round"/>
<path d="M1258 1463.7L1239.5 1478.4A7.2 4.3 -128.4 0 0 1248.5 1489.6L1267 1475A7.2 4.3 -128.4 0 0 1258 1463.7Z" fill="#231f20" stroke="#231f20" stroke-width="1.3" stroke-linejoin="round"/>
<ellipse cx="1244" cy="1484" rx="7.2" ry="4.3" transform="rotate(-128.4 1244 1484)" fill="#231f20" stroke="#231f20" stroke-width="1.3" />
<ellipse cx="1244" cy="1484" rx="3" ry="4.2" transform="rotate(30 1244 1484)" fill="#fff"/>
<path d="M1188.1 1483.6L1095.1 1528.9A33.5 20.8 -116 0 0 1124.5 1589.2L1217.5 1543.8A33.5 20.8 -116 0 0 1188.1 1483.6Z" fill="#fff" stroke="#231f20" stroke-width="2.4" stroke-linejoin="round"/>
<ellipse cx="1109.8" cy="1559" rx="33.5" ry="20.8" transform="rotate(-116 1109.8 1559)" fill="#fff" stroke="#231f20" stroke-width="2.4" />
<path d="M1125.7 1514A33.5 20.8 -116 0 0 1155.1 1574.2" fill="none" stroke="#231f20" stroke-width="2.2"/>
<path d="M1128.4 1512.7A33.5 20.8 -116 0 0 1157.8 1572.9" fill="none" stroke="#231f20" stroke-width="1.5"/>
<ellipse cx="1109.8" cy="1559" rx="30.1" ry="18.7" transform="rotate(-116 1109.8 1559)" fill="#fff" stroke="#231f20" stroke-width="2.6" />
<g>
<path d="M1128.7 1574.3L1116.3 1576.8" stroke="#231f20" stroke-width="1.7" fill="none"/>
<path d="M1129.3 1567.9L1114.2 1572.6" stroke="#231f20" stroke-width="1.7" fill="none"/>
<path d="M1128.7 1562.1L1112.1 1568.4" stroke="#231f20" stroke-width="1.7" fill="none"/>
<path d="M1127.2 1556.7L1110.1 1564.1" stroke="#231f20" stroke-width="1.7" fill="none"/>
<path d="M1125.1 1551.6L1108 1559.9" stroke="#231f20" stroke-width="1.7" fill="none"/>
<path d="M1122.4 1546.8L1106 1555.7" stroke="#231f20" stroke-width="1.7" fill="none"/>
<path d="M1119 1542.3L1103.9 1551.5" stroke="#231f20" stroke-width="1.7" fill="none"/>
<path d="M1114.8 1538.2L1101.8 1547.3" stroke="#231f20" stroke-width="1.7" fill="none"/>
<path d="M1109.4 1534.8L1099.8 1543" stroke="#231f20" stroke-width="1.7" fill="none"/>
</g>
<ellipse cx="1109.8" cy="1559" rx="30.1" ry="18.7" transform="rotate(-116 1109.8 1559)" fill="none" stroke="#231f20" stroke-width="2.6" />
<path d="M1013.1 1585.3L1029.6 1577.7L1062.5 1596.6L1063.1 1613.7L1058.8 1617.4L1036.9 1629.2L1021 1621Z" fill="#fff" stroke="#231f20" stroke-width="2.9" stroke-linejoin="round" stroke-linecap="round" />
<path d="M1019.8 1585.9L1025.9 1588.4L1035 1597.8L1040.5 1608.2L1061.9 1596.9" fill="none" stroke="#231f20" stroke-width="2.6" stroke-linejoin="round" stroke-linecap="round" />
<path d="M1000.3 1594.2C1000.7 1590.9 1002.9 1590.5 1005.1 1589.3C1007.4 1588.1 1011 1586.8 1013.7 1586.8C1016.3 1586.8 1018.5 1587.5 1021 1589.3C1023.6 1591.1 1026.6 1594.6 1028.9 1597.8C1031.3 1601.1 1033.7 1604.9 1035 1608.8C1036.4 1612.7 1037 1617.5 1037 1621C1037 1624.6 1036.4 1627.8 1035 1630.2C1033.7 1632.5 1031.2 1634.1 1028.9 1635C1026.7 1636 1023.8 1636 1021.6 1635.7C1019.5 1635.4 1019.3 1637.7 1016.1 1633.2C1013 1628.7 1005.4 1615.3 1002.7 1608.8C1000.1 1602.3 999.9 1597.4 1000.3 1594.2Z" fill="#fff" stroke="#231f20" stroke-width="2.9" stroke-linejoin="round" stroke-linecap="round" />
<path d="M1015.2 1588.7C1016.3 1589.2 1019.4 1589.8 1021.6 1591.7C1023.8 1593.7 1026.4 1597.2 1028.3 1600.3C1030.3 1603.3 1032.1 1606.6 1033.2 1610C1034.3 1613.5 1034.7 1617.9 1034.7 1621C1034.7 1624.2 1033.5 1627.6 1033.2 1628.9" fill="none" stroke="#231f20" stroke-width="2" stroke-linejoin="round" stroke-linecap="round" />
<path d="M1004.5 1599C1003.5 1595.7 1007.1 1595.6 1008.8 1594.8C1010.5 1594 1012.9 1593.5 1014.9 1594.2C1016.9 1594.9 1019 1596.8 1021 1599C1023 1601.3 1025.4 1604.4 1027.1 1607.6C1028.8 1610.7 1030.6 1615.1 1031.4 1618C1032.2 1620.8 1032.5 1622.8 1032 1624.7C1031.5 1626.5 1029.8 1628 1028.3 1628.9C1026.9 1629.9 1024.8 1630.5 1023.5 1630.2C1022.1 1629.9 1021.8 1629.7 1020.4 1627.1C1019 1624.6 1017.6 1619.6 1014.9 1614.9C1012.3 1610.2 1005.6 1602.4 1004.5 1599Z" fill="#fff" stroke="#231f20" stroke-width="2.6" stroke-linejoin="round" stroke-linecap="round" />
<circle cx="996" cy="1625" r="21.6" fill="#fff" stroke="#231f20" stroke-width="3.1"/>
<path d="M980.7 1621.6C980.1 1620.3 980.4 1618.5 981.4 1616.7C982.3 1615 984.1 1612.7 986.2 1611.3C988.4 1609.8 991.9 1608.7 994.2 1608.2C996.4 1607.7 999.7 1607.3 999.7 1608.2C999.7 1609.1 995.9 1611.5 994.2 1613.7C992.4 1615.9 990.8 1619.8 989.3 1621.6C987.8 1623.5 986.4 1624.7 985 1624.7C983.6 1624.7 981.4 1622.9 980.7 1621.6Z" fill="#231f20" stroke="#231f20" stroke-width="2.4" stroke-linejoin="round" stroke-linecap="round" />
<path d="M983.8 1620.4C984.3 1619.5 985.3 1616.4 986.8 1614.9C988.4 1613.4 991.9 1611.9 992.9 1611.3" fill="none" stroke="#fff" stroke-width="2.2" stroke-linejoin="round" stroke-linecap="round" />
<ellipse cx="1005.8" cy="1631.1" rx="7" ry="12.2" transform="rotate(32 1005.8 1631.1)" fill="#fff" stroke="#231f20" stroke-width="3.5"/>
<path d="M999.7 1629.6C1000.1 1627.3 1001.4 1625.9 1002.7 1624.7C1004 1623.5 1006.9 1621.6 1007.6 1622.2C1008.3 1622.8 1007.8 1626.3 1007 1628.3C1006.2 1630.4 1003.8 1632.8 1002.7 1634.4C1001.6 1636.1 1000.8 1638.9 1000.3 1638.1C999.8 1637.3 999.3 1631.8 999.7 1629.6Z" fill="#231f20" stroke="#231f20" stroke-width="1" stroke-linejoin="round" stroke-linecap="round" />
<path d="M977.7 1626.2C978.6 1626.4 981.7 1625.9 983.2 1627.1C984.7 1628.3 986.4 1631.3 986.8 1633.2C987.3 1635.1 985.8 1637.8 985.6 1638.7" fill="none" stroke="#231f20" stroke-width="2.6" stroke-linejoin="round" stroke-linecap="round" />
<path d="M999 1608.8C1000.3 1608.5 1004.1 1606.7 1006.4 1607C1008.6 1607.3 1010.7 1608.7 1012.5 1610.6C1014.2 1612.6 1015.8 1616 1016.7 1618.6C1017.7 1621.1 1017.8 1624.7 1018 1625.9" fill="none" stroke="#231f20" stroke-width="3.7" stroke-linejoin="round" stroke-linecap="round" />
<path d="M1050.4 1668.4L1073 1682A12 8.6 121 0 0 1085.4 1661.5L1062.7 1647.9A12 8.6 121 0 0 1050.4 1668.4Z" fill="#fff" stroke="#231f20" stroke-width="2.4" stroke-linejoin="round"/>
<ellipse cx="1079.2" cy="1671.7" rx="12" ry="8.6" transform="rotate(121 1079.2 1671.7)" fill="#fff" stroke="#231f20" stroke-width="2.4" />
<ellipse cx="1068.7" cy="1655.3" rx="4.6" ry="2.6" transform="rotate(15 1068.7 1655.3)" fill="#fff" stroke="#231f20" stroke-width="1.8"/>
<path d="M1071.7 1656.8L1076.7 1659.8" stroke="#231f20" stroke-width="1.7" fill="none"/>
<path d="M923.1 1632.6L916.9 1635.7A31.9 21.1 -116.6 0 0 945.4 1692.8L951.7 1689.7A31.9 21.1 -116.6 0 0 923.1 1632.6Z" fill="#fff" stroke="#231f20" stroke-width="2.6" stroke-linejoin="round"/>
<ellipse cx="931.2" cy="1664.3" rx="31.9" ry="21.1" transform="rotate(-116.6 931.2 1664.3)" fill="#fff" stroke="#231f20" stroke-width="2.6" />
<path d="M916.8 1636.2A31.9 21.1 -116.6 0 0 945 1692.6" fill="none" stroke="#231f20" stroke-width="1.4"/>
<path d="M920.2 1637.9L872.6 1661.7A28.5 18.8 -116.6 0 0 898.1 1712.7L945.7 1688.8A28.5 18.8 -116.6 0 0 920.2 1637.9Z" fill="#fff" stroke="#231f20" stroke-width="2.4" stroke-linejoin="round"/>
<ellipse cx="885.3" cy="1687.2" rx="28.5" ry="18.8" transform="rotate(-116.6 885.3 1687.2)" fill="#fff" stroke="#231f20" stroke-width="2.4" />
<ellipse cx="885.3" cy="1687.2" rx="26" ry="17.2" transform="rotate(-116.6 885.3 1687.2)" fill="#fff" stroke="#231f20" stroke-width="4.6" />
<ellipse cx="885.3" cy="1687.2" rx="18.8" ry="12.4" transform="rotate(-116.6 885.3 1687.2)" fill="#fff" stroke="#231f20" stroke-width="2.6" />
<ellipse cx="885.3" cy="1687.2" rx="16" ry="10.5" transform="rotate(-116.6 885.3 1687.2)" fill="none" stroke="#231f20" stroke-width="1.5" />
<circle cx="880.6" cy="1669.5" r="2.6" fill="#fff" stroke="#231f20" stroke-width="2"/>
<ellipse cx="896.7" cy="1659.5" rx="6" ry="3" transform="rotate(-20 896.7 1659.5)" fill="#fff" stroke="#231f20" stroke-width="1.9"/>
<path d="M807.8 1694.2L762.7 1718A34.4 22 -117.8 0 0 794.8 1778.8L839.9 1755A34.4 22 -117.8 0 0 807.8 1694.2Z" fill="#fff" stroke="#231f20" stroke-width="2.4" stroke-linejoin="round"/>
<ellipse cx="778.8" cy="1748.4" rx="34.4" ry="22" transform="rotate(-117.8 778.8 1748.4)" fill="#fff" stroke="#231f20" stroke-width="2.4" />
<ellipse cx="778.8" cy="1748.4" rx="24.8" ry="15.9" transform="rotate(-117.8 778.8 1748.4)" fill="none" stroke="#231f20" stroke-width="1.5" />
<ellipse cx="778.8" cy="1748.4" rx="20.6" ry="13.2" transform="rotate(-117.8 778.8 1748.4)" fill="none" stroke="#231f20" stroke-width="2.6" />
<ellipse cx="783.3" cy="1713.7" rx="6" ry="3" transform="rotate(-20 783.3 1713.7)" fill="#fff" stroke="#231f20" stroke-width="1.9"/>
<g transform="rotate(3 924.5 1583)">
<path d="M918.9 1563.6A5.6 5.6 0 0 1 930.1 1563.6L930.1 1603.4A5.6 5.6 0 0 1 918.9 1603.4Z" fill="#fff" stroke="#231f20" stroke-width="2.2" stroke-linejoin="round" stroke-linecap="round" />
<ellipse cx="924.5" cy="1562" rx="2.2" ry="1.2" fill="none" stroke="#231f20" stroke-width="1.3"/>
</g>
<g transform="rotate(4 788.5 1855)">
<path d="M783.3 1805L783.3 1837L793.7 1837L793.7 1805Z" fill="#fff" stroke="#231f20" stroke-width="2.2" stroke-linejoin="round" stroke-linecap="round" />
<ellipse cx="788.5" cy="1805" rx="5.2" ry="3" fill="#fff" stroke="#231f20" stroke-width="2.2"/>
<ellipse cx="788.5" cy="1805" rx="2.2" ry="1.1" fill="none" stroke="#231f20" stroke-width="1.1"/>
<path d="M783.3 1834C781.3 1836 778 1837 778 1841L778 1856A10.5 5 0 0 0 799 1856L799 1841C799 1837 795.7 1836 793.7 1834Z" fill="#231f20" stroke="#231f20" stroke-width="1.3" stroke-linejoin="round" stroke-linecap="round" />
</g>
<path d="M1090.1 1384.6L1034.6 1416.3A20 12.4 -119.8 0 0 1054.5 1451.1L1109.9 1419.4A20 12.4 -119.8 0 0 1090.1 1384.6Z" fill="#fff" stroke="#231f20" stroke-width="2.4" stroke-linejoin="round"/>
<ellipse cx="1044.6" cy="1433.7" rx="20" ry="12.4" transform="rotate(-119.8 1044.6 1433.7)" fill="#fff" stroke="#231f20" stroke-width="2.4" />
<path d="M1104.3 1415.6L1054.2 1444.4" stroke="#231f20" stroke-width="1.8" fill="none"/>
<path d="M1100.9 1409.6L1050.7 1438.3" stroke="#231f20" stroke-width="1.8" fill="none"/>
<path d="M1097.4 1403.5L1047.2 1432.2" stroke="#231f20" stroke-width="1.8" fill="none"/>
<path d="M1093.9 1397.4L1043.7 1426.1" stroke="#231f20" stroke-width="1.8" fill="none"/>
<path d="M1090.4 1391.3L1040.2 1420" stroke="#231f20" stroke-width="1.8" fill="none"/>
<path d="M1031.7 1411.1L1025.6 1414.6A26 16.1 -119.8 0 0 1051.4 1459.8L1057.5 1456.3A26 16.1 -119.8 0 0 1031.7 1411.1Z" fill="#fff" stroke="#231f20" stroke-width="2.6" stroke-linejoin="round"/>
<ellipse cx="1038.5" cy="1437.2" rx="26" ry="16.1" transform="rotate(-119.8 1038.5 1437.2)" fill="#fff" stroke="#231f20" stroke-width="2.6" />
<path d="M1027.7 1413.5A26 16.1 -119.8 0 0 1053.4 1458.5" fill="none" stroke="#231f20" stroke-width="1.4"/>
<path d="M1028.1 1419L957.6 1459.3A21 13 -119.8 0 0 978.4 1495.7L1048.9 1455.4A21 13 -119.8 0 0 1028.1 1419Z" fill="#fff" stroke="#231f20" stroke-width="2.4" stroke-linejoin="round"/>
<path d="M1045.6 1453.7L978.6 1492" stroke="#231f20" stroke-width="1.9" fill="none"/>
<path d="M1043 1449.1L976 1487.4" stroke="#231f20" stroke-width="1.9" fill="none"/>
<path d="M1039.9 1443.6L972.9 1482" stroke="#231f20" stroke-width="1.9" fill="none"/>
<path d="M1036.7 1438.2L969.7 1476.5" stroke="#231f20" stroke-width="1.9" fill="none"/>
<path d="M1033.6 1432.7L966.6 1471" stroke="#231f20" stroke-width="1.9" fill="none"/>
<path d="M1030.5 1427.2L963.5 1465.6" stroke="#231f20" stroke-width="1.9" fill="none"/>
<path d="M1027.9 1422.7L960.9 1461" stroke="#231f20" stroke-width="1.9" fill="none"/>
<path d="M956.8 1458C955.8 1458.5 958.5 1464.6 957.6 1466.1C956.7 1467.6 951.8 1465.5 951.7 1467C951.5 1468.4 956.2 1472.5 956.6 1474.8C957 1477.1 953.4 1479.3 954.1 1480.9C954.9 1482.6 959.4 1482.7 960.9 1484.8C962.4 1486.8 961.8 1492.2 963.1 1493.3C964.4 1494.4 966.7 1490.5 968.6 1491.3C970.4 1492.1 973.1 1498.2 974.4 1498.2C975.6 1498.2 974.6 1492.2 975.9 1491.4C977.3 1490.6 982 1494.6 982.6 1493.5C983.3 1492.4 979.4 1487 979.6 1485C979.9 1482.9 984.4 1482.9 984.1 1481.3C983.8 1479.6 978.9 1477.4 977.9 1475.1C976.8 1472.7 979 1468.7 978 1467.3C976.9 1465.8 973.3 1467.8 971.5 1466.3C969.7 1464.8 968.6 1458.7 967.2 1458.1C965.9 1457.5 965.2 1462.8 963.5 1462.8C961.7 1462.7 957.8 1457.4 956.8 1458Z" fill="#fff" stroke="#231f20" stroke-width="2.6" stroke-linejoin="round" stroke-linecap="round" />
<ellipse cx="968" cy="1477.5" rx="8.5" ry="5.3" transform="rotate(-119.8 968 1477.5)" fill="#fff" stroke="#231f20" stroke-width="2.4" />
<ellipse cx="968" cy="1477.5" rx="5" ry="3.1" transform="rotate(-119.8 968 1477.5)" fill="#fff" stroke="#231f20" stroke-width="2" />
<path d="M577 270L694.3 307" fill="none" stroke="#231f20" stroke-width="2.2" stroke-linejoin="round"/>
<path d="M710 312L685.1 312.8L691.6 306.2L690.1 297Z" fill="#231f20"/>
<path d="M909.6 301.5L909.6 331.5L779.5 378.4" fill="none" stroke="#231f20" stroke-width="2.2" stroke-linejoin="round"/>
<path d="M764 384L783.3 368.2L782.1 377.5L788.9 383.8Z" fill="#231f20"/>
<path d="M568 344L597.6 346.6" fill="none" stroke="#231f20" stroke-width="2.2" stroke-linejoin="round"/>
<path d="M614 348L589.9 354.2L594.8 346.3L591.3 337.7Z" fill="#231f20"/>
<path d="M545 476L687.6 480.5" fill="none" stroke="#231f20" stroke-width="2.2" stroke-linejoin="round"/>
<path d="M704 481L680.3 488.6L684.7 480.4L680.8 472Z" fill="#231f20"/>
<path d="M755 584L784.9 492.6" fill="none" stroke="#231f20" stroke-width="2.2" stroke-linejoin="round"/>
<path d="M790 477L790.6 501.9L784 495.3L774.8 496.8Z" fill="#231f20"/>
<path d="M1070 486L1052 558" fill="none" stroke="#231f20" stroke-width="2.2" stroke-linejoin="round"/>
<path d="M1048 574L1045.6 549.2L1052.7 555.3L1061.8 553.2Z" fill="#231f20"/>
<path d="M713 721L728.6 766.4" fill="none" stroke="#231f20" stroke-width="2.2" stroke-linejoin="round"/>
<path d="M734 782L718.5 762.5L727.7 763.8L734.2 757.1Z" fill="#231f20"/>
<path d="M1173.5 783L1221 783L1247.2 894.5" fill="none" stroke="#231f20" stroke-width="2.2" stroke-linejoin="round"/>
<path d="M1251 910.5L1237.5 889.5L1246.6 891.7L1253.7 885.7Z" fill="#231f20"/>
<path d="M1399.5 615L1403.9 739.6" fill="none" stroke="#231f20" stroke-width="2.2" stroke-linejoin="round"/>
<path d="M1404.5 756L1395.4 732.8L1403.8 736.7L1412 732.2Z" fill="#231f20"/>
<path d="M1606 703.5L1631 703.5L1622.3 870.6" fill="none" stroke="#231f20" stroke-width="2.2" stroke-linejoin="round"/>
<path d="M1621.4 887L1614.3 863.1L1622.4 867.8L1630.9 864Z" fill="#231f20"/>
<path d="M1709.5 710L1670.9 793.6" fill="none" stroke="#231f20" stroke-width="2.2" stroke-linejoin="round"/>
<path d="M1664 808.5L1666.3 783.7L1672.1 791L1681.4 790.6Z" fill="#231f20"/>
<path d="M1771 735L1736 735L1732.9 860.6" fill="none" stroke="#231f20" stroke-width="2.2" stroke-linejoin="round"/>
<path d="M1732.5 877L1724.8 853.3L1733 857.7L1741.4 853.7Z" fill="#231f20"/>
<path d="M1849.5 781.5L1810.5 781.5L1787.4 911.8" fill="none" stroke="#231f20" stroke-width="2.2" stroke-linejoin="round"/>
<path d="M1784.5 928L1780.4 903.4L1787.9 909L1796.8 906.3Z" fill="#231f20"/>
<path d="M1987 654L2046.7 874.6" fill="none" stroke="#231f20" stroke-width="2.2" stroke-linejoin="round"/>
<path d="M2051 890.5L2036.8 870L2046 871.9L2052.9 865.6Z" fill="#231f20"/>
<path d="M2142 607.5L2127.6 696.3" fill="none" stroke="#231f20" stroke-width="2.2" stroke-linejoin="round"/>
<path d="M2125 712.5L2120.6 688L2128.1 693.5L2136.9 690.6Z" fill="#231f20"/>
<path d="M2274.5 550L2230.4 758.9" fill="none" stroke="#231f20" stroke-width="2.2" stroke-linejoin="round"/>
<path d="M2227 775L2223.7 750.3L2231 756.1L2240 753.7Z" fill="#231f20"/>
<path d="M2567 696L2503.4 698" fill="none" stroke="#231f20" stroke-width="2.2" stroke-linejoin="round"/>
<path d="M2487 698.5L2510.2 689.5L2506.3 697.9L2510.7 706.1Z" fill="#231f20"/>
<path d="M1007.5 841.5L1066.1 846.6" fill="none" stroke="#231f20" stroke-width="2.2" stroke-linejoin="round"/>
<path d="M1082.5 848L1058.4 854.2L1063.3 846.3L1059.8 837.7Z" fill="#231f20"/>
<path d="M807.5 905.5L809.3 864.4" fill="none" stroke="#231f20" stroke-width="2.2" stroke-linejoin="round"/>
<path d="M810 848L817.3 871.8L809.2 867.3L800.7 871.1Z" fill="#231f20"/>
<path d="M942.5 993L1012.6 960" fill="none" stroke="#231f20" stroke-width="2.2" stroke-linejoin="round"/>
<path d="M1027.5 953L1009.8 970.5L1010.1 961.2L1002.7 955.5Z" fill="#231f20"/>
<path d="M202.5 1035.5L200.4 1134.1" fill="none" stroke="#231f20" stroke-width="2.2" stroke-linejoin="round"/>
<path d="M200 1150.5L192.2 1126.8L200.4 1131.2L208.8 1127.2Z" fill="#231f20"/>
<path d="M482.5 1073L413.6 1058.8" fill="none" stroke="#231f20" stroke-width="2.2" stroke-linejoin="round"/>
<path d="M397.5 1055.5L422.2 1052.1L416.4 1059.4L418.8 1068.4Z" fill="#231f20"/>
<path d="M935 1117L967 1155.4" fill="none" stroke="#231f20" stroke-width="2.2" stroke-linejoin="round"/>
<path d="M977.5 1168L956.1 1155.3L965.2 1153.2L968.8 1144.6Z" fill="#231f20"/>
<path d="M1131 1098L1128.9 1174.1" fill="none" stroke="#231f20" stroke-width="2.2" stroke-linejoin="round"/>
<path d="M1128.5 1190.5L1120.8 1166.8L1129 1171.2L1137.4 1167.2Z" fill="#231f20"/>
<path d="M1131 1145.5L1267.9 1100.6" fill="none" stroke="#231f20" stroke-width="2.2" stroke-linejoin="round"/>
<path d="M1283.5 1095.5L1263.8 1110.7L1265.2 1101.5L1258.6 1094.9Z" fill="#231f20"/>
<path d="M659 1261.5L642.6 1312.3" fill="none" stroke="#231f20" stroke-width="2.2" stroke-linejoin="round"/>
<path d="M637.5 1328L636.8 1303.1L643.4 1309.7L652.6 1308.2Z" fill="#231f20"/>
<path d="M1115 1294.5L1180 1309.3" fill="none" stroke="#231f20" stroke-width="2.2" stroke-linejoin="round"/>
<path d="M1196 1313L1171.2 1315.9L1177.2 1308.7L1174.9 1299.7Z" fill="#231f20"/>
<path d="M243.5 1348L230.5 1276.7" fill="none" stroke="#231f20" stroke-width="2.2" stroke-linejoin="round"/>
<path d="M227.5 1260.5L239.9 1282.1L231 1279.5L223.6 1285.1Z" fill="#231f20"/>
<path d="M865 1450.5L941.1 1453.4" fill="none" stroke="#231f20" stroke-width="2.2" stroke-linejoin="round"/>
<path d="M957.5 1454L933.7 1461.4L938.2 1453.3L934.3 1444.8Z" fill="#231f20"/>
<path d="M1890 847L1911.2 890.2" fill="none" stroke="#231f20" stroke-width="2.2" stroke-linejoin="round"/>
<path d="M1918.5 905L1900.7 887.6L1910 887.7L1915.6 880.2Z" fill="#231f20"/>
<path d="M1500 976.5L1533.5 976.5L1648 1046.9" fill="none" stroke="#231f20" stroke-width="2.2" stroke-linejoin="round"/>
<path d="M1662 1055.5L1637.6 1050.3L1645.6 1045.4L1646.3 1036.1Z" fill="#231f20"/>
<path d="M1383.5 1034L1383.5 1074.5L1451.5 1098.5" fill="none" stroke="#231f20" stroke-width="2.2" stroke-linejoin="round"/>
<path d="M1467 1104L1442.1 1104L1448.8 1097.6L1447.6 1088.3Z" fill="#231f20"/>
<path d="M1409.5 1343L1392 1288.7" fill="none" stroke="#231f20" stroke-width="2.2" stroke-linejoin="round"/>
<path d="M1387 1273L1402.1 1292.8L1392.9 1291.3L1386.3 1297.9Z" fill="#231f20"/>
<path d="M1409.5 1343L1440.5 1287.4" fill="none" stroke="#231f20" stroke-width="2.2" stroke-linejoin="round"/>
<path d="M1448.5 1273L1444.3 1297.6L1439.1 1289.8L1429.8 1289.5Z" fill="#231f20"/>
<path d="M1475 1363L1509.5 1363L1507.3 1229.4" fill="none" stroke="#231f20" stroke-width="2.2" stroke-linejoin="round"/>
<path d="M1507 1213L1515.7 1236.4L1507.3 1232.3L1499.1 1236.6Z" fill="#231f20"/>
<path d="M1509.5 1363L1573.1 1180" fill="none" stroke="#231f20" stroke-width="2.2" stroke-linejoin="round"/>
<path d="M1578.5 1164.5L1578.6 1189.4L1572.2 1182.7L1562.9 1184Z" fill="#231f20"/>
<path d="M1582.5 1378L1603.2 1259.2" fill="none" stroke="#231f20" stroke-width="2.2" stroke-linejoin="round"/>
<path d="M1606 1243L1610.1 1267.6L1602.7 1262L1593.8 1264.7Z" fill="#231f20"/>
<path d="M2058.5 1343L2060.6 1261.9" fill="none" stroke="#231f20" stroke-width="2.2" stroke-linejoin="round"/>
<path d="M2061 1245.5L2068.7 1269.2L2060.5 1264.8L2052.1 1268.8Z" fill="#231f20"/>
<path d="M1933.5 1267L1933.7 1162.8L1778 1130.4" fill="none" stroke="#231f20" stroke-width="2.2" stroke-linejoin="round"/>
<path d="M1761.9 1127.1L1786.6 1123.8L1780.8 1131L1783.2 1140Z" fill="#231f20"/>
<path d="M1933.7 1162.8L2027.2 1008.7" fill="none" stroke="#231f20" stroke-width="2.2" stroke-linejoin="round"/>
<path d="M2035.7 994.6L2030.6 1019L2025.7 1011.1L2016.4 1010.4Z" fill="#231f20"/>
<path d="M1933.7 1162.8L1912.2 1185.9" fill="none" stroke="#231f20" stroke-width="2.2" stroke-linejoin="round"/>
<path d="M1901 1198L1910.9 1175.1L1914.1 1183.9L1923.1 1186.4Z" fill="#231f20"/>
<path d="M2093.5 1470.5L1967.4 1468.3" fill="none" stroke="#231f20" stroke-width="2.2" stroke-linejoin="round"/>
<path d="M1951 1468L1974.6 1460.1L1970.3 1468.3L1974.4 1476.7Z" fill="#231f20"/>
<path d="M1316 1411.5L1260 1411.5L1186.2 1381.7" fill="none" stroke="#231f20" stroke-width="2.2" stroke-linejoin="round"/>
<path d="M1171 1375.5L1195.9 1376.6L1188.9 1382.7L1189.7 1392Z" fill="#231f20"/>
<path d="M1260 1411.5L1261.2 1436.6" fill="none" stroke="#231f20" stroke-width="2.2" stroke-linejoin="round"/>
<path d="M1262 1453L1252.6 1429.9L1261.1 1433.8L1269.2 1429.1Z" fill="#231f20"/>
<path d="M1467 1495.5L1467 1466.5L1512.6 1453.9" fill="none" stroke="#231f20" stroke-width="2.2" stroke-linejoin="round"/>
<path d="M1528.5 1449.5L1508.1 1463.8L1509.9 1454.6L1503.6 1447.8Z" fill="#231f20"/>
<path d="M1814.5 1710L1814.5 1560L1820.3 1429.4" fill="none" stroke="#231f20" stroke-width="2.2" stroke-linejoin="round"/>
<path d="M1821 1413L1828.3 1436.8L1820.1 1432.3L1811.7 1436.1Z" fill="#231f20"/>
<path d="M2146 1069L2112.4 1071.7" fill="none" stroke="#231f20" stroke-width="2.2" stroke-linejoin="round"/>
<path d="M2096 1073L2118.8 1062.9L2115.2 1071.5L2120.1 1079.4Z" fill="#231f20"/>
<path d="M2204.5 1136.5L2184.9 1136.5" fill="none" stroke="#231f20" stroke-width="2.2" stroke-linejoin="round"/>
<path d="M2168.5 1136.5L2192 1128.2L2187.8 1136.5L2192 1144.8Z" fill="#231f20"/>
<path d="M2187 963L2265.6 912.8" fill="none" stroke="#231f20" stroke-width="2.2" stroke-linejoin="round"/>
<path d="M2279.5 904L2264.2 923.6L2263.3 914.4L2255.2 909.6Z" fill="#231f20"/>
<path d="M2627 1001.5L2590.8 996.7" fill="none" stroke="#231f20" stroke-width="2.2" stroke-linejoin="round"/>
<path d="M2574.5 994.5L2598.9 989.4L2593.6 997L2596.7 1005.8Z" fill="#231f20"/>
<path d="M2473 1285.5L2357.4 1293.4" fill="none" stroke="#231f20" stroke-width="2.2" stroke-linejoin="round"/>
<path d="M2341 1294.5L2363.9 1284.6L2360.2 1293.2L2365 1301.2Z" fill="#231f20"/>
<path d="M205 1610L272 1528.7" fill="none" stroke="#231f20" stroke-width="2.2" stroke-linejoin="round"/>
<path d="M282.5 1516L274 1539.4L270.2 1530.9L261.1 1528.9Z" fill="#231f20"/>
<path d="M365 1646L373.9 1577.3" fill="none" stroke="#231f20" stroke-width="2.2" stroke-linejoin="round"/>
<path d="M376 1561L381.2 1585.4L373.5 1580.1L364.8 1583.2Z" fill="#231f20"/>
<path d="M760 1617L760 1583.5L901.1 1579" fill="none" stroke="#231f20" stroke-width="2.2" stroke-linejoin="round"/>
<path d="M917.5 1578.5L894.3 1587.5L898.2 1579.1L893.7 1570.9Z" fill="#231f20"/>
<path d="M660 1746L733.6 1741.9" fill="none" stroke="#231f20" stroke-width="2.2" stroke-linejoin="round"/>
<path d="M750 1741L727 1750.6L730.8 1742.1L726.1 1734Z" fill="#231f20"/>
<path d="M673.5 1837L761.1 1831.1" fill="none" stroke="#231f20" stroke-width="2.2" stroke-linejoin="round"/>
<path d="M777.5 1830L754.6 1839.9L758.3 1831.3L753.5 1823.3Z" fill="#231f20"/>
<path d="M894 1901L897.2 1734.9" fill="none" stroke="#231f20" stroke-width="2.2" stroke-linejoin="round"/>
<path d="M897.5 1718.5L905.3 1742.2L897.1 1737.8L888.8 1741.8Z" fill="#231f20"/>
<path d="M895 1846L985.2 1663.3" fill="none" stroke="#231f20" stroke-width="2.2" stroke-linejoin="round"/>
<path d="M992.5 1648.5L989.5 1673.2L984 1665.8L974.7 1665.9Z" fill="#231f20"/>
<path d="M895 1846L1043.6 1690.4" fill="none" stroke="#231f20" stroke-width="2.2" stroke-linejoin="round"/>
<path d="M1055 1678.5L1044.8 1701.2L1041.7 1692.4L1032.8 1689.8Z" fill="#231f20"/>
<path d="M1001.5 2052.5L1004.6 1939.9" fill="none" stroke="#231f20" stroke-width="2.2" stroke-linejoin="round"/>
<path d="M1005 1923.5L1012.7 1947.2L1004.5 1942.8L996.1 1946.8Z" fill="#231f20"/>
<path d="M1211 1613.5L1197.3 1569.2" fill="none" stroke="#231f20" stroke-width="2.2" stroke-linejoin="round"/>
<path d="M1192.5 1553.5L1207.4 1573.5L1198.2 1571.9L1191.5 1578.4Z" fill="#231f20"/>
<path d="M1713.5 1656L1709.3 1572.4" fill="none" stroke="#231f20" stroke-width="2.2" stroke-linejoin="round"/>
<path d="M1708.5 1556L1718 1579.1L1709.5 1575.2L1701.4 1579.9Z" fill="#231f20"/>
<path d="M1903.5 1652L1896.9 1594.8" fill="none" stroke="#231f20" stroke-width="2.2" stroke-linejoin="round"/>
<path d="M1895 1578.5L1905.9 1600.9L1897.2 1597.6L1889.5 1602.8Z" fill="#231f20"/>
<path d="M1614.5 1718.5L1606.8 1561.4" fill="none" stroke="#231f20" stroke-width="2.2" stroke-linejoin="round"/>
<path d="M1606 1545L1615.4 1568.1L1606.9 1564.2L1598.9 1568.9Z" fill="#231f20"/>
<path d="M1615 1756L1622.9 1957.1" fill="none" stroke="#231f20" stroke-width="2.2" stroke-linejoin="round"/>
<path d="M1623.5 1973.5L1614.3 1950.3L1622.7 1954.2L1630.9 1949.7Z" fill="#231f20"/>
<path d="M1507.5 1862L1511.7 1944.6" fill="none" stroke="#231f20" stroke-width="2.2" stroke-linejoin="round"/>
<path d="M1512.5 1961L1503 1937.9L1511.5 1941.8L1519.6 1937.1Z" fill="#231f20"/>
<path d="M1353.5 1881L1346.1 1769.9" fill="none" stroke="#231f20" stroke-width="2.2" stroke-linejoin="round"/>
<path d="M1345 1753.5L1354.8 1776.4L1346.3 1772.7L1338.3 1777.5Z" fill="#231f20"/>
<path d="M1180 1981L1116.2 1954.8" fill="none" stroke="#231f20" stroke-width="2.2" stroke-linejoin="round"/>
<path d="M1101 1948.5L1125.9 1949.8L1118.8 1955.8L1119.6 1965.1Z" fill="#231f20"/>
<path d="M1997.5 1941L1987.5 1838.5" fill="none" stroke="#231f20" stroke-width="2.2" stroke-linejoin="round"/>
<path d="M2184.5 1581L2108.2 1650" fill="none" stroke="#231f20" stroke-width="2.2" stroke-linejoin="round"/>
<path d="M2096 1661L2107.9 1639.1L2110.3 1648.1L2119 1651.4Z" fill="#231f20"/>
<path d="M2349.5 1634.5L2285.8 1642.5" fill="none" stroke="#231f20" stroke-width="2.2" stroke-linejoin="round"/>
<path d="M2269.5 1644.5L2291.8 1633.3L2288.6 1642.1L2293.8 1649.8Z" fill="#231f20"/>
<path d="M2394.5 1741L2357 1723.8" fill="none" stroke="#231f20" stroke-width="2.2" stroke-linejoin="round"/>
<path d="M2342 1717L2366.8 1719.2L2359.5 1725L2359.9 1734.3Z" fill="#231f20"/>
<path d="M2663 1662L2653.4 1544.9" fill="none" stroke="#231f20" stroke-width="2.2" stroke-linejoin="round"/>
<path d="M2652 1528.5L2662.2 1551.2L2653.6 1547.7L2645.7 1552.6Z" fill="#231f20"/>
<path d="M2834.5 1785L2891.5 1704.4" fill="none" stroke="#231f20" stroke-width="2.2" stroke-linejoin="round"/>
<path d="M2901 1691L2894.2 1715L2889.9 1706.7L2880.7 1705.4Z" fill="#231f20"/>
<path d="M2949.5 1921L2983.1 1841.2" fill="none" stroke="#231f20" stroke-width="2.2" stroke-linejoin="round"/>
<path d="M2989.5 1826L2988 1850.9L2982 1843.8L2972.7 1844.4Z" fill="#231f20"/>
<path d="M3059.5 1996L3096.3 1812.1" fill="none" stroke="#231f20" stroke-width="2.2" stroke-linejoin="round"/>
<path d="M3099.5 1796L3103 1820.7L3095.7 1814.9L3086.8 1817.4Z" fill="#231f20"/>
<path d="M3077 1503.5L3027.5 1591.7" fill="none" stroke="#231f20" stroke-width="2.2" stroke-linejoin="round"/>
<path d="M3019.5 1606L3023.8 1581.4L3028.9 1589.2L3038.2 1589.6Z" fill="#231f20"/>
<path d="M1751 1136.5L1840 1199.5L1840 1318L1776 1348L1776 1378L1631 1378L1631 1328L1645 1285.5L1645 1180.5Z" fill="none" stroke="#231f20" stroke-width="2.4" stroke-linejoin="round" stroke-linecap="round" stroke-dasharray="8 5.5"/>
<path d="M2412 871.5L2484.5 903L2487 925.5L2472 998L2472 1041.5L2328 1041.5L2328 998L2352 973L2359.5 933Z" fill="none" stroke="#231f20" stroke-width="2.4" stroke-linejoin="round" stroke-linecap="round" stroke-dasharray="8 5.5"/>
<g font-family="Liberation Sans, sans-serif" font-size="26.5" fill="#231f20" text-rendering="geometricPrecision">
<text x="470" y="277.5" textLength="91" lengthAdjust="spacing">TLR5900</text>
<text x="845" y="293" textLength="113" lengthAdjust="spacing">AXI232072</text>
<text x="429" y="354" textLength="113" lengthAdjust="spacing">AXI232018</text>
<text x="438" y="483.5" textLength="91" lengthAdjust="spacing">TLR5900</text>
<text x="996" y="477.5" textLength="114" lengthAdjust="spacing">AXI232062</text>
<text x="683" y="609" textLength="103" lengthAdjust="spacing" stroke="#231f20" stroke-width="0.7">AXIC0221</text>
<text x="652" y="712" textLength="113" lengthAdjust="spacing">AXI234036</text>
<text x="1033" y="792" textLength="114" lengthAdjust="spacing" stroke="#231f20" stroke-width="0.7">AXI234003</text>
<text x="1329.5" y="606" textLength="113" lengthAdjust="spacing">AXI232082</text>
<text x="1467.5" y="712.5" textLength="112.5" lengthAdjust="spacing">AXI232071</text>
<text x="1648.5" y="698" textLength="104" lengthAdjust="spacing" stroke="#231f20" stroke-width="0.7">AXIC0114</text>
<text x="1774.5" y="744" textLength="90.5" lengthAdjust="spacing">TLR5900</text>
<text x="1854.5" y="791" textLength="112.5" lengthAdjust="spacing">AXI232072</text>
<text x="1919.5" y="642.5" textLength="113" lengthAdjust="spacing" stroke="#231f20" stroke-width="0.7">AXI232003</text>
<text x="2077" y="596.5" textLength="104" lengthAdjust="spacing" stroke="#231f20" stroke-width="0.7">AXIC4406</text>
<text x="2214.5" y="538" textLength="114" lengthAdjust="spacing" stroke="#231f20" stroke-width="0.7">AXI232002</text>
<text x="2574.5" y="701.5" textLength="112.5" lengthAdjust="spacing">AXI232044</text>
<text x="868.5" y="845.5" textLength="113" lengthAdjust="spacing" stroke="#231f20" stroke-width="0.7">AXI233036</text>
<text x="740" y="930.5" textLength="112.5" lengthAdjust="spacing" stroke="#231f20" stroke-width="0.7">AXI234004</text>
<text x="811" y="998" textLength="105" lengthAdjust="spacing" stroke="#231f20" stroke-width="0.7">AXIC0012</text>
<text x="141.5" y="1023" textLength="113.5" lengthAdjust="spacing">AXI234036</text>
<text x="491" y="1079.5" textLength="112.5" lengthAdjust="spacing">AXI234043</text>
<text x="866.5" y="1107" textLength="113.5" lengthAdjust="spacing">AXI234036</text>
<text x="1061" y="1089" textLength="112.5" lengthAdjust="spacing" stroke="#231f20" stroke-width="0.7">AXI234004</text>
<text x="600" y="1250" textLength="113" lengthAdjust="spacing">AXI234042</text>
<text x="980" y="1304" textLength="105" lengthAdjust="spacing" stroke="#231f20" stroke-width="0.7">AXIC0795</text>
<text x="174" y="1372" textLength="113.5" lengthAdjust="spacing" stroke="#231f20" stroke-width="0.7">AXI234004</text>
<text x="730" y="1458" textLength="104" lengthAdjust="spacing" stroke="#231f20" stroke-width="0.7">AXIC0795</text>
<text x="1837.5" y="842" textLength="88.5" lengthAdjust="spacing" stroke="#231f20" stroke-width="0.7">TLR6289</text>
<text x="1371" y="987" textLength="104" lengthAdjust="spacing" stroke="#231f20" stroke-width="0.7">AXIC0221</text>
<text x="1312.5" y="1025.5" textLength="105" lengthAdjust="spacing" stroke="#231f20" stroke-width="0.7">AXIC1028</text>
<text x="1343.5" y="1374" textLength="106" lengthAdjust="spacing" stroke="#231f20" stroke-width="0.7">AXIC1148</text>
<text x="1520" y="1403" textLength="105" lengthAdjust="spacing" stroke="#231f20" stroke-width="0.7">AXIC0286</text>
<text x="1635" y="1368" textLength="112.5" lengthAdjust="spacing" stroke="#231f20" stroke-width="0.7">AXI235102</text>
<text x="1321" y="1421.5" textLength="104" lengthAdjust="spacing" stroke="#231f20" stroke-width="0.7">AXIC0118</text>
<text x="1398.5" y="1520.5" textLength="113.5" lengthAdjust="spacing" stroke="#231f20" stroke-width="0.7">AXI234004</text>
<text x="1867.5" y="1291.5" textLength="89.5" lengthAdjust="spacing" stroke="#231f20" stroke-width="0.7">TLR6289</text>
<text x="1992.5" y="1369.5" textLength="112.5" lengthAdjust="spacing">AXI232071</text>
<text x="2095" y="1479" textLength="113.5" lengthAdjust="spacing" stroke="#231f20" stroke-width="0.7">AXI233036</text>
<text x="2116" y="987" textLength="113.5" lengthAdjust="spacing" stroke="#231f20" stroke-width="0.7">AXI232003</text>
<text x="2333.5" y="1028" textLength="104.5" lengthAdjust="spacing" stroke="#231f20" stroke-width="0.7">AXIC3066</text>
<text x="2631" y="1013" textLength="104.5" lengthAdjust="spacing" stroke="#231f20" stroke-width="0.7">AXIC4406</text>
<text x="2152" y="1073" textLength="104" lengthAdjust="spacing" stroke="#231f20" stroke-width="0.7">AXIC0114</text>
<text x="2209.5" y="1144" textLength="90" lengthAdjust="spacing">TLR5900</text>
<text x="2477" y="1294.5" textLength="114" lengthAdjust="spacing" stroke="#231f20" stroke-width="0.7">AXI232082</text>
<text x="3021" y="1491.5" textLength="90" lengthAdjust="spacing" stroke="#231f20" stroke-width="0.7">TLR5900</text>
<text x="139" y="1636" textLength="113.5" lengthAdjust="spacing">AXI234036</text>
<text x="304" y="1671" textLength="113.5" lengthAdjust="spacing" stroke="#231f20" stroke-width="0.7">AXI234004</text>
<text x="690" y="1642" textLength="105" lengthAdjust="spacing" stroke="#231f20" stroke-width="0.7">AXIC1028</text>
<text x="526.5" y="1756" textLength="105" lengthAdjust="spacing" stroke="#231f20" stroke-width="0.7">AXIC1148</text>
<text x="543.5" y="1845" textLength="105" lengthAdjust="spacing" stroke="#231f20" stroke-width="0.7">AXIC0286</text>
<text x="827.5" y="1924.5" textLength="105" lengthAdjust="spacing" stroke="#231f20" stroke-width="0.7">AXIC1148</text>
<text x="943.5" y="2078.5" textLength="113" lengthAdjust="spacing" stroke="#231f20" stroke-width="0.7">AXI234004</text>
<text x="1144.5" y="1640" textLength="105" lengthAdjust="spacing" stroke="#231f20" stroke-width="0.7">AXIC0795</text>
<text x="1657" y="1677.5" textLength="105" lengthAdjust="spacing" stroke="#231f20" stroke-width="0.7">AXIC0012</text>
<text x="1843.5" y="1677.5" textLength="113.5" lengthAdjust="spacing" stroke="#231f20" stroke-width="0.7">AXI234004</text>
<text x="1749.5" y="1732" textLength="114" lengthAdjust="spacing" stroke="#231f20" stroke-width="0.7">AXI234003</text>
<text x="1526" y="1747.5" textLength="113.5" lengthAdjust="spacing">AXI234036</text>
<text x="1440" y="1847" textLength="113.5" lengthAdjust="spacing" stroke="#231f20" stroke-width="0.7">AXI234004</text>
<text x="1285" y="1904.5" textLength="112.5" lengthAdjust="spacing">AXI234042</text>
<text x="1185" y="1992.5" textLength="113.5" lengthAdjust="spacing">AXI234036</text>
<text x="1931" y="1966" textLength="112.5" lengthAdjust="spacing" stroke="#231f20" stroke-width="0.7">AXI234043</text>
<text x="2191" y="1592.5" textLength="105" lengthAdjust="spacing" stroke="#231f20" stroke-width="0.7">AXIC0012</text>
<text x="2355.5" y="1643.5" textLength="113" lengthAdjust="spacing" stroke="#231f20" stroke-width="0.7">AXI234004</text>
<text x="2399.5" y="1747" textLength="113.5" lengthAdjust="spacing" stroke="#231f20" stroke-width="0.7">AXI234036</text>
<text x="2604.5" y="1686" textLength="113.5" lengthAdjust="spacing" stroke="#231f20" stroke-width="0.7">AXI232062</text>
<text x="2776" y="1813.5" textLength="104" lengthAdjust="spacing" stroke="#231f20" stroke-width="0.7">AXIC0221</text>
<text x="2888.5" y="1945" textLength="89.5" lengthAdjust="spacing" stroke="#231f20" stroke-width="0.7">TLR5900</text>
<text x="2998" y="2024.5" textLength="113" lengthAdjust="spacing" stroke="#231f20" stroke-width="0.7">AXI232018</text>
</g>
</svg></body></html>
